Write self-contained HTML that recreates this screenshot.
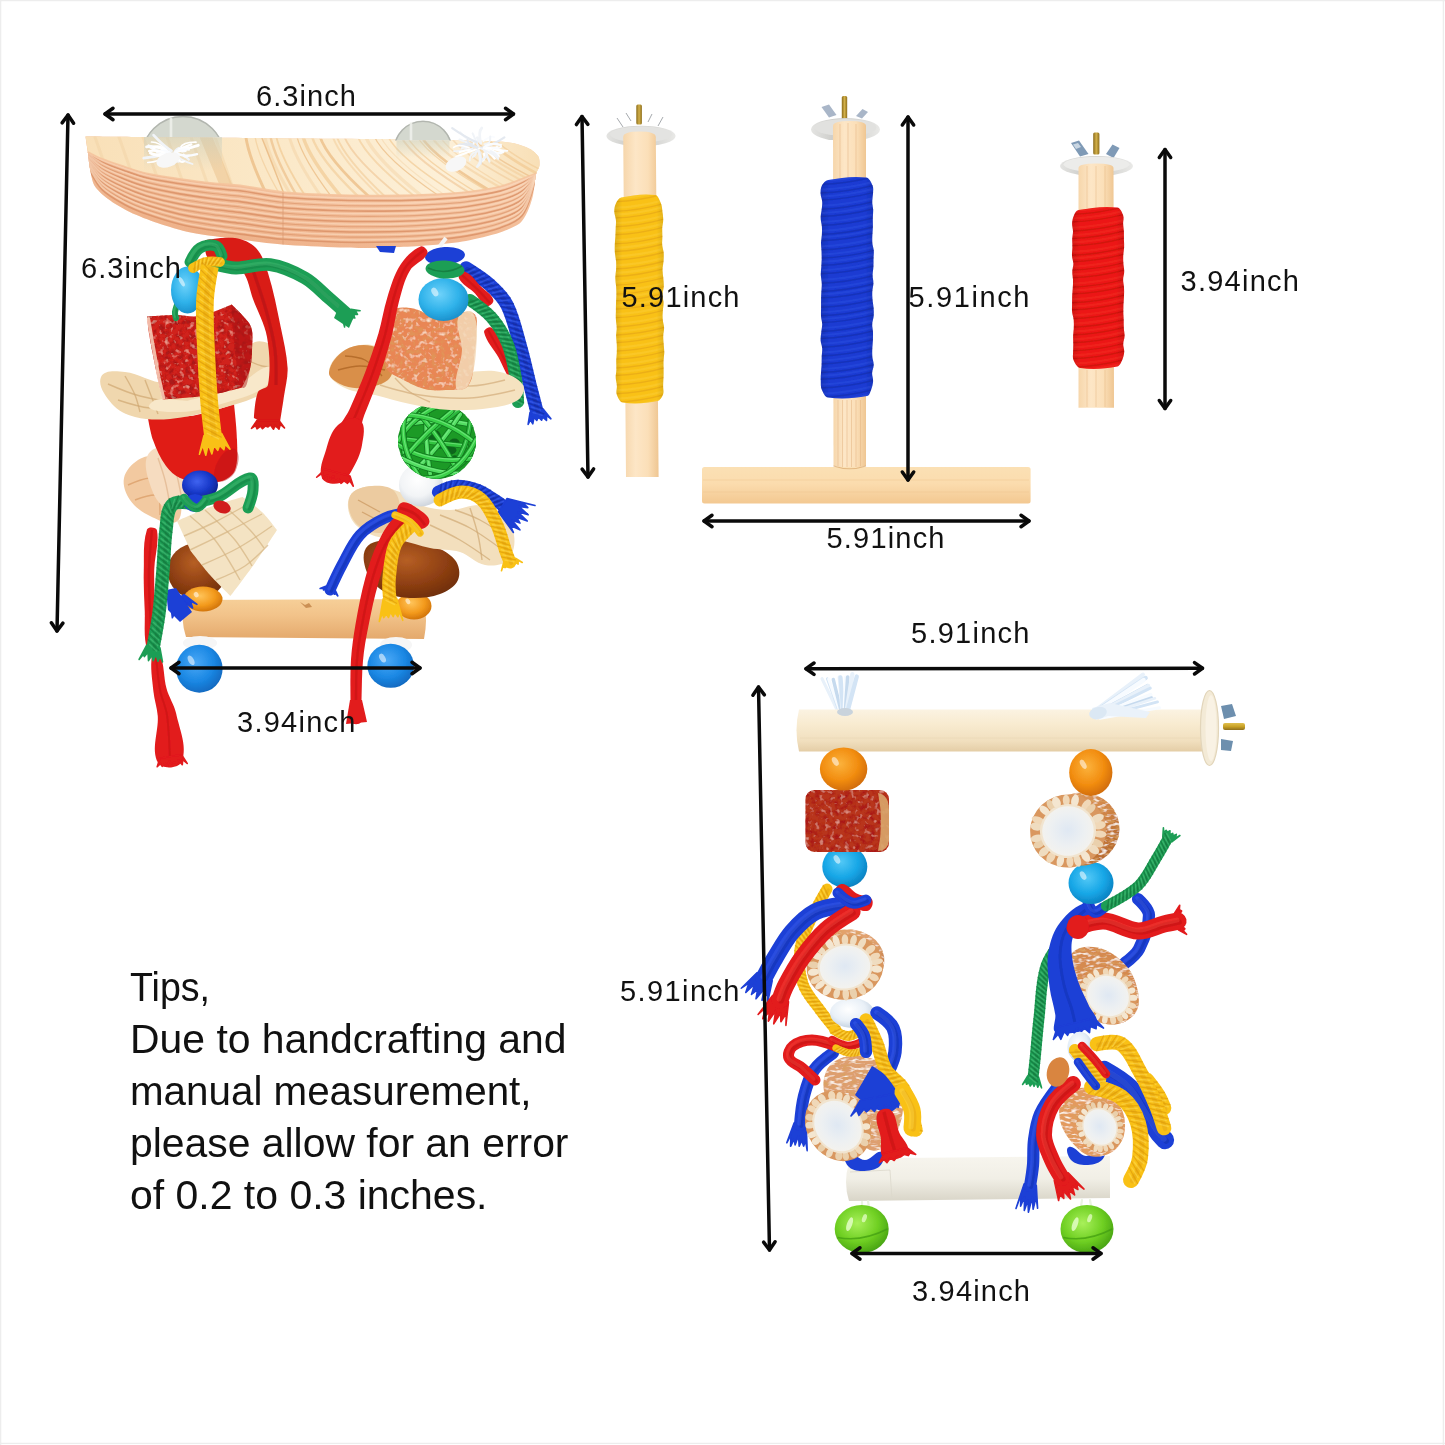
<!DOCTYPE html>
<html lang="en"><head><meta charset="utf-8"><title>Bird toy size chart</title>
<style>
html,body{margin:0;padding:0;background:#fff;}
body{width:1445px;height:1445px;overflow:hidden;font-family:"Liberation Sans",Arial,Helvetica,sans-serif;}
svg{display:block;position:absolute;left:0;top:0;}
</style></head><body>
<svg width="1445" height="1445" viewBox="0 0 1445 1445">
<defs>
<filter id="soft" x="0" y="0" width="1445" height="1445" filterUnits="userSpaceOnUse"><feGaussianBlur stdDeviation="0.55"/></filter>
<filter id="tex" x="-5%" y="-5%" width="110%" height="110%"><feTurbulence type="fractalNoise" baseFrequency="0.2" numOctaves="2" seed="3" result="n"/><feColorMatrix in="n" type="matrix" values="0 0 0 0 1  0 0 0 0 0.55  0 0 0 0 0.45  1.8 0 0 0 -1.05" result="w"/><feComposite in="w" in2="SourceGraphic" operator="in" result="wi"/><feColorMatrix in="n" type="matrix" values="0 0 0 0 0.4  0 0 0 0 0.01  0 0 0 0 0.01  0 3.0 0 0 -1.3" result="k"/><feComposite in="k" in2="SourceGraphic" operator="in" result="ki"/><feMerge><feMergeNode in="SourceGraphic"/><feMergeNode in="ki"/><feMergeNode in="wi"/></feMerge></filter><filter id="texO" x="-5%" y="-5%" width="110%" height="110%"><feTurbulence type="fractalNoise" baseFrequency="0.22" numOctaves="2" seed="5" result="n"/><feColorMatrix in="n" type="matrix" values="0 0 0 0 1  0 0 0 0 0.86  0 0 0 0 0.72  2.2 0 0 0 -1.18" result="w"/><feComposite in="w" in2="SourceGraphic" operator="in" result="wi"/><feColorMatrix in="n" type="matrix" values="0 0 0 0 0.74  0 0 0 0 0.3  0 0 0 0 0.1  0 3.0 0 0 -1.35" result="k"/><feComposite in="k" in2="SourceGraphic" operator="in" result="ki"/><feMerge><feMergeNode in="SourceGraphic"/><feMergeNode in="ki"/><feMergeNode in="wi"/></feMerge></filter><filter id="tex2" x="-5%" y="-5%" width="110%" height="110%"><feTurbulence type="fractalNoise" baseFrequency="0.14 0.34" numOctaves="2" seed="8" result="n"/><feColorMatrix in="n" type="matrix" values="0 0 0 0 1  0 0 0 0 0.96  0 0 0 0 0.9  3.2 0 0 0 -1.6" result="w"/><feComposite in="w" in2="SourceGraphic" operator="in" result="wi"/><feColorMatrix in="n" type="matrix" values="0 0 0 0 0.7  0 0 0 0 0.36  0 0 0 0 0.12  0 3.0 0 0 -1.45" result="k"/><feComposite in="k" in2="SourceGraphic" operator="in" result="ki"/><feMerge><feMergeNode in="SourceGraphic"/><feMergeNode in="ki"/><feMergeNode in="wi"/></feMerge></filter><filter id="texH" x="-5%" y="-5%" width="110%" height="110%"><feTurbulence type="fractalNoise" baseFrequency="0.05 0.4" numOctaves="2" seed="12" result="n"/><feColorMatrix in="n" type="matrix" values="0 0 0 0 1  0 0 0 0 0.98  0 0 0 0 0.92  2.4 0 0 0 -1.2" result="w"/><feComposite in="w" in2="SourceGraphic" operator="in" result="wi"/><feColorMatrix in="n" type="matrix" values="0 0 0 0 0.78  0 0 0 0 0.6  0 0 0 0 0.36  0 3.0 0 0 -1.4" result="k"/><feComposite in="k" in2="SourceGraphic" operator="in" result="ki"/><feMerge><feMergeNode in="SourceGraphic"/><feMergeNode in="ki"/><feMergeNode in="wi"/></feMerge></filter><filter id="texW" x="-5%" y="-5%" width="110%" height="110%"><feTurbulence type="fractalNoise" baseFrequency="0.015 0.5" numOctaves="3" seed="21" result="n"/><feColorMatrix in="n" type="matrix" values="0 0 0 0 1  0 0 0 0 0.9  0 0 0 0 0.8  2.5 0 0 0 -1.25" result="w"/><feComposite in="w" in2="SourceGraphic" operator="in" result="wi"/><feColorMatrix in="n" type="matrix" values="0 0 0 0 0.82  0 0 0 0 0.5  0 0 0 0 0.32  0 3.4 0 0 -1.5" result="k"/><feComposite in="k" in2="SourceGraphic" operator="in" result="ki"/><feMerge><feMergeNode in="SourceGraphic"/><feMergeNode in="ki"/><feMergeNode in="wi"/></feMerge></filter></defs>
<rect width="1445" height="1445" fill="#fff"/>
<g fill="none" stroke="#ededed" stroke-width="1.4"><path d="M0 .6H1445M.6 0V1445M1443.4 0V1445M0 1443.4H1445"/></g>
<g filter="url(#soft)">
<g id="toy1"><linearGradient id="cup" x1="0" x2="1" y1="0" y2="1"><stop offset="0" stop-color="#dededa"/><stop offset=".5" stop-color="#c2c3bd"/><stop offset="1" stop-color="#b4b6ae"/></linearGradient><linearGradient id="pside" x1="0" x2="0" y1="0" y2="1"><stop offset="0" stop-color="#f9d4b6"/><stop offset=".5" stop-color="#f6c8a6"/><stop offset="1" stop-color="#f1b892"/></linearGradient><linearGradient id="ptop" x1="0" x2="1" y1="0" y2="0"><stop offset="0" stop-color="#f9e0b8"/><stop offset=".45" stop-color="#fbe9c9"/><stop offset=".8" stop-color="#fdf0d8"/><stop offset="1" stop-color="#f8dfb6"/></linearGradient><path d="M85.5 136.5C85.5 136.5 169.8 137.2 200 137.5C226.4 137.7 273.6 138.3 300 138.5C331.7 138.8 388.3 139 420 139.5C441.1 139.8 478.9 140.6 500 141.5C503.7 141.7 510.4 142.4 514 143.3C518.4 144.4 526.1 146.9 530 149C532.6 150.4 536.9 154 538.4 156.6C539.6 158.7 539.8 163.2 539.5 165.5C539.2 167.7 536.7 171 536.2 173.2C534.9 179 534.3 189.6 533 195.4C532 199.9 529.4 207.8 527.4 212C525.8 215.3 522.5 221.3 519.6 223.5C515 226.9 505.4 230.7 500 232.5C491.2 235.4 475.1 239.3 466 241C457.4 242.6 441.7 244.2 433 245C424.3 245.8 408.7 246.6 400 247C393.1 247.3 380.9 247.9 374 248C365 248.1 349 247.8 340 247.5C324.7 246.9 297.3 245.7 282 244.5C270.9 243.6 251.1 241 240 239.5C227 237.8 203.6 235.1 190.7 232.5C181.8 230.7 166.1 225.9 157.5 223C150 220.5 136.9 215.5 129.8 212C123.7 209 113.1 202.8 107.7 198.7C103.7 195.7 96.9 189.7 94.4 185.4C92.1 181.5 90.9 173.2 90 168.8C89.1 164.4 88.4 156.4 87.8 152C87.2 147.9 85.5 136.5 85.5 136.5Z" fill="url(#pside)"/><clipPath id="psil"><path d="M85.5 136.5C85.5 136.5 169.8 137.2 200 137.5C226.4 137.7 273.6 138.3 300 138.5C331.7 138.8 388.3 139 420 139.5C441.1 139.8 478.9 140.6 500 141.5C503.7 141.7 510.4 142.4 514 143.3C518.4 144.4 526.1 146.9 530 149C532.6 150.4 536.9 154 538.4 156.6C539.6 158.7 539.8 163.2 539.5 165.5C539.2 167.7 536.7 171 536.2 173.2C534.9 179 534.3 189.6 533 195.4C532 199.9 529.4 207.8 527.4 212C525.8 215.3 522.5 221.3 519.6 223.5C515 226.9 505.4 230.7 500 232.5C491.2 235.4 475.1 239.3 466 241C457.4 242.6 441.7 244.2 433 245C424.3 245.8 408.7 246.6 400 247C393.1 247.3 380.9 247.9 374 248C365 248.1 349 247.8 340 247.5C324.7 246.9 297.3 245.7 282 244.5C270.9 243.6 251.1 241 240 239.5C227 237.8 203.6 235.1 190.7 232.5C181.8 230.7 166.1 225.9 157.5 223C150 220.5 136.9 215.5 129.8 212C123.7 209 113.1 202.8 107.7 198.7C103.7 195.7 96.9 189.7 94.4 185.4C92.1 181.5 90.9 173.2 90 168.8C89.1 164.4 88.4 156.4 87.8 152C87.2 147.9 85.5 136.5 85.5 136.5Z"/></clipPath><linearGradient id="psidel" x1="0" x2="1" y1="0" y2="0"><stop offset="0" stop-color="#e59a6c" stop-opacity=".42"/><stop offset=".45" stop-color="#e59a6c" stop-opacity=".18"/><stop offset=".7" stop-color="#e59a6c" stop-opacity="0"/></linearGradient><rect x="80" y="130" width="470" height="125" fill="url(#psidel)" clip-path="url(#psil)"/><g clip-path="url(#psil)" fill="none"><path d="M80 143.8C80 143.8 84.6 151.1 87.8 153.8C92 157.3 97.1 159.9 102 162.2C109.1 165.5 116.9 168.1 124.3 170.7C131.5 173.2 139 176 146.4 177.7C157.3 180.3 168.7 182 179.7 183.8C190.7 185.5 202 187 213 188.3C221.9 189.3 231.1 189.7 240 190.8C254.2 192.6 268.7 195.9 283 197.3C302.1 199 321.8 199.7 341 200.3C360.5 200.8 380.5 200.7 400 200.6C410.9 200.5 422.1 200 433 199.4C443.9 198.8 455.2 198.2 466 196.9C477.3 195.5 489 193.9 500 191.1C507.5 189.2 515 186.2 522 182.9C527 180.6 532.3 178 536.2 174.1C540.1 170.2 545 160.1 545 160.1" stroke="#d98f64" stroke-width="1.6" opacity=".8"/><path d="M80 143.8C80 143.8 84.6 151.1 87.8 153.8C92 157.3 97.1 159.9 102 162.2C109.1 165.5 116.9 168.1 124.3 170.7C131.5 173.2 139 176 146.4 177.7C157.3 180.3 168.7 182 179.7 183.8C190.7 185.5 202 187 213 188.3C221.9 189.3 231.1 189.7 240 190.8C254.2 192.6 268.7 195.9 283 197.3C302.1 199 321.8 199.7 341 200.3C360.5 200.8 380.5 200.7 400 200.6C410.9 200.5 422.1 200 433 199.4C443.9 198.8 455.2 198.2 466 196.9C477.3 195.5 489 193.9 500 191.1C507.5 189.2 515 186.2 522 182.9C527 180.6 532.3 178 536.2 174.1C540.1 170.2 545 160.1 545 160.1" stroke="#fbdcc2" stroke-width="1.6" opacity=".6" transform="translate(0 -2.5)"/><path d="M80 145.6C80 145.6 84.7 152.8 87.8 155.6C92 159.5 96.9 163 102 165.6C109 169.4 116.8 172.1 124.3 174.9C131.5 177.6 138.9 180.4 146.4 182.3C157.3 185 168.7 187 179.7 188.8C190.6 190.7 202 192.2 213 193.5C221.9 194.6 231.1 195.1 240 196.2C254.2 198 268.7 201.2 283 202.5C302.1 204.3 321.8 205 341 205.5C360.5 206 380.5 205.9 400 205.7C410.9 205.6 422.1 205.1 433 204.4C443.9 203.8 455.2 203.2 466 201.8C477.3 200.3 489 198.6 500 195.7C507.5 193.7 515.2 190.9 522 187C527.3 184 532.1 179.6 536.2 175C539.8 170.9 545 161 545 161" stroke="#d98f64" stroke-width="1.2" opacity=".6"/><path d="M80 145.6C80 145.6 84.7 152.8 87.8 155.6C92 159.5 96.9 163 102 165.6C109 169.4 116.8 172.1 124.3 174.9C131.5 177.6 138.9 180.4 146.4 182.3C157.3 185 168.7 187 179.7 188.8C190.6 190.7 202 192.2 213 193.5C221.9 194.6 231.1 195.1 240 196.2C254.2 198 268.7 201.2 283 202.5C302.1 204.3 321.8 205 341 205.5C360.5 206 380.5 205.9 400 205.7C410.9 205.6 422.1 205.1 433 204.4C443.9 203.8 455.2 203.2 466 201.8C477.3 200.3 489 198.6 500 195.7C507.5 193.7 515.2 190.9 522 187C527.3 184 532.1 179.6 536.2 175C539.8 170.9 545 161 545 161" stroke="#fbdcc2" stroke-width="1.6" opacity=".6" transform="translate(0 -2.5)"/><path d="M80 147.4C80 147.4 84.8 154.5 87.8 157.4C92.1 161.7 96.8 166 102 169.1C108.9 173.2 116.8 176.2 124.3 179.2C131.5 182 138.9 184.8 146.4 186.8C157.3 189.7 168.6 191.9 179.7 193.9C190.6 195.9 202 197.4 213 198.8C221.9 199.9 231.1 200.5 240 201.6C254.2 203.5 268.7 206.5 283 207.8C302.1 209.5 321.8 210.2 341 210.8C360.5 211.3 380.5 211.1 400 210.9C410.9 210.7 422.1 210.2 433 209.5C443.9 208.8 455.2 208.2 466 206.7C477.3 205.1 489 203.4 500 200.3C507.6 198.2 515.5 195.6 522 191.1C527.7 187.3 531.9 181.3 536.2 175.8C539.6 171.5 545 161.8 545 161.8" stroke="#d98f64" stroke-width="1.6" opacity=".8"/><path d="M80 147.4C80 147.4 84.8 154.5 87.8 157.4C92.1 161.7 96.8 166 102 169.1C108.9 173.2 116.8 176.2 124.3 179.2C131.5 182 138.9 184.8 146.4 186.8C157.3 189.7 168.6 191.9 179.7 193.9C190.6 195.9 202 197.4 213 198.8C221.9 199.9 231.1 200.5 240 201.6C254.2 203.5 268.7 206.5 283 207.8C302.1 209.5 321.8 210.2 341 210.8C360.5 211.3 380.5 211.1 400 210.9C410.9 210.7 422.1 210.2 433 209.5C443.9 208.8 455.2 208.2 466 206.7C477.3 205.1 489 203.4 500 200.3C507.6 198.2 515.5 195.6 522 191.1C527.7 187.3 531.9 181.3 536.2 175.8C539.6 171.5 545 161.8 545 161.8" stroke="#fbdcc2" stroke-width="1.6" opacity=".6" transform="translate(0 -2.5)"/><path d="M80 149.2C80 149.2 84.9 156.2 87.8 159.2C92.2 163.9 96.7 168.9 102 172.5C108.8 177 116.8 180.2 124.3 183.4C131.4 186.4 138.9 189.3 146.4 191.4C157.3 194.4 168.6 196.8 179.7 199C190.6 201 202 202.6 213 204.1C221.9 205.3 231.1 205.9 240 207C254.2 208.9 268.7 211.8 283 213C302.1 214.7 321.8 215.5 341 216C360.5 216.5 380.5 216.3 400 216C410.9 215.9 422.1 215.3 433 214.6C443.9 213.8 455.2 213.2 466 211.6C477.3 210 489 208.1 500 204.9C507.6 202.7 515.7 200.1 522 195.3C528.1 190.5 531.8 183 536.2 176.7C539.3 172.3 545 162.7 545 162.7" stroke="#d98f64" stroke-width="1.2" opacity=".6"/><path d="M80 149.2C80 149.2 84.9 156.2 87.8 159.2C92.2 163.9 96.7 168.9 102 172.5C108.8 177 116.8 180.2 124.3 183.4C131.4 186.4 138.9 189.3 146.4 191.4C157.3 194.4 168.6 196.8 179.7 199C190.6 201 202 202.6 213 204.1C221.9 205.3 231.1 205.9 240 207C254.2 208.9 268.7 211.8 283 213C302.1 214.7 321.8 215.5 341 216C360.5 216.5 380.5 216.3 400 216C410.9 215.9 422.1 215.3 433 214.6C443.9 213.8 455.2 213.2 466 211.6C477.3 210 489 208.1 500 204.9C507.6 202.7 515.7 200.1 522 195.3C528.1 190.5 531.8 183 536.2 176.7C539.3 172.3 545 162.7 545 162.7" stroke="#fbdcc2" stroke-width="1.6" opacity=".6" transform="translate(0 -2.5)"/><path d="M80 151C80 151 85 157.9 87.8 161C92.3 166.1 96.5 171.9 102 175.9C108.7 180.8 116.7 184.2 124.3 187.6C131.4 190.8 138.9 193.7 146.4 195.9C157.2 199.1 168.6 201.8 179.7 204C190.6 206.2 202 207.8 213 209.3C221.9 210.6 231.1 211.3 240 212.4C254.2 214.3 268.7 217 283 218.3C302.1 219.9 321.8 220.8 341 221.3C360.5 221.7 380.5 221.5 400 221.2C410.9 221 422.1 220.4 433 219.7C443.9 218.9 455.2 218.1 466 216.5C477.3 214.8 489 212.8 500 209.5C507.6 207.2 516 204.7 522 199.4C528.4 193.7 531.6 184.8 536.2 177.6C539.2 173 545 163.6 545 163.6" stroke="#d98f64" stroke-width="1.6" opacity=".8"/><path d="M80 151C80 151 85 157.9 87.8 161C92.3 166.1 96.5 171.9 102 175.9C108.7 180.8 116.7 184.2 124.3 187.6C131.4 190.8 138.9 193.7 146.4 195.9C157.2 199.1 168.6 201.8 179.7 204C190.6 206.2 202 207.8 213 209.3C221.9 210.6 231.1 211.3 240 212.4C254.2 214.3 268.7 217 283 218.3C302.1 219.9 321.8 220.8 341 221.3C360.5 221.7 380.5 221.5 400 221.2C410.9 221 422.1 220.4 433 219.7C443.9 218.9 455.2 218.1 466 216.5C477.3 214.8 489 212.8 500 209.5C507.6 207.2 516 204.7 522 199.4C528.4 193.7 531.6 184.8 536.2 177.6C539.2 173 545 163.6 545 163.6" stroke="#fbdcc2" stroke-width="1.6" opacity=".6" transform="translate(0 -2.5)"/><path d="M80 152.8C80 152.8 85.1 159.6 87.8 162.8C92.4 168.3 96.4 174.8 102 179.3C108.6 184.6 116.7 188.2 124.3 191.8C131.4 195.2 138.9 198.1 146.4 200.4C157.2 203.8 168.6 206.7 179.7 209.1C190.6 211.4 202 213 213 214.6C221.9 215.9 231.1 216.7 240 217.9C254.2 219.7 268.7 222.3 283 223.5C302.1 225.2 321.8 226 341 226.5C360.5 227 380.5 226.7 400 226.4C410.9 226.1 422.1 225.5 433 224.7C443.9 223.9 455.2 223.1 466 221.4C477.3 219.6 489.1 217.6 500 214.1C507.7 211.6 516.3 209.1 522 203.5C528.8 196.8 531.4 186.7 536.2 178.5C539 173.8 545 164.5 545 164.5" stroke="#d98f64" stroke-width="1.2" opacity=".6"/><path d="M80 152.8C80 152.8 85.1 159.6 87.8 162.8C92.4 168.3 96.4 174.8 102 179.3C108.6 184.6 116.7 188.2 124.3 191.8C131.4 195.2 138.9 198.1 146.4 200.4C157.2 203.8 168.6 206.7 179.7 209.1C190.6 211.4 202 213 213 214.6C221.9 215.9 231.1 216.7 240 217.9C254.2 219.7 268.7 222.3 283 223.5C302.1 225.2 321.8 226 341 226.5C360.5 227 380.5 226.7 400 226.4C410.9 226.1 422.1 225.5 433 224.7C443.9 223.9 455.2 223.1 466 221.4C477.3 219.6 489.1 217.6 500 214.1C507.7 211.6 516.3 209.1 522 203.5C528.8 196.8 531.4 186.7 536.2 178.5C539 173.8 545 164.5 545 164.5" stroke="#fbdcc2" stroke-width="1.6" opacity=".6" transform="translate(0 -2.5)"/><path d="M80 154.6C80 154.6 85.2 161.3 87.8 164.6C92.5 170.6 96.2 177.8 102 182.7C108.5 188.3 116.6 192.2 124.3 196C131.3 199.6 138.9 202.5 146.4 205C157.2 208.5 168.6 211.7 179.7 214.2C190.6 216.6 202 218.2 213 219.9C221.9 221.2 231.1 222.1 240 223.3C254.2 225.1 268.7 227.6 283 228.8C302.1 230.4 321.8 231.3 341 231.8C360.5 232.2 380.5 231.9 400 231.5C410.9 231.3 422.1 230.6 433 229.8C443.9 228.9 455.2 228.1 466 226.3C477.3 224.4 489.1 222.3 500 218.7C507.7 216.1 516.5 213.6 522 207.6C529.1 199.9 531.2 188.5 536.2 179.4C538.8 174.6 545 165.4 545 165.4" stroke="#d98f64" stroke-width="1.6" opacity=".8"/><path d="M80 154.6C80 154.6 85.2 161.3 87.8 164.6C92.5 170.6 96.2 177.8 102 182.7C108.5 188.3 116.6 192.2 124.3 196C131.3 199.6 138.9 202.5 146.4 205C157.2 208.5 168.6 211.7 179.7 214.2C190.6 216.6 202 218.2 213 219.9C221.9 221.2 231.1 222.1 240 223.3C254.2 225.1 268.7 227.6 283 228.8C302.1 230.4 321.8 231.3 341 231.8C360.5 232.2 380.5 231.9 400 231.5C410.9 231.3 422.1 230.6 433 229.8C443.9 228.9 455.2 228.1 466 226.3C477.3 224.4 489.1 222.3 500 218.7C507.7 216.1 516.5 213.6 522 207.6C529.1 199.9 531.2 188.5 536.2 179.4C538.8 174.6 545 165.4 545 165.4" stroke="#fbdcc2" stroke-width="1.6" opacity=".6" transform="translate(0 -2.5)"/><path d="M80 156.4C80 156.4 85.3 163 87.8 166.4C92.6 172.9 96.1 180.7 102 186.2C108.4 192.1 116.6 196.2 124.3 200.3C131.3 203.9 138.9 207 146.4 209.5C157.2 213.2 168.6 216.6 179.7 219.2C190.6 221.8 202 223.4 213 225.1C221.9 226.5 231.1 227.5 240 228.7C254.2 230.5 268.7 232.9 283 234C302.1 235.6 321.8 236.6 341 237C360.5 237.5 380.5 237.1 400 236.7C410.9 236.4 422.1 235.8 433 234.9C443.9 234 455.2 233.1 466 231.2C477.4 229.2 489.1 227.1 500 223.3C507.7 220.6 516.7 218 522 211.7C529.3 203 531.1 190.4 536.2 180.2C538.7 175.4 545 166.2 545 166.2" stroke="#d98f64" stroke-width="1.2" opacity=".6"/><path d="M80 156.4C80 156.4 85.3 163 87.8 166.4C92.6 172.9 96.1 180.7 102 186.2C108.4 192.1 116.6 196.2 124.3 200.3C131.3 203.9 138.9 207 146.4 209.5C157.2 213.2 168.6 216.6 179.7 219.2C190.6 221.8 202 223.4 213 225.1C221.9 226.5 231.1 227.5 240 228.7C254.2 230.5 268.7 232.9 283 234C302.1 235.6 321.8 236.6 341 237C360.5 237.5 380.5 237.1 400 236.7C410.9 236.4 422.1 235.8 433 234.9C443.9 234 455.2 233.1 466 231.2C477.4 229.2 489.1 227.1 500 223.3C507.7 220.6 516.7 218 522 211.7C529.3 203 531.1 190.4 536.2 180.2C538.7 175.4 545 166.2 545 166.2" stroke="#fbdcc2" stroke-width="1.6" opacity=".6" transform="translate(0 -2.5)"/><path d="M80 158.2C80 158.2 85.4 164.8 87.8 168.2C92.7 175.1 96 183.6 102 189.6C108.3 195.8 116.6 200.2 124.3 204.5C131.3 208.3 138.9 211.4 146.4 214.1C157.2 217.9 168.5 221.5 179.7 224.3C190.6 227 202 228.6 213 230.4C221.9 231.8 231.1 233 240 234.1C254.2 235.9 268.8 238.1 283 239.3C302.1 240.8 321.8 241.8 341 242.3C360.5 242.7 380.5 242.3 400 241.8C410.9 241.6 422.1 240.9 433 239.9C443.9 239 455.2 238 466 236.1C477.4 234.1 489.1 231.8 500 227.9C507.8 225.1 516.9 222.4 522 215.8C529.6 206.1 530.9 192.3 536.2 181.1C538.5 176.2 545 167.1 545 167.1" stroke="#d98f64" stroke-width="1.6" opacity=".8"/><path d="M80 158.2C80 158.2 85.4 164.8 87.8 168.2C92.7 175.1 96 183.6 102 189.6C108.3 195.8 116.6 200.2 124.3 204.5C131.3 208.3 138.9 211.4 146.4 214.1C157.2 217.9 168.5 221.5 179.7 224.3C190.6 227 202 228.6 213 230.4C221.9 231.8 231.1 233 240 234.1C254.2 235.9 268.8 238.1 283 239.3C302.1 240.8 321.8 241.8 341 242.3C360.5 242.7 380.5 242.3 400 241.8C410.9 241.6 422.1 240.9 433 239.9C443.9 239 455.2 238 466 236.1C477.4 234.1 489.1 231.8 500 227.9C507.8 225.1 516.9 222.4 522 215.8C529.6 206.1 530.9 192.3 536.2 181.1C538.5 176.2 545 167.1 545 167.1" stroke="#fbdcc2" stroke-width="1.6" opacity=".6" transform="translate(0 -2.5)"/><path d="M283 192V250" stroke="#d99a72" stroke-width="1.2" opacity=".6"/></g><path d="M85.5 136.5C85.5 136.5 169.8 137.2 200 137.5C226.4 137.7 273.6 138.3 300 138.5C331.7 138.8 388.3 139 420 139.5C441.1 139.8 478.9 140.6 500 141.5C503.7 141.7 510.4 142.4 514 143.3C518.4 144.4 526.1 146.9 530 149C532.6 150.4 536.9 154 538.4 156.6C539.6 158.7 539.8 163.2 539.5 165.5C539.2 167.7 536.2 173.2 536.2 173.2C536.2 173.2 525.8 177.4 522 178.8C516.2 180.9 506 185.1 500 186.5C491.1 188.6 475 190.9 466 192C457.3 193 441.7 193.9 433 194.3C424.3 194.7 408.7 195.3 400 195.4C384.4 195.5 356.6 195.5 341 195C325.7 194.6 298.3 193.5 283 192C271.6 190.9 251.4 186.9 240 185.4C232.9 184.5 220.1 183.8 213 183C204.2 182 188.5 180 179.7 178.7C170.9 177.4 155.1 175.1 146.4 173.2C140.4 171.9 130.1 168.4 124.3 166.5C118.4 164.6 107.8 161.1 102 158.8C98.1 157.3 87.8 152 87.8 152L85.5 136.5Z" fill="url(#ptop)"/><clipPath id="ptopc"><path d="M85.5 136.5C85.5 136.5 169.8 137.2 200 137.5C226.4 137.7 273.6 138.3 300 138.5C331.7 138.8 388.3 139 420 139.5C441.1 139.8 478.9 140.6 500 141.5C503.7 141.7 510.4 142.4 514 143.3C518.4 144.4 526.1 146.9 530 149C532.6 150.4 536.9 154 538.4 156.6C539.6 158.7 539.8 163.2 539.5 165.5C539.2 167.7 536.2 173.2 536.2 173.2C536.2 173.2 525.8 177.4 522 178.8C516.2 180.9 506 185.1 500 186.5C491.1 188.6 475 190.9 466 192C457.3 193 441.7 193.9 433 194.3C424.3 194.7 408.7 195.3 400 195.4C384.4 195.5 356.6 195.5 341 195C325.7 194.6 298.3 193.5 283 192C271.6 190.9 251.4 186.9 240 185.4C232.9 184.5 220.1 183.8 213 183C204.2 182 188.5 180 179.7 178.7C170.9 177.4 155.1 175.1 146.4 173.2C140.4 171.9 130.1 168.4 124.3 166.5C118.4 164.6 107.8 161.1 102 158.8C98.1 157.3 87.8 152 87.8 152L85.5 136.5Z"/></clipPath><g clip-path="url(#ptopc)" fill="none" stroke-linecap="round"><path d="M245.7 136Q249.2 160 269.4 200" stroke="#e8b072" stroke-width="2.9" opacity="0.6"/><path d="M254.9 136Q258.9 160 283.1 200" stroke="#f0c48a" stroke-width="1.3" opacity="0.5"/><path d="M264.7 136Q269.2 160 293.8 200" stroke="#f0c48a" stroke-width="3.2" opacity="0.3"/><path d="M270.3 136Q275.3 160 299.3 200" stroke="#e8b072" stroke-width="2.4" opacity="0.5"/><path d="M276.1 136Q281.6 160 307.9 200" stroke="#f0c48a" stroke-width="1.8" opacity="0.6"/><path d="M289.1 136Q295.1 160 323.6 200" stroke="#f0c48a" stroke-width="3" opacity="0.3"/><path d="M296.7 136Q303.2 160 334 200" stroke="#e8b072" stroke-width="1.2" opacity="0.6"/><path d="M302.8 136Q309.8 160 343.9 200" stroke="#f0c48a" stroke-width="3.4" opacity="0.6"/><path d="M311.7 136Q319.2 160 361.9 200" stroke="#f0c48a" stroke-width="2.4" opacity="0.5"/><path d="M319.7 136Q327.7 160 372.9 200" stroke="#e8b072" stroke-width="2.7" opacity="0.6"/><path d="M332.4 136Q340.9 160 383.5 200" stroke="#f0c48a" stroke-width="2" opacity="0.4"/><path d="M336.4 136Q345.4 160 388.7 200" stroke="#f0c48a" stroke-width="1.9" opacity="0.5"/><path d="M344 136Q353.5 160 404.3 200" stroke="#e8b072" stroke-width="1.9" opacity="0.4"/><path d="M357.4 136Q367.4 160 419.3 200" stroke="#f0c48a" stroke-width="1.9" opacity="0.5"/><path d="M365.2 136Q375.7 160 426.8 200" stroke="#f0c48a" stroke-width="3.3" opacity="0.3"/><path d="M374 136Q385 160 445 200" stroke="#e8b072" stroke-width="1.2" opacity="0.6"/><path d="M380.2 136Q391.7 160 452.1 200" stroke="#f0c48a" stroke-width="1.2" opacity="0.3"/><path d="M387.6 136Q399.6 160 465.6 200" stroke="#f0c48a" stroke-width="1.6" opacity="0.6"/><path d="M400.6 136Q413.1 160 481.6 200" stroke="#e8b072" stroke-width="2" opacity="0.4"/><path d="M406.6 136Q419.6 160 489.5 200" stroke="#f0c48a" stroke-width="1.4" opacity="0.6"/><path d="M416.8 136Q430.3 160 503.4 200" stroke="#f0c48a" stroke-width="1.3" opacity="0.6"/><path d="M421 136Q435 160 506.6 200" stroke="#e8b072" stroke-width="2.5" opacity="0.6"/><path d="M431 136Q445.5 160 524.3 200" stroke="#f0c48a" stroke-width="2.4" opacity="0.4"/><path d="M439.4 136Q454.4 160 529.8 200" stroke="#f0c48a" stroke-width="1.4" opacity="0.4"/><path d="M450.1 136Q465.6 160 550.2 200" stroke="#e8b072" stroke-width="1.6" opacity="0.3"/><path d="M460.4 136Q476.4 160 559.9 200" stroke="#f0c48a" stroke-width="2.1" opacity="0.4"/><path d="M466.6 136Q483.1 160 571.5 200" stroke="#f0c48a" stroke-width="2.2" opacity="0.4"/><path d="M471.8 136Q488.8 160 580.6 200" stroke="#e8b072" stroke-width="1.3" opacity="0.5"/><path d="M485 136Q502.5 160 590.6 200" stroke="#f0c48a" stroke-width="2.8" opacity="0.6"/><path d="M492.3 136Q510.3 160 606.2 200" stroke="#f0c48a" stroke-width="1.4" opacity="0.5"/><path d="M95 137L117 200" stroke="#f1cf9f" stroke-width="3" opacity=".4"/><path d="M119 137L141 200" stroke="#f1cf9f" stroke-width="3" opacity=".4"/><path d="M143 137L165 200" stroke="#f1cf9f" stroke-width="3" opacity=".4"/><path d="M167 137L189 200" stroke="#f1cf9f" stroke-width="3" opacity=".4"/><path d="M191 137L213 200" stroke="#f1cf9f" stroke-width="3" opacity=".4"/><path d="M215 137L237 200" stroke="#f1cf9f" stroke-width="3" opacity=".4"/><path d="M206 137L228 190" stroke="#e9bd84" stroke-width="12" opacity=".45"/><path d="M262 138L284 194" stroke="#e8b880" stroke-width="1.5" opacity=".8"/></g><path d="M87.8 152C87.8 152 97.2 156.9 102 158.8C109.2 161.7 116.9 164.1 124.3 166.5C131.5 168.9 139 171.6 146.4 173.2C157.3 175.6 168.7 177.1 179.7 178.7C190.7 180.3 202 181.8 213 183C221.9 184 231.1 184.3 240 185.4C254.2 187.2 268.7 190.6 283 192C302.1 193.8 321.8 194.4 341 195C360.5 195.6 380.5 195.5 400 195.4C410.9 195.3 422.1 194.9 433 194.3C443.9 193.7 455.2 193.3 466 192C477.3 190.7 488.9 189.1 500 186.5C507.5 184.7 514.8 181.5 522 178.8C526.7 177.1 536.2 173.2 536.2 173.2" fill="none" stroke="#f4c39c" stroke-width="1.6" opacity=".85"/><clipPath id="cupa183"><rect x="139" y="100" width="88" height="37"/></clipPath><clipPath id="cupb183"><rect x="139" y="137" width="88" height="34"/></clipPath><g clip-path="url(#cupa183)"><ellipse cx="183" cy="157.7" rx="42" ry="42" fill="#d4d8cf" /><ellipse cx="183" cy="157.7" rx="41.2" ry="41.2" fill="none" stroke="#a9ada6" stroke-width="1.3" opacity=".8"/><path d="M171 117.7V137" stroke="#eef0ea" stroke-width="2.6" opacity=".9"/></g><linearGradient id="cupf183" x1="0" x2="0" y1="0" y2="1"><stop offset="0" stop-color="#c4cdbf" stop-opacity=".5"/><stop offset="1" stop-color="#c4cdbf" stop-opacity="0"/></linearGradient><g clip-path="url(#cupb183)"><rect x="144" y="137" width="78" height="34" fill="url(#cupf183)"/></g><clipPath id="cupa423"><rect x="391.5" y="100" width="63" height="40.5"/></clipPath><clipPath id="cupb423"><rect x="391.5" y="140.5" width="63" height="17.5"/></clipPath><g clip-path="url(#cupa423)"><ellipse cx="423" cy="150" rx="29.5" ry="29.5" fill="#d4d8cf" /><ellipse cx="423" cy="150" rx="28.7" ry="28.7" fill="none" stroke="#a9ada6" stroke-width="1.3" opacity=".8"/><path d="M411 122.5V140.5" stroke="#eef0ea" stroke-width="2.6" opacity=".9"/></g><linearGradient id="cupf423" x1="0" x2="0" y1="0" y2="1"><stop offset="0" stop-color="#c4cdbf" stop-opacity=".5"/><stop offset="1" stop-color="#c4cdbf" stop-opacity="0"/></linearGradient><g clip-path="url(#cupb423)"><rect x="396.5" y="140.5" width="53" height="17.5" fill="url(#cupf423)"/></g><g fill="none" stroke-linecap="round"><path d="M165.3 154.1Q154.6 157 143.7 158.1" stroke="#f1f4f8" stroke-width="2.7"/><path d="M164.4 153.6Q155.6 154.5 153.9 154.6" stroke="#ffffff" stroke-width="2.4"/><path d="M167.5 154.8Q158.9 162 147.8 162.5" stroke="#ffffff" stroke-width="1.7"/><path d="M173.1 154.5Q175.2 161.5 178.5 161.6" stroke="#f1f4f8" stroke-width="2.5"/><path d="M163.7 153Q161.9 158 150.1 153" stroke="#ffffff" stroke-width="2.6"/><path d="M170.9 154.4Q175.2 158 174.1 163.6" stroke="#e4e9f0" stroke-width="2.1"/><path d="M182.2 151.5Q187.6 150.8 184.8 150.7" stroke="#fafcff" stroke-width="2.2"/><path d="M169.7 152.5Q156.2 144.8 146.5 146.9" stroke="#fafcff" stroke-width="2.7"/><path d="M174.3 154.1Q184.5 153.7 188.8 159.7" stroke="#f1f4f8" stroke-width="2.2"/><path d="M175.3 157.6Q171.6 159.2 175.5 162.5" stroke="#f1f4f8" stroke-width="1.6"/><path d="M180 148.1Q183.2 142 196 142.2" stroke="#ffffff" stroke-width="1.7"/><path d="M175.3 155.4Q180.9 156.7 179.8 160.2" stroke="#ffffff" stroke-width="1.7"/><path d="M169.4 152.2Q158.6 153.6 148.7 145.8" stroke="#fafcff" stroke-width="2.8"/><path d="M175.2 155Q181.2 160.6 192.6 164" stroke="#f1f4f8" stroke-width="1.8"/><path d="M167.2 150.3Q159.2 141.9 151.5 142" stroke="#ffffff" stroke-width="1.7"/><path d="M183.7 154.6Q183.9 158.4 189.1 155.7" stroke="#fafcff" stroke-width="2"/><path d="M176.1 157.3Q180.6 163 183.9 161.6" stroke="#ffffff" stroke-width="2"/><path d="M174.2 152.3Q178.1 146 183.1 148.5" stroke="#f1f4f8" stroke-width="2"/><path d="M160.1 151.7Q157.3 149.7 155.4 151.1" stroke="#f1f4f8" stroke-width="2.4"/><path d="M177.3 151.5Q178 150.4 188.1 147.4" stroke="#ffffff" stroke-width="2.3"/><path d="M171.5 150.9Q163 145.4 153.6 135.1" stroke="#f1f4f8" stroke-width="2.7"/><path d="M175.8 151.8Q190.7 147.7 198.3 145.3" stroke="#ffffff" stroke-width="2.8"/><path d="M165 151.1Q160.4 145.1 153.7 147.5" stroke="#ffffff" stroke-width="3"/><path d="M178.6 149.6Q185.8 146.4 191.3 144.4" stroke="#ffffff" stroke-width="2.3"/><path d="M168.1 152.8Q167.1 148.6 157 152.1" stroke="#fafcff" stroke-width="2"/><path d="M175.7 153.1Q183.1 157.7 197.1 154.1" stroke="#fafcff" stroke-width="2.3"/><path d="M172.3 155.7Q174.1 162.5 169.9 164.2" stroke="#f1f4f8" stroke-width="2.8"/><path d="M166.6 155.6Q165.2 161.6 163.9 160.9" stroke="#ffffff" stroke-width="2.6"/><path d="M175.3 152.4Q179.9 148.2 189 149.7" stroke="#fafcff" stroke-width="2.1"/><path d="M163.7 152.4Q157.6 150 149 151.1" stroke="#ffffff" stroke-width="2"/><path d="M472.3 144.7Q467.4 142.8 459.5 139.6" stroke="#f1f4f8" stroke-width="2.2"/><path d="M484.1 153.6Q485.5 161.8 481 160.4" stroke="#ffffff" stroke-width="2.2"/><path d="M473.5 144.3Q475.2 136.2 473.3 134.2" stroke="#fafcff" stroke-width="2"/><path d="M477.5 142.2Q466.2 140 460.3 132.3" stroke="#f1f4f8" stroke-width="2.2"/><path d="M483.4 141.1Q490.9 135.4 494 137" stroke="#fafcff" stroke-width="1.9"/><path d="M480.1 148Q492.3 145.9 504.4 137.4" stroke="#e4e9f0" stroke-width="2.2"/><path d="M478.3 146.7Q476.9 142.2 472.6 133.3" stroke="#f1f4f8" stroke-width="1.9"/><path d="M479 148.4Q472 150.2 456.3 156.8" stroke="#ffffff" stroke-width="2.1"/><path d="M485.6 149.7Q492.1 148.2 498.8 156.1" stroke="#ffffff" stroke-width="2.2"/><path d="M487.6 148.9Q495 155.4 503.1 151.9" stroke="#fafcff" stroke-width="2.9"/><path d="M466.2 148.3Q464.2 146.3 461.7 148.5" stroke="#f1f4f8" stroke-width="2.3"/><path d="M484.5 144.3Q490.9 144.5 490.3 136.5" stroke="#f1f4f8" stroke-width="2"/><path d="M485 151.3Q489 151 494.7 158.4" stroke="#ffffff" stroke-width="2.4"/><path d="M493.9 149.3Q503.7 150.7 507.5 150.8" stroke="#fafcff" stroke-width="1.7"/><path d="M486.8 154.3Q486.6 156.8 480.5 161.3" stroke="#f1f4f8" stroke-width="2.3"/><path d="M484.4 150.4Q486.7 154.2 489.5 161.6" stroke="#f1f4f8" stroke-width="2.2"/><path d="M483.7 148.4Q488.5 146.4 502.5 151.3" stroke="#ffffff" stroke-width="2.6"/><path d="M477.7 150.5Q481.5 153.1 480.6 163.3" stroke="#e4e9f0" stroke-width="2.6"/><path d="M476.2 141.4Q480 140.7 477.3 137.8" stroke="#f1f4f8" stroke-width="2.8"/><path d="M476.9 147.6Q468.6 142.8 458.6 145.3" stroke="#e4e9f0" stroke-width="2.9"/><path d="M478.2 150.3Q482.7 162.2 477.4 166.5" stroke="#f1f4f8" stroke-width="2.8"/><path d="M480.9 148.5Q494 154.1 498.4 158.8" stroke="#f1f4f8" stroke-width="1.9"/><path d="M471.9 143.5Q468.2 144.8 467.4 139.7" stroke="#e4e9f0" stroke-width="1.8"/><path d="M469 147.8Q458.2 143.3 453.6 147.4" stroke="#ffffff" stroke-width="1.6"/><path d="M480.7 143.2Q478.1 131.8 481.8 128.1" stroke="#f1f4f8" stroke-width="2.8"/><path d="M493.5 147.6Q499.6 147 496.6 147.3" stroke="#ffffff" stroke-width="2.1"/><path d="M472.7 148.8Q458.5 152 454.1 151.1" stroke="#f1f4f8" stroke-width="1.9"/><path d="M469.7 149.7Q461.4 151.1 459.7 152.2" stroke="#ffffff" stroke-width="2.1"/><path d="M490.6 151.4Q498.6 155.4 497.8 158" stroke="#f1f4f8" stroke-width="2.3"/><path d="M491.6 147.3Q498.9 149.7 501.2 146.6" stroke="#fafcff" stroke-width="1.8"/><path d="M476.2 151.7Q469.8 153.2 469.8 160.6" stroke="#f1f4f8" stroke-width="1.7"/><path d="M476.3 151.1Q475.9 155.2 472.8 156.9" stroke="#f1f4f8" stroke-width="2"/><path d="M484.2 147.4Q489.3 142 500.8 144.9" stroke="#fafcff" stroke-width="2.5"/><path d="M476.7 142.3Q465.6 137.6 452.2 128.2" stroke="#e4e9f0" stroke-width="2.2"/></g><ellipse cx="168" cy="160" rx="12" ry="7" fill="#f7f7f7" transform="rotate(-20 168 160)" /><ellipse cx="456" cy="164" rx="11" ry="7" fill="#f7f7f7" transform="rotate(-25 456 164)" /><linearGradient id="dow1" x1="0" x2="0" y1="0" y2="1"><stop offset="0" stop-color="#f6cf98"/><stop offset=".4" stop-color="#f2c38a"/><stop offset="1" stop-color="#e4a96c"/></linearGradient><radialGradient id="coco" cx=".45" cy=".35" r=".75"><stop offset="0" stop-color="#b65f24"/><stop offset=".55" stop-color="#8e3f12"/><stop offset="1" stop-color="#672a0a"/></radialGradient><path d="M147 529.6C142.8 542.3 144.2 556.6 143.8 569.9C143.4 583.2 144.1 596.9 144.7 610.3C145.3 623.5 143.1 637.9 147.5 650.4C148.7 653.8 157.8 653.2 158.5 649.6C161 636.6 156 622.9 155.3 609.7C154.6 596.7 153.9 583.2 154.2 570.1C154.4 557 159.3 543.3 157 530.4C156.4 527.1 148.1 526.5 147 529.6Z" fill="#e21a1c"/><path d="M152 530C152 530 149.3 556.8 149 570C148.7 583.2 149.3 596.8 150 610C150.7 623.2 153 650 153 650" fill="none" stroke="#a30d10" stroke-width="2.2" opacity=".28"/><path d="M152 655.5C150 667.1 152.3 679.4 153.4 691.2C154.2 699.6 157.2 707.9 157.8 716.3C158.7 731.6 150.7 749.3 158 762.8C161.8 769.7 179.2 768.7 182 761.2C187.5 746.4 179.5 729.2 176.2 713.7C174.4 705.1 168.9 697.3 166.6 688.8C163.5 677.7 164.6 665.1 160 654.5C158.9 652.1 152.5 652.9 152 655.5Z" fill="#e21a1c"/><path d="M156 655C156 655 157.9 678.6 160 690C161.5 698.4 165.8 706.5 167 715C169.1 730.4 170 762 170 762" fill="none" stroke="#a30d10" stroke-width="1.8" opacity=".28"/><path d="M159.9 758.3L157.2 766.7L160.5 763.6L162.2 766.3L165 763L167.3 766.1L169.2 761L171.9 763.7L174 762L177 763.5L178.2 759.9L182.3 764.6L182.7 759.7L187.2 763.4L181.6 754.7Z" fill="#e21a1c" stroke="#e21a1c" stroke-width="1.6" stroke-linejoin="round"/><path d="M184 600Q180 618 186 637L424 639Q428 620 424 599Z" fill="url(#dow1)"/><path d="M300 602l5 3l4-2l3 4l-6 1z" fill="#b9783a" opacity=".7"/><g fill="none" stroke="#fff" stroke-width="2" stroke-linecap="round" opacity=".95"><path d="M186 640l4 9M193 640l3 8M201 641l-1 8M209 640l-3 9M216 639l-5 9M380 641l4 9M388 641l2 8M396 641l0 9M404 640l-3 9M411 640l-5 10"/></g><ellipse cx="200" cy="643" rx="17" ry="7" fill="#f6f6f6" /><ellipse cx="396" cy="645" rx="16" ry="8" fill="#f6f6f6" /><radialGradient id="bg1" cx=".42" cy=".38" r=".7"><stop offset="0" stop-color="#4aa8f6"/><stop offset=".55" stop-color="#1b88e4"/><stop offset="1" stop-color="#0e62b8"/></radialGradient><ellipse cx="199.3" cy="668.7" rx="23.3" ry="24" fill="url(#bg1)"/><ellipse cx="191.1" cy="660.3" rx="2.8" ry="5.3" fill="#fff" opacity=".55" transform="rotate(-30 191.1 660.3)"/><radialGradient id="bg2" cx=".42" cy=".38" r=".7"><stop offset="0" stop-color="#4aa8f6"/><stop offset=".55" stop-color="#1b88e4"/><stop offset="1" stop-color="#0e62b8"/></radialGradient><ellipse cx="390.7" cy="665.8" rx="23.3" ry="22" fill="url(#bg2)"/><ellipse cx="382.5" cy="658.1" rx="2.8" ry="4.8" fill="#fff" opacity=".55" transform="rotate(-30 382.5 658.1)"/><ellipse cx="197" cy="571" rx="29.5" ry="28" fill="url(#coco)" /><radialGradient id="bg3" cx=".42" cy=".38" r=".7"><stop offset="0" stop-color="#ffc45a"/><stop offset=".55" stop-color="#f39a1c"/><stop offset="1" stop-color="#c96a05"/></radialGradient><ellipse cx="203" cy="599" rx="19.5" ry="12.5" fill="url(#bg3)"/><ellipse cx="196.2" cy="594.6" rx="2.3" ry="2.8" fill="#fff" opacity=".55" transform="rotate(-30 196.2 594.6)"/><path d="M170.4 602.8L172.4 617.8L174.3 613.4L176.9 614.5L178.1 609.9L181.6 611.5L181.4 605.7L188.7 612.4L185.7 603L192.6 608L190.5 601.3L196.9 604.4L184.1 594.6Z" fill="#1c3fd6" stroke="#1c3fd6" stroke-width="1.6" stroke-linejoin="round"/><path d="M166 590L176 588L192 612L180 622L168 610Z" fill="#1c3fd6"/><path d="M124 478C125.5 470.6 131.7 464.1 138 460C144.3 456 152.6 454.7 160 455C168.2 455.4 180.4 454.6 184 462C189.5 473.3 183.7 487.6 182 500C181 507.5 182.7 518.6 176 522C168.1 525.9 157.9 519.8 150 516C142.4 512.4 134.8 507 130 500C125.8 493.8 122.5 485.4 124 478Z" fill="#f2c9a0"/><path d="M128 485C128 485 142.4 478.5 150 478C158.3 477.5 175 482 175 482" fill="none" stroke="#d99a62" stroke-width="1.4" opacity=".7"/><path d="M135 500C135 500 148.2 495 155 495C162.1 495 176 500 176 500" fill="none" stroke="#d99a62" stroke-width="1.4" opacity=".7"/><path d="M150 458C150 458 156.7 472.4 158 480C160 491.4 160 515 160 515" fill="none" stroke="#d99a62" stroke-width="1.4" opacity=".7"/><path d="M150 452C158 443.6 177.6 446.1 185 455C194.6 466.5 193.9 485.6 190 500C188.1 507.1 177.1 511.9 170 510C161.4 507.7 154.9 498.4 152 490C147.9 478.1 141.4 461.1 150 452Z" fill="#f6dcc0"/><path d="M158 458C158 458 163.1 472.6 165 480C167.1 488.2 170 505 170 505" fill="none" stroke="#e0b48c" stroke-width="1.4" opacity=".7"/><path d="M172 457C172 457 176.2 472.4 178 480C179.5 486.6 182 500 182 500" fill="none" stroke="#e0b48c" stroke-width="1.4" opacity=".7"/><path d="M147 412C147 412 175.8 417.3 190 416C205 414.6 234 404 234 404C234 404 236.8 428.1 237 440C237.2 449.9 238.4 460.7 235 470C233.1 475.3 227.3 479.2 222 481C215.1 483.4 207.2 482.5 200 482C193.3 481.5 186.1 480.9 180 478C174.5 475.4 169.5 471 166 466C160.4 458.2 156.2 449 153 440C149.9 431.1 147 412 147 412Z" fill="#e01a18"/><path d="M222 455C225 451.1 232.7 446.4 236 450C240.5 454.8 238.4 463.8 236 470C234.1 475 229 479.2 224 481C220.8 482.2 214.3 481.4 214 478C213.4 470 217 461.3 222 455Z" fill="#b80f10" opacity=".45"/><radialGradient id="bg4" cx=".42" cy=".38" r=".7"><stop offset="0" stop-color="#3f63f0"/><stop offset=".55" stop-color="#1838c8"/><stop offset="1" stop-color="#0c1f80"/></radialGradient><ellipse cx="200" cy="485" rx="18" ry="14.5" fill="url(#bg4)"/><path d="M177 521C177 521 198.9 511.1 210 507C220.6 503.1 242.6 497 242.6 497C242.6 497 256.2 506.4 262 512C267.6 517.4 277 530 277 530C277 530 262.5 552.3 255 563C247.2 574.1 230.5 596 230.5 596C230.5 596 216.4 582.3 210 575C203.3 567.4 190.7 551 190.7 551L177 521Z" fill="#f4e3c3"/><path d="M190 516C190 516 208 531 215 540C224.6 552.3 240 580 240 580" fill="none" stroke="#d4b382" stroke-width="1.4" opacity=".7"/><path d="M205 510C205 510 226 529.3 235 540C241.6 547.9 252 566 252 566" fill="none" stroke="#d4b382" stroke-width="1.4" opacity=".7"/><path d="M222 504C222 504 241.3 520.9 250 530C255.2 535.4 264 548 264 548" fill="none" stroke="#d4b382" stroke-width="1.4" opacity=".7"/><path d="M184 536C184 536 205 527 215 522C226.8 516.1 250 503 250 503" fill="none" stroke="#d4b382" stroke-width="1.4" opacity=".7"/><path d="M190 550C190 550 213.5 538.7 225 533C237.3 526.9 262 514 262 514" fill="none" stroke="#d4b382" stroke-width="1.4" opacity=".7"/><path d="M202 565C202 565 226.5 554.4 238 548C249.7 541.5 272 526 272 526" fill="none" stroke="#d4b382" stroke-width="1.4" opacity=".7"/><path d="M216 580C216 580 236.2 571.9 245 566C253.5 560.3 268 545 268 545" fill="none" stroke="#d4b382" stroke-width="1.4" opacity=".7"/><g><path d="M146.6 645.4L139.1 659.5L143.3 654.6L144.4 656.6L148 652.3L148.5 660.6L151.8 655.3L153.2 660.7L156.2 654.5L157.9 661.3L160.2 656.3L162.5 662L159.9 647.7Z" fill="#1f9e55" stroke="#1f9e55" stroke-width="1.6" stroke-linejoin="round"/><path d="M190 503C190 503 176 500.5 172 505C166.4 511.3 167.2 521.6 166 530C164.2 543.1 164.1 556.8 163 570C161.8 584.2 160.8 598.9 159 613C157.5 624.6 153 648 153 648" fill="none" stroke="#1f9e55" stroke-width="13.4" stroke-linecap="round" stroke-linejoin="round"/><path d="M190 503C190 503 176 500.5 172 505C166.4 511.3 167.2 521.6 166 530C164.2 543.1 164.1 556.8 163 570C161.8 584.2 160.8 598.9 159 613C157.5 624.6 153 648 153 648" fill="none" stroke="#0e6d37" stroke-width="4" stroke-linecap="round" opacity=".3" transform="translate(1.2 1)"/><path d="M192.1 496.9L182.3 508.3M185.8 496.1L177.4 508.6M178.5 495.8L173.5 510M169.2 498.6L173.5 513.1M164.3 504.7L173.1 516.9M161.9 511.1L172.9 521.4M161 517.1L172.5 526.7M160.6 522.6L172 532.4M160 528.1L171.3 538.1M159.3 533.9L170.8 543.5M158.7 539.6L170.5 549M158.3 545.3L170.2 554.6M158 550.9L169.9 560.2M157.7 556.5L169.5 565.9M157.4 562.1L169.1 571.5M157 567.7L168.6 577.2M156.5 573.3L168.1 582.8M156.1 578.9L167.7 588.5M155.6 584.5L167.2 594.1M155.2 590.1L166.7 599.7M154.7 595.6L166.1 605.4M154.2 601.2L165.5 611.1M153.6 606.7L164.7 616.8M152.9 612.1L163.9 622.5M152.1 617.6L162.9 628.1M151.2 623.1L161.9 633.7M150.3 628.7L160.9 639.3M149.3 634.2L159.9 644.9M148.3 639.7L158.8 650.4" fill="none" stroke="#0e6d37" stroke-width="1.3" opacity=".55" stroke-linecap="round"/><path d="M187.4 498.6L181.4 506.1M181.3 498.3L176.2 506.4M174.7 499.1L171.9 508.3M168 503.5L171.1 512.6M164.8 509.7L170.7 517.2M163.4 515.9L170.6 522.2M162.7 521.8L170.3 527.6M162.3 527.3L169.7 533.3M161.6 532.9L169 538.9M161 538.6L168.6 544.4M160.6 544.3L168.2 550M160.2 549.9L167.9 555.6M159.9 555.6L167.7 561.2M159.6 561.2L167.3 566.8M159.2 566.8L166.9 572.5M158.8 572.3L166.4 578.1M158.3 578L165.9 583.8M157.9 583.6L165.5 589.4M157.4 589.2L165 595M156.9 594.8L164.5 600.6M156.4 600.4L163.9 606.3M155.8 605.9L163.2 611.9M155.1 611.5L162.5 617.6M154.4 616.9L161.6 623.2M153.5 622.5L160.6 628.8M152.6 628L159.6 634.4M151.6 633.5L158.6 640M150.6 639L157.6 645.6M149.6 644.6L156.5 651.1" fill="none" stroke="#55c982" stroke-width="1.4" opacity=".45" stroke-linecap="round"/></g><g><path d="M192 503C192 503 209.9 500.5 218 497C229.3 492.1 238 480.4 250 478C254 477.2 253.3 485.9 253 490C252.6 496.2 248 508 248 508" fill="none" stroke="#1f9e55" stroke-width="11" stroke-linecap="round" stroke-linejoin="round"/><path d="M192 503C192 503 209.9 500.5 218 497C229.3 492.1 238 480.4 250 478C254 477.2 253.3 485.9 253 490C252.6 496.2 248 508 248 508" fill="none" stroke="#0e6d37" stroke-width="3.3" stroke-linecap="round" opacity=".3" transform="translate(1.2 1)"/><path d="M192 503C192 503 209.9 500.5 218 497C229.3 492.1 238 480.4 250 478C254 477.2 253.3 485.9 253 490C252.6 496.2 248 508 248 508" fill="none" stroke="#55c982" stroke-width="3.3" stroke-linecap="round" opacity=".3" transform="translate(-1 -1)"/></g><ellipse cx="195" cy="503" rx="11" ry="9" fill="#1c3fd6" /><g><path d="M184 498C184 498 190.9 507.5 196 508C200.2 508.4 206 500 206 500" fill="none" stroke="#1f9e55" stroke-width="8.5" stroke-linecap="round" stroke-linejoin="round"/><path d="M184 498C184 498 190.9 507.5 196 508C200.2 508.4 206 500 206 500" fill="none" stroke="#0e6d37" stroke-width="2.6" stroke-linecap="round" opacity=".3" transform="translate(1.2 1)"/><path d="M184 498C184 498 190.9 507.5 196 508C200.2 508.4 206 500 206 500" fill="none" stroke="#55c982" stroke-width="2.6" stroke-linecap="round" opacity=".3" transform="translate(-1 -1)"/></g><ellipse cx="222" cy="507" rx="9" ry="6" fill="#d11a1c" transform="rotate(20 222 507)" /><path d="M101 377C104 369.5 116.9 371.2 125 372C138.6 373.3 151.3 383 165 383C181.9 383 199.6 379 215 372C230 365.2 239.8 348.3 255 342C261.3 339.4 269.3 343.3 275 347C280.2 350.3 285.5 355.9 286 362C286.6 369.1 282.6 376.6 278 382C272.3 388.7 264 393.4 256 397C243 402.8 228.8 406.5 215 410C200.3 413.8 185.1 417.7 170 419C158.5 420 146.2 419.9 135 417C126.6 414.8 117.6 410.6 112 404C105.8 396.7 97.4 385.9 101 377Z" fill="#f0d7ae"/><path d="M108 384C108 384 129.1 393.3 140 396C152.9 399.2 166.7 402.6 180 402C196.8 401.3 214 397.3 230 392C244 387.3 270 372 270 372" fill="none" stroke="#cfa770" stroke-width="1.4" opacity=".7"/><path d="M118 400C118 400 139.2 407.1 150 408C163.2 409.1 190 406 190 406" fill="none" stroke="#cfa770" stroke-width="1.4" opacity=".7"/><path d="M125 376C125 376 132.3 388.5 135 395C137.2 400.4 140 412 140 412" fill="none" stroke="#cfa770" stroke-width="1.4" opacity=".7"/><path d="M145 380C145 380 149.7 392 152 398C154 403.3 158 414 158 414" fill="none" stroke="#cfa770" stroke-width="1.4" opacity=".7"/><path d="M240 356C240 356 254.3 364.1 262 366C267.8 367.4 280 366 280 366" fill="none" stroke="#cfa770" stroke-width="1.4" opacity=".7"/><path d="M150 404C158.5 393.8 177 402.6 190 400C205.2 397 220.7 392.9 235 387C248 381.6 258 366.5 272 366C278.9 365.8 271.3 381.6 266 386C255.5 394.6 241 398.1 228 402C212.5 406.7 196.2 411.6 180 412C169.8 412.3 143.4 411.9 150 404Z" fill="#f8e8ca"/><g filter="url(#tex)"><path d="M147 316.6C147 316.6 165.7 315.1 175 315C183.1 314.9 191.6 317.5 199.6 316C210.6 314 231.6 304.5 231.6 304.5C231.6 304.5 239.6 311.9 243 316C246.1 319.7 250.2 323.3 251.4 328C253.3 335 252.2 342.7 252 350C251.8 356.3 251.6 362.9 250 369C248.3 375.4 242 387.4 242 387.4C242 387.4 227.3 391.4 220 393C213.3 394.4 206.4 395.8 199.6 396.6C187.6 398 163 399.6 163 399.6C163 399.6 158.7 383.2 157 375C154.3 362.1 151.6 348.7 149.4 335.7C148.3 329.4 147 316.6 147 316.6Z" fill="#d0221a"/></g><path d="M231.6 304.5C231.6 304.5 239.6 311.9 243 316C246.1 319.7 250.2 323.3 251.4 328C253.3 335 252.2 342.7 252 350C251.8 356.3 251.6 362.9 250 369C248.3 375.4 247.6 391 242 387.4C234.2 382.4 237.4 369.1 236 360C234.5 350.2 233.8 339.9 233 330C232.3 321.6 231.6 304.5 231.6 304.5Z" fill="#a30f10" opacity=".45"/><path d="M148.5 319L152 340L159 378L163.5 398" fill="none" stroke="#f9d5c0" stroke-width="3.4" opacity=".85" stroke-linecap="round"/><g><path d="M179 300C179 300 175.7 307.9 175 312C174.7 314 176 318 176 318" fill="none" stroke="#1f9e55" stroke-width="6.1" stroke-linecap="round" stroke-linejoin="round"/><path d="M179 300C179 300 175.7 307.9 175 312C174.7 314 176 318 176 318" fill="none" stroke="#0e6d37" stroke-width="1.8" stroke-linecap="round" opacity=".3" transform="translate(1.2 1)"/><path d="M179 300C179 300 175.7 307.9 175 312C174.7 314 176 318 176 318" fill="none" stroke="#55c982" stroke-width="1.8" stroke-linecap="round" opacity=".3" transform="translate(-1 -1)"/></g><radialGradient id="bg5" cx=".42" cy=".38" r=".7"><stop offset="0" stop-color="#6fd2fa"/><stop offset=".55" stop-color="#2fb2ea"/><stop offset="1" stop-color="#1587c4"/></radialGradient><ellipse cx="187.5" cy="290" rx="16.5" ry="23.5" fill="url(#bg5)"/><ellipse cx="181.7" cy="281.8" rx="2" ry="5.2" fill="#fff" opacity=".55" transform="rotate(-30 181.7 281.8)"/><path d="M205 240C205 240 225.2 236.5 235 238C242.6 239.2 250.7 242.4 256 248C262.3 254.7 265.3 264.3 268 273C273.5 290.5 277 309.1 280.7 327C283.5 340.4 286.9 354.3 287.6 368C288 377.3 285.3 386.8 284 396C282.5 406.6 279 428 279 428C279 428 271.5 426.4 268 425C263.2 423.1 254 418 254 418C254 418 254.6 400 258 392C259.6 388.3 267.3 389 268 385C270.6 369.4 269.7 352.6 267 337C264.7 323.8 257.6 311.5 253 299C249.7 290.1 248.7 279.6 243 272C238.9 266.6 231.3 264.5 225 262C219.6 259.9 211.9 262.3 208 258C203.9 253.5 205 240 205 240Z" fill="#d91a17"/><path d="M250 262C250 262 261.4 293.9 266 310C269.7 323 273.2 336.6 275 350C276.5 361.5 276 385 276 385" fill="none" stroke="#a80f10" stroke-width="3" opacity=".5"/><path d="M257 420.5L251.5 428.4L255.6 425.6L257 428.8L260.6 426L262.5 428.7L265.5 425.9L268 427L270.5 425L273.5 429.2L275.4 425.4L279 429.1L280.4 424.3L284.5 428L279 420.5Z" fill="#d91a17" stroke="#d91a17" stroke-width="1.6" stroke-linejoin="round"/><g><path d="M342.6 318.8L344.6 327L344.4 322.6L347.9 323.9L347.1 319.6L350.3 320L350.2 316.9L354.8 318L353.4 314.4L357.5 314.4L355.3 310.7L360.1 310.7L351.1 309.2Z" fill="#1f9e55" stroke="#1f9e55" stroke-width="1.6" stroke-linejoin="round"/><path d="M215 264C215 264 228.9 267.9 236 268C247.3 268.1 258.8 263 270 264.6C282.2 266.4 294.3 271.8 305 278C314.3 283.4 321.8 292 330 299C336 304.2 348 315 348 315" fill="none" stroke="#1f9e55" stroke-width="12.8" stroke-linecap="round" stroke-linejoin="round"/><path d="M215 264C215 264 228.9 267.9 236 268C247.3 268.1 258.8 263 270 264.6C282.2 266.4 294.3 271.8 305 278C314.3 283.4 321.8 292 330 299C336 304.2 348 315 348 315" fill="none" stroke="#0e6d37" stroke-width="3.8" stroke-linecap="round" opacity=".3" transform="translate(1.2 1)"/><path d="M215 264C215 264 228.9 267.9 236 268C247.3 268.1 258.8 263 270 264.6C282.2 266.4 294.3 271.8 305 278C314.3 283.4 321.8 292 330 299C336 304.2 348 315 348 315" fill="none" stroke="#55c982" stroke-width="3.8" stroke-linecap="round" opacity=".3" transform="translate(-1 -1)"/></g><path d="M340 304L356 312L349 328L334 318Z" fill="#1f9e55"/><g><path d="M190 262C190 262 195.2 251 200 248C204.5 245.2 211 244.2 216 246C219.6 247.3 222 256 222 256" fill="none" stroke="#1f9e55" stroke-width="11" stroke-linecap="round" stroke-linejoin="round"/><path d="M190 262C190 262 195.2 251 200 248C204.5 245.2 211 244.2 216 246C219.6 247.3 222 256 222 256" fill="none" stroke="#0e6d37" stroke-width="3.3" stroke-linecap="round" opacity=".3" transform="translate(1.2 1)"/><path d="M190 262C190 262 195.2 251 200 248C204.5 245.2 211 244.2 216 246C219.6 247.3 222 256 222 256" fill="none" stroke="#55c982" stroke-width="3.3" stroke-linecap="round" opacity=".3" transform="translate(-1 -1)"/></g><g><path d="M193 268C193 268 201.4 263 206 262C210.5 261 220 262 220 262" fill="none" stroke="#f9c118" stroke-width="9.8" stroke-linecap="round" stroke-linejoin="round"/><path d="M193 268C193 268 201.4 263 206 262C210.5 261 220 262 220 262" fill="none" stroke="#d8940a" stroke-width="2.9" stroke-linecap="round" opacity=".3" transform="translate(1.2 1)"/><path d="M194.2 272.4L195.3 261.5M197.7 270.5L199.1 259.6M201.1 268.7L203.2 258M204.2 267.2L207.8 256.8M207 266.1L213.1 257M210.9 266L217.5 257.3M214.8 266.1L221.7 257.6" fill="none" stroke="#d8940a" stroke-width="1.3" opacity=".55" stroke-linecap="round"/><path d="M196.4 269.5L196.8 262.5M199.9 267.6L200.6 260.7M203.5 265.9L204.5 259.1M207 264.8L209 258.1M210.3 264.5L213.9 258.6M214.2 264.5L218.2 258.8M218.2 264.8L222.4 259.2" fill="none" stroke="#ffe160" stroke-width="1.4" opacity=".45" stroke-linecap="round"/></g><g><path d="M204 435.5L199.4 454.1L202.8 445.4L205.8 455.3L208.3 444.4L211.9 453.9L214 445.3L217.7 450.4L219.6 445.4L223.9 449.6L225.1 444.4L230 449.1L221.6 433.5Z" fill="#f9c118" stroke="#f9c118" stroke-width="1.6" stroke-linejoin="round"/><path d="M210 266C210 266 205.5 288.7 205 300C204.2 316.5 205.3 333.5 206 350C206.7 366.5 207.7 383.5 209 400C210 411.9 213 436 213 436" fill="none" stroke="#f9c118" stroke-width="17.7" stroke-linecap="butt" stroke-linejoin="round"/><path d="M210 266C210 266 205.5 288.7 205 300C204.2 316.5 205.3 333.5 206 350C206.7 366.5 207.7 383.5 209 400C210 411.9 213 436 213 436" fill="none" stroke="#d8940a" stroke-width="5.3" stroke-linecap="butt" opacity=".3" transform="translate(1.2 1)"/><path d="M202.3 262.6L216.3 276.7M200.9 270L215.1 283.9M199.6 277.5L214 291.1M198.4 285L213.2 298.3M197.3 292.9L212.8 305.2M196.8 300.7L212.8 312.3M196.6 308.3L212.9 319.5M196.6 315.9L213.1 326.8M196.8 323.4L213.4 334.1M197 330.9L213.8 341.5M197.3 338.3L214.1 348.9M197.7 345.7L214.4 356.4M198 353.2L214.8 363.7M198.3 360.6L215.2 371.1M198.7 368.1L215.6 378.5M199.1 375.6L216.1 385.8M199.6 383L216.6 393.2M200.1 390.5L217.2 400.5M200.6 398L217.9 407.8M201.3 405.5L218.7 415.1M202.1 413L219.5 422.4M202.9 420.4L220.4 429.8M203.8 427.8L221.3 437.1" fill="none" stroke="#d8940a" stroke-width="1.3" opacity=".55" stroke-linecap="round"/><path d="M204 269L213.2 277.6M202.7 276.4L212.1 284.9M201.5 283.8L211 292.1M200.5 291.3L210.2 299.4M199.7 299L209.9 306.5M199.5 306.7L210 313.7M199.4 314.3L210.1 321M199.6 321.8L210.3 328.3M199.8 329.3L210.7 335.7M200.1 336.7L211 343.1M200.4 344.2L211.3 350.5M200.8 351.6L211.6 357.9M201.1 359L212 365.3M201.4 366.5L212.4 372.7M201.9 373.9L212.9 380.1M202.3 381.4L213.4 387.5M202.8 388.8L213.9 394.8M203.4 396.3L214.5 402.2M204 403.7L215.2 409.5M204.8 411.2L216 416.8M205.6 418.6L216.9 424.2M206.4 426L217.8 431.5M207.3 433.4L218.7 438.9" fill="none" stroke="#ffe160" stroke-width="1.4" opacity=".45" stroke-linecap="round"/></g><g><path d="M530.1 412.2L528.1 424.4L530.3 419.8L532.8 423.9L534 417.3L536.8 420.5L538.3 416.9L541.6 420.2L542.7 417.1L546.5 420.5L546.6 415.4L550.9 418.8L543.1 408.9Z" fill="#1c3fd6" stroke="#1c3fd6" stroke-width="1.6" stroke-linejoin="round"/><path d="M466 268C466 268 482.8 278.5 490 285C496.4 290.8 503.1 297.3 507 305C513.2 317.4 516.2 331.7 520 345C523.8 358.1 526.7 371.8 530 385C532.3 393.9 537 412 537 412" fill="none" stroke="#1c3fd6" stroke-width="13.4" stroke-linecap="round" stroke-linejoin="round"/><path d="M466 268C466 268 482.8 278.5 490 285C496.4 290.8 503.1 297.3 507 305C513.2 317.4 516.2 331.7 520 345C523.8 358.1 526.7 371.8 530 385C532.3 393.9 537 412 537 412" fill="none" stroke="#0f2590" stroke-width="4" stroke-linecap="round" opacity=".3" transform="translate(1.2 1)"/><path d="M461.4 272.4L475.3 266.6M466.1 275.3L480.1 269.8M470.7 278.4L484.8 273.1M475.3 281.5L489.5 276.5M479.7 284.6L494.1 280.2M483.8 287.7L498.5 284.4M487.9 291.3L502.6 288.5M491.7 294.9L506.6 293M495.3 298.7L510.3 297.9M498.4 302.4L513.4 303.6M501 306.6L515.8 309.4M503.3 311.4L517.9 315.1M505.3 316.4L519.7 320.6M507 321.6L521.3 326.3M508.6 326.8L522.8 331.8M510.1 332.2L524.3 337.3M511.6 337.7L525.7 342.7M513.1 343.2L527.3 348.1M514.6 348.5L528.7 353.6M516.1 353.9L530.1 359.2M517.4 359.3L531.5 364.7M518.8 364.7L532.8 370.2M520.1 370.2L534.1 375.7M521.4 375.7L535.4 381.2M522.7 381.3L536.8 386.6M524.1 386.8L538.2 392M525.5 392.2L539.6 397.4M526.9 397.7L541 402.9M528.3 403.2L542.4 408.3M529.7 408.6L543.9 413.8" fill="none" stroke="#0f2590" stroke-width="1.3" opacity=".55" stroke-linecap="round"/><path d="M466.4 273L475.1 269M471.1 276.1L479.8 272.2M475.7 279.2L484.5 275.5M480.2 282.4L489.1 278.9M484.6 285.7L493.6 282.6M488.6 289.2L497.9 286.7M492.6 293L501.9 290.8M496.3 296.8L505.8 295.3M499.7 300.9L509.3 300.1M502.5 305.2L512.1 305.6M504.8 309.9L514.3 311.3M506.9 314.9L516.3 316.9M508.7 320L518 322.4M510.4 325.3L519.6 327.9M511.9 330.6L521 333.5M513.4 336L522.5 338.9M514.8 341.5L524 344.4M516.4 347L525.5 349.7M517.8 352.3L526.9 355.3M519.2 357.8L528.3 360.8M520.6 363.2L529.6 366.3M521.9 368.7L530.9 371.8M523.2 374.1L532.2 377.3M524.5 379.6L533.6 382.7M525.9 385.1L535 388.2M527.3 390.6L536.4 393.6M528.7 396.1L537.8 399.1M530.1 401.5L539.2 404.5M531.5 407L540.6 410M533 412.5L542.1 415.4" fill="none" stroke="#4a6cf5" stroke-width="1.4" opacity=".45" stroke-linecap="round"/></g><path d="M458.9 278.3C461.9 284.8 469.7 288.1 474.8 293.2C478.9 297.3 481.3 304.1 486.7 306.1C489.5 307.1 494.1 302.8 493.3 299.9C491.7 294.3 485.4 291 481.2 286.8C476 281.7 471.9 274.3 465.1 271.7C462.3 270.7 457.7 275.6 458.9 278.3Z" fill="#e21a1c"/><path d="M462 275C462 275 472.9 284.9 478 290C482.1 294.1 490 303 490 303" fill="none" stroke="#a30d10" stroke-width="2" opacity=".28"/><path d="M484.1 332.2C486.1 341.4 493.6 348.9 498.3 357.1C503 365.3 505.8 375.3 512.5 382C514.4 383.8 520.1 380.6 519.5 378C517.3 368.8 510.3 361.2 505.7 352.9C501.2 344.6 498.8 334.3 491.9 327.8C489.8 325.7 483.4 329.3 484.1 332.2Z" fill="#e21a1c"/><path d="M488 330C488 330 497.4 346.8 502 355C506.6 363.2 516 380 516 380" fill="none" stroke="#a30d10" stroke-width="1.8" opacity=".28"/><g><path d="M470 300C470 300 485.9 310.8 492 318C498.7 325.9 504.3 335.3 508 345C512.3 356 514 368.3 516 380C517.3 387.2 518 402 518 402" fill="none" stroke="#1f9e55" stroke-width="12.2" stroke-linecap="round" stroke-linejoin="round"/><path d="M470 300C470 300 485.9 310.8 492 318C498.7 325.9 504.3 335.3 508 345C512.3 356 514 368.3 516 380C517.3 387.2 518 402 518 402" fill="none" stroke="#0e6d37" stroke-width="3.7" stroke-linecap="round" opacity=".3" transform="translate(1.2 1)"/><path d="M465.7 303.8L478.5 299.1M469.8 306.7L482.7 302.3M473.8 309.6L486.9 305.6M477.8 312.6L490.9 308.9M481.5 315.7L494.9 312.6M485 318.6L498.6 316.9M488.2 322L501.8 321.5M491.2 325.8L504.8 326M493.9 329.8L507.6 330.7M496.5 333.9L510.1 335.5M498.8 338.1L512.3 340.5M500.9 342.4L514.3 345.5M502.8 346.9L515.9 350.7M504.4 351.5L517.3 356M505.7 356.1L518.4 361.3M506.9 360.9L519.4 366.4M507.9 365.9L520.3 371.6M508.7 370.9L521.1 376.7M509.6 375.9L522 381.7M510.5 380.7L522.6 387.1M511.1 385.6L523 392.4M511.6 390.6L523.4 397.6M512 395.7L523.7 402.8" fill="none" stroke="#0e6d37" stroke-width="1.3" opacity=".55" stroke-linecap="round"/><path d="M470.2 304.6L478.2 301.3M474.3 307.5L482.4 304.4M478.3 310.6L486.5 307.7M482.2 313.7L490.5 311.1M485.9 317L494.3 314.7M489.2 320.4L497.8 319M492.2 324.1L500.9 323.5M495.1 328.2L503.8 328M497.7 332.3L506.4 332.6M500.2 336.6L508.8 337.3M502.3 341L510.9 342.2M504.3 345.5L512.8 347.2M506 350.2L514.4 352.3M507.4 354.9L515.7 357.5M508.5 359.7L516.7 362.7M509.6 364.6L517.7 367.8M510.5 369.6L518.5 372.9M511.4 374.6L519.4 378M512.2 379.7L520.2 383M512.9 384.5L520.8 388.3M513.5 389.6L521.2 393.5M513.9 394.6L521.5 398.7M514.2 399.7L521.8 403.9" fill="none" stroke="#55c982" stroke-width="1.4" opacity=".45" stroke-linecap="round"/></g><radialGradient id="bg6" cx=".42" cy=".38" r=".7"><stop offset="0" stop-color="#ffc45a"/><stop offset=".55" stop-color="#f39a1c"/><stop offset="1" stop-color="#c96a05"/></radialGradient><ellipse cx="414" cy="606" rx="17.5" ry="13.5" fill="url(#bg6)"/><ellipse cx="407.9" cy="601.3" rx="2.1" ry="3" fill="#fff" opacity=".55" transform="rotate(-30 407.9 601.3)"/><path d="M366 548C370.4 540.9 381.7 540.4 390 540C403.3 539.4 417.3 541.1 430 545C439.2 547.8 449 552.5 455 560C459.2 565.2 460.7 573.9 458 580C455 586.9 447 591.4 440 594C430.6 597.5 420 598.4 410 598C401.5 597.7 392.4 596.1 385 592C378 588.2 371.1 582.3 368 575C364.5 566.8 361.2 555.6 366 548Z" fill="url(#coco)"/><path d="M350 496C354 489.1 364.1 486.6 372 486C381.4 485.2 391.2 488.5 400 492C407.3 494.9 412.6 502.3 420 505C429.4 508.4 440 510 450 510C460 510 470 504.6 480 505C487 505.3 494.8 507.4 500 512C506.7 517.9 512.5 526.2 514 535C515.4 543.4 513.9 553.9 508 560C502.6 565.6 492.7 566.3 485 565C475.8 563.5 468.9 554.7 460 552C450.5 549.1 439.8 550 430 548C420 546 410 542.2 400 540C390.8 537.9 380.7 538.6 372 535C364.4 531.8 356.1 527.2 352 520C348.1 513.1 346 502.9 350 496Z" fill="#f3dfbd"/><path d="M358 500C358 500 373.3 507.2 380 512C387.2 517.2 400 530 400 530" fill="none" stroke="#cfa873" stroke-width="1.4" opacity=".7"/><path d="M375 490C375 490 386.8 501.7 392 508C398.3 515.6 410 532 410 532" fill="none" stroke="#cfa873" stroke-width="1.4" opacity=".7"/><path d="M440 515C440 515 460.5 522.8 470 528C480.4 533.7 500 548 500 548" fill="none" stroke="#cfa873" stroke-width="1.4" opacity=".7"/><path d="M455 510C455 510 472.1 515.8 480 520C489.7 525.1 508 538 508 538" fill="none" stroke="#cfa873" stroke-width="1.4" opacity=".7"/><path d="M430 525C430 525 450.4 534.4 460 540C470.3 546 490 560 490 560" fill="none" stroke="#cfa873" stroke-width="1.4" opacity=".7"/><path d="M470 508C470 508 475.9 525.9 478 535C479.9 543.1 482 560 482 560" fill="none" stroke="#cfa873" stroke-width="1.4" opacity=".7"/><path d="M350 496C353.4 488.8 364.1 486.7 372 486C379.8 485.3 390.2 485.8 395 492C400.6 499.4 401.2 511.3 398 520C395.5 526.9 387.3 532.7 380 533C371 533.4 360.7 529 355 522C349.5 515.2 346.3 503.9 350 496Z" fill="#eccba0"/><path d="M358 500L380 512" fill="none" stroke="#c9955c" stroke-width="1.4" opacity=".7"/><path d="M362 512L385 524" fill="none" stroke="#c9955c" stroke-width="1.4" opacity=".7"/><radialGradient id="bg7" cx=".42" cy=".38" r=".7"><stop offset="0" stop-color="#ffffff"/><stop offset=".55" stop-color="#f2f4f6"/><stop offset="1" stop-color="#c4ccd6"/></radialGradient><ellipse cx="421" cy="485" rx="22" ry="21.5" fill="url(#bg7)"/><ellipse cx="437" cy="441" rx="39" ry="37.8" fill="#1c9a28" /><clipPath id="wk2"><ellipse cx="437" cy="441" rx="39" ry="37.8"/></clipPath><g clip-path="url(#wk2)" fill="none" stroke-linecap="round"><ellipse cx="454.8" cy="458.5" rx="3.3" ry="3.3" fill="#0b4f14" opacity=".7"/><ellipse cx="450.1" cy="450.2" rx="6.3" ry="4.2" fill="#0b4f14" opacity=".7"/><ellipse cx="441.1" cy="445.2" rx="5.9" ry="3.6" fill="#0b4f14" opacity=".7"/><ellipse cx="434.3" cy="436.8" rx="6.6" ry="7" fill="#0b4f14" opacity=".7"/><ellipse cx="454.5" cy="442.7" rx="5.2" ry="4.1" fill="#0b4f14" opacity=".7"/><path d="M466.3 446Q434.5 442.7 407.4 439.3" stroke="#127a1f" stroke-width="5.6"/><path d="M466.3 446Q434.5 442.7 407.4 439.3" stroke="#30c440" stroke-width="3.8"/><path d="M466.3 445Q434.5 441.7 407.4 438.3" stroke="#8af093" stroke-width="1.1" opacity=".6"/><path d="M409 468.7Q393.3 428.6 421.3 404.9" stroke="#127a1f" stroke-width="5.6"/><path d="M409 468.7Q393.3 428.6 421.3 404.9" stroke="#52de62" stroke-width="3.8"/><path d="M409 467.7Q393.3 427.6 421.3 403.9" stroke="#8af093" stroke-width="1.1" opacity=".6"/><path d="M398.5 426.3Q441.6 416.3 475.4 426" stroke="#127a1f" stroke-width="5.6"/><path d="M398.5 426.3Q441.6 416.3 475.4 426" stroke="#52de62" stroke-width="3.8"/><path d="M398.5 425.3Q441.6 415.3 475.4 425" stroke="#8af093" stroke-width="1.1" opacity=".6"/><path d="M423.9 479.7Q468.8 470.7 477.7 437.9" stroke="#127a1f" stroke-width="5.6"/><path d="M423.9 479.7Q468.8 470.7 477.7 437.9" stroke="#2bb83c" stroke-width="3.8"/><path d="M423.9 478.7Q468.8 469.7 477.7 436.9" stroke="#8af093" stroke-width="1.1" opacity=".6"/><path d="M415.9 469.6Q439 447.8 460.3 414.2" stroke="#127a1f" stroke-width="5.6"/><path d="M415.9 469.6Q439 447.8 460.3 414.2" stroke="#52de62" stroke-width="3.8"/><path d="M415.9 468.6Q439 446.8 460.3 413.2" stroke="#8af093" stroke-width="1.1" opacity=".6"/><path d="M436.2 481.2Q466.5 461.1 470.7 419.2" stroke="#127a1f" stroke-width="5.6"/><path d="M436.2 481.2Q466.5 461.1 470.7 419.2" stroke="#2bb83c" stroke-width="3.8"/><path d="M436.2 480.2Q466.5 460.1 470.7 418.2" stroke="#8af093" stroke-width="1.1" opacity=".6"/><path d="M430.2 473.6Q423.8 437.6 427.4 409.1" stroke="#127a1f" stroke-width="5.6"/><path d="M430.2 473.6Q423.8 437.6 427.4 409.1" stroke="#52de62" stroke-width="3.8"/><path d="M430.2 472.6Q423.8 436.6 427.4 408.1" stroke="#8af093" stroke-width="1.1" opacity=".6"/><path d="M403.9 457.5Q429.1 431.7 458.1 410.6" stroke="#127a1f" stroke-width="5.6"/><path d="M403.9 457.5Q429.1 431.7 458.1 410.6" stroke="#2bb83c" stroke-width="3.8"/><path d="M403.9 456.5Q429.1 430.7 458.1 409.6" stroke="#8af093" stroke-width="1.1" opacity=".6"/><path d="M455.3 467.3Q443.1 441.9 419.6 414" stroke="#127a1f" stroke-width="5.6"/><path d="M455.3 467.3Q443.1 441.9 419.6 414" stroke="#3ad04a" stroke-width="3.8"/><path d="M455.3 466.3Q443.1 440.9 419.6 413" stroke="#8af093" stroke-width="1.1" opacity=".6"/><path d="M396.2 444.3Q413.4 412.9 449 401.8" stroke="#127a1f" stroke-width="5.6"/><path d="M396.2 444.3Q413.4 412.9 449 401.8" stroke="#3ad04a" stroke-width="3.8"/><path d="M396.2 443.3Q413.4 411.9 449 400.8" stroke="#8af093" stroke-width="1.1" opacity=".6"/><path d="M472.6 458.4Q430 465.3 397.5 444.4" stroke="#127a1f" stroke-width="5.6"/><path d="M472.6 458.4Q430 465.3 397.5 444.4" stroke="#3ad04a" stroke-width="3.8"/><path d="M472.6 457.4Q430 464.3 397.5 443.4" stroke="#8af093" stroke-width="1.1" opacity=".6"/><path d="M407.1 454.8Q426.4 431.4 451.7 411.4" stroke="#127a1f" stroke-width="5.6"/><path d="M407.1 454.8Q426.4 431.4 451.7 411.4" stroke="#3ad04a" stroke-width="3.8"/><path d="M407.1 453.8Q426.4 430.4 451.7 410.4" stroke="#8af093" stroke-width="1.1" opacity=".6"/><path d="M425.1 484.2Q394.9 447 406.4 408.4" stroke="#127a1f" stroke-width="5.6"/><path d="M425.1 484.2Q394.9 447 406.4 408.4" stroke="#3ad04a" stroke-width="3.8"/><path d="M425.1 483.2Q394.9 446 406.4 407.4" stroke="#8af093" stroke-width="1.1" opacity=".6"/><path d="M472.1 473.4Q428.9 476 390.4 451.6" stroke="#127a1f" stroke-width="5.6"/><path d="M472.1 473.4Q428.9 476 390.4 451.6" stroke="#52de62" stroke-width="3.8"/><path d="M472.1 472.4Q428.9 475 390.4 450.6" stroke="#8af093" stroke-width="1.1" opacity=".6"/><path d="M480 447.3Q445.4 415.8 402.6 414.5" stroke="#127a1f" stroke-width="5.6"/><path d="M480 447.3Q445.4 415.8 402.6 414.5" stroke="#3ad04a" stroke-width="3.8"/><path d="M480 446.3Q445.4 414.8 402.6 413.5" stroke="#8af093" stroke-width="1.1" opacity=".6"/><path d="M424.2 478.2Q456.3 479.7 476.3 438.9" stroke="#127a1f" stroke-width="5.6"/><path d="M424.2 478.2Q456.3 479.7 476.3 438.9" stroke="#3ad04a" stroke-width="3.8"/><path d="M424.2 477.2Q456.3 478.7 476.3 437.9" stroke="#8af093" stroke-width="1.1" opacity=".6"/></g><path d="M329 372C329 363 337.2 354.4 345 350C353.7 345.1 365.5 342.9 375 346C385.4 349.4 390.5 362.5 400 368C409 373.2 419.6 377.4 430 378C443.3 378.8 456.7 373.1 470 372C479.9 371.2 490.4 369.6 500 372C508.5 374.1 518.3 377.7 523 385C525.8 389.4 522.3 397 518 400C510.1 405.5 499.5 406.6 490 408C476.9 409.9 463.2 410.7 450 410C436.7 409.3 423.1 406.6 410 404C398.3 401.7 386.6 397.9 375 395C365.1 392.6 354.1 392.5 345 388C338.3 384.7 329 379.5 329 372Z" fill="#f5e2c0"/><path d="M380 385C380 385 406.5 393.1 420 395C436.4 397.4 453.5 398.9 470 398C485.1 397.2 515 390 515 390" fill="none" stroke="#d3ad7a" stroke-width="1.4" opacity=".7"/><path d="M440 380C440 380 459.9 386 470 386C481.7 386 505 380 505 380" fill="none" stroke="#d3ad7a" stroke-width="1.4" opacity=".7"/><path d="M395 378C395 378 404.4 388.2 410 392C416.1 396.2 430 402 430 402" fill="none" stroke="#d3ad7a" stroke-width="1.4" opacity=".7"/><path d="M329 372C330.3 363.1 337.3 354.6 345 350C352.7 345.3 363.3 343.8 372 346C380.2 348.1 388.4 354.4 392 362C394.6 367.5 392.7 376.2 388 380C380.5 386.1 369.6 387.2 360 388C353.3 388.6 346 387.1 340 384C335.2 381.5 328.2 377.3 329 372Z" fill="#d98f4a"/><path d="M338 370C338 370 352.6 366 360 366C368.4 366 385 370 385 370" fill="none" stroke="#a8601f" stroke-width="1.4" opacity=".7"/><path d="M345 356C345 356 359.1 356.8 365 360C371.8 363.7 382 376 382 376" fill="none" stroke="#a8601f" stroke-width="1.4" opacity=".7"/><g filter="url(#texO)"><path d="M390 311C395.5 306.9 403.9 307 410.7 308C420.8 309.4 429.8 317.2 440 318C451 318.9 463 308.3 473 313C479.6 316.1 475.7 327.7 476 335C476.2 340.3 475.5 345.8 474.7 351C472.9 362.6 475 376.5 468 386C463.6 391.9 453.4 389.5 446 390C438.9 390.5 431.4 390.8 424.6 389C416 386.8 407.8 382.2 400 378C395.2 375.4 388.8 373.4 386.5 368.4C383.3 361.4 385 352.7 385 345C385 338.7 385.6 332.2 386.5 326C387.2 321 385.9 314 390 311Z" fill="#e98654"/></g><path d="M458 318C459.5 313 470.5 308.4 473 313C479 324 476.9 338.5 476 351C475.2 362.8 473.6 375.6 468 386C466.1 389.5 456.7 392 456 388C453.9 375.5 461.6 362.7 462 350C462.3 339.4 455 328.2 458 318Z" fill="#f3d9b8" opacity=".85"/><radialGradient id="bg8" cx=".42" cy=".38" r=".7"><stop offset="0" stop-color="#6fd2fa"/><stop offset=".55" stop-color="#2fb2ea"/><stop offset="1" stop-color="#1587c4"/></radialGradient><ellipse cx="443.5" cy="299.5" rx="25" ry="21.5" fill="url(#bg8)"/><ellipse cx="434.8" cy="292" rx="3" ry="4.7" fill="#fff" opacity=".55" transform="rotate(-30 434.8 292)"/><ellipse cx="445" cy="256" rx="20" ry="9" fill="#1c3fd6" transform="rotate(-4 445 256)" /><ellipse cx="445" cy="269.5" rx="19.5" ry="9" fill="#1f9e55" transform="rotate(4 445 269.5)" /><path d="M428 268Q445 276 462 266" fill="none" stroke="#0e6d37" stroke-width="1.5" opacity=".6"/><path d="M440 246L446 238" stroke="#f4f4f4" stroke-width="4"/><path d="M376 246L396 246L394 253L380 252Z" fill="#1c3fd6"/><path d="M420.6 246.4C412.2 249.9 405.2 257.4 400.3 265.1C393.9 275 390.7 287 387.1 298.2C383.5 309.5 381.9 321.8 378.5 333.2C374.6 346.3 370 359.7 365.1 372.5C360.5 384.7 354.9 397 349.7 409C345.7 418.2 336.3 426.7 337.2 436.7C337.7 442.2 348.4 446.8 352.8 443.3C360.7 437.1 360.6 424.4 364.3 415C369.2 402.7 374.5 390.1 378.9 377.5C383.5 364.2 387.9 350.4 391.5 336.8C394.5 325.4 395.8 313.2 398.9 301.8C401.8 291.4 404.2 280.2 409.7 270.9C413.9 263.9 424.1 261.1 427.4 253.6C428.8 250.6 423.6 245.1 420.6 246.4Z" fill="#e21a1c"/><path d="M424 250C424 250 409.6 260.7 405 268C399.1 277.6 396.2 289.2 393 300C389.6 311.4 388.2 323.6 385 335C381.3 348.4 376.7 362 372 375C367.5 387.4 362.1 399.8 357 412C353.1 421.3 345 440 345 440" fill="none" stroke="#a30d10" stroke-width="2.2" opacity=".28"/><path d="M338 425C343.6 420.1 354.3 415.2 360 420C366.4 425.3 363.3 436.8 362 445C360.6 453.8 356.5 462.3 352 470C349.1 475.1 345.6 481.5 340 483C334 484.6 324.4 483.7 322 478C318.4 469.4 323.3 458.9 326 450C328.6 441.2 331.1 431.1 338 425Z" fill="#e21a1c"/><path d="M324.8 469.2L316.7 477.2L322.7 472.9L322.9 478.2L328.1 474.7L328.8 480.5L333.6 475.8L334.9 481.8L338.7 478.7L341 483.3L344 480.8L347.5 483.3L349.8 480.8L353.3 486.2L350 475.9Z" fill="#e21a1c" stroke="#e21a1c" stroke-width="1.6" stroke-linejoin="round"/><g><path d="M438 492C438 492 449.1 486.3 455 486C462.7 485.6 470.7 487.5 478 490C484.1 492.2 489.5 496.5 495 500C498.8 502.4 506 508 506 508" fill="none" stroke="#1c3fd6" stroke-width="12.2" stroke-linecap="round" stroke-linejoin="round"/><path d="M438 492C438 492 449.1 486.3 455 486C462.7 485.6 470.7 487.5 478 490C484.1 492.2 489.5 496.5 495 500C498.8 502.4 506 508 506 508" fill="none" stroke="#0f2590" stroke-width="3.7" stroke-linecap="round" opacity=".3" transform="translate(1.2 1)"/><path d="M439.2 497.6L441.5 484.1M443.5 495.5L446.5 482.2M447.9 493.6L451.8 480.5M451.6 492L458.1 480M455.6 491.4L464.2 480.7M460.3 491.5L469.8 481.7M465 492.2L475.1 483.1M469.6 493.2L480.3 484.8M474 494.3L485.6 487.1M478.2 495.9L490.6 490.1M482.3 498.2L495.1 493.3M486.6 501.1L499.3 496.2M490.8 503.9L503.6 499.1M494.9 506.7L507.8 502.3M498.9 509.7L512 505.5" fill="none" stroke="#0f2590" stroke-width="1.3" opacity=".55" stroke-linecap="round"/><path d="M442.1 494.1L443.2 485.5M446.6 492.1L448.2 483.6M451.2 490.5L453.3 482.1M455.4 489.6L459.3 481.8M459.9 489.7L465.1 482.8M464.7 490.3L470.4 483.8M469.4 491.2L475.7 485.2M474.1 492.6L480.7 486.9M478.5 494.2L485.8 489.3M482.7 496.3L490.5 492.3M486.8 498.9L494.8 495.5M491.1 501.8L499.1 498.3M495.3 504.6L503.3 501.3M499.3 507.6L507.5 504.5M503.4 510.6L511.6 507.7" fill="none" stroke="#4a6cf5" stroke-width="1.4" opacity=".45" stroke-linecap="round"/></g><path d="M498.4 511.9L513.4 532.5L510.4 525.5L519.9 529.8L512 520.3L520 523.1L516.6 517.2L527.3 521L517.7 511.8L528.2 514.8L518.9 506.4L527.8 507.7L522.5 502.6L535 505.5L507.1 498.5Z" fill="#1c3fd6" stroke="#1c3fd6" stroke-width="1.6" stroke-linejoin="round"/><g><path d="M503.5 563L501.5 570.8L503 566.3L505 567.6L507.3 566L509.3 566.2L510.5 563.3L513.7 565.3L514.4 562.1L518.1 564.1L518.1 560.4L522.3 562.5L515.4 558.2Z" fill="#f9c118" stroke="#f9c118" stroke-width="1.6" stroke-linejoin="round"/><path d="M440 500C440 500 454.3 492 462 492C469.1 492 476.8 495.1 482 500C489 506.6 493 516.3 497 525C500.9 533.5 502.9 543.1 506 552C507.2 555.4 510 562 510 562" fill="none" stroke="#f9c118" stroke-width="12.8" stroke-linecap="round" stroke-linejoin="round"/><path d="M440 500C440 500 454.3 492 462 492C469.1 492 476.8 495.1 482 500C489 506.6 493 516.3 497 525C500.9 533.5 502.9 543.1 506 552C507.2 555.4 510 562 510 562" fill="none" stroke="#d8940a" stroke-width="3.8" stroke-linecap="round" opacity=".3" transform="translate(1.2 1)"/><path d="M441.4 505.9L443.3 491.6M445.8 503.4L448.6 489.4M450.5 501.3L453.9 487.4M454.7 499.4L459.9 486M458.3 497.8L466.9 486.3M462.8 497.6L473.2 487.7M467 498.1L479.2 490.5M471.2 499.6L484.4 494M475 501.4L489.1 498.8M478.5 504.5L492.9 503.6M481.6 508L495.9 508.9M484.3 512.3L498.5 514.1M486.7 516.8L500.9 519.2M489 521.6L503.1 524.2M491.2 526.3L505.2 529.3M493.2 530.8L507 534.9M494.9 535.8L508.5 540.2M496.4 540.9L510 545.4M497.9 546.2L511.6 550.4M499.6 551.6L513.5 555.2M501.5 556.8L515.5 559.9" fill="none" stroke="#d8940a" stroke-width="1.3" opacity=".55" stroke-linecap="round"/><path d="M444.3 502L445.2 493M449 499.8L450.4 490.8M453.8 497.8L455.6 488.9M458.4 496.4L461.4 487.8M462.7 495.9L467.9 488.3M467.4 496.5L473.8 490M471.8 497.9L479.3 492.8M476 500.2L484.2 496.3M479.6 503L488.5 501M482.8 506.6L491.9 505.7M485.6 510.7L494.7 510.9M488.1 515.2L497.2 516M490.4 519.8L499.4 521M492.6 524.7L501.7 526M494.8 529.5L503.7 531.1M496.5 534.3L505.3 536.5M498.1 539.3L506.9 541.8M499.6 544.5L508.4 547M501.2 549.7L510 552.1M503 554.9L511.9 556.9M505 560.1L514 561.7" fill="none" stroke="#ffe160" stroke-width="1.4" opacity=".45" stroke-linecap="round"/></g><g><path d="M325.7 586.3L320.1 588.4L323.2 588.1L323.6 590L326.7 588.8L327.2 591.3L329.7 590.7L330.7 592.9L332.9 591.9L334.4 594.2L335.9 593.7L337.8 595.9L335.6 591Z" fill="#1c3fd6" stroke="#1c3fd6" stroke-width="1.6" stroke-linejoin="round"/><path d="M410 512C410 512 392.7 514.5 385 518C375.9 522.2 366.7 527.6 360 535C352.2 543.5 347.5 554.9 342 565C337.6 573 330 590 330 590" fill="none" stroke="#1c3fd6" stroke-width="11" stroke-linecap="round" stroke-linejoin="round"/><path d="M410 512C410 512 392.7 514.5 385 518C375.9 522.2 366.7 527.6 360 535C352.2 543.5 347.5 554.9 342 565C337.6 573 330 590 330 590" fill="none" stroke="#0f2590" stroke-width="3.3" stroke-linecap="round" opacity=".3" transform="translate(1.2 1)"/><path d="M410 512C410 512 392.7 514.5 385 518C375.9 522.2 366.7 527.6 360 535C352.2 543.5 347.5 554.9 342 565C337.6 573 330 590 330 590" fill="none" stroke="#4a6cf5" stroke-width="3.3" stroke-linecap="round" opacity=".3" transform="translate(-1 -1)"/></g><path d="M398.8 515C388.9 519.9 383.6 531.7 378.4 541.4C372.4 552.7 368.7 565.7 365.3 578.1C361.2 592.9 358.3 608.6 355.6 623.8C353.6 635.5 351.8 647.7 351 659.5C350.1 672.8 350.5 686.6 350.5 699.9C350.5 707.2 347.9 715.4 351 722C352.4 725 359.6 725 361 722C364.1 715.5 361.3 707.3 361.5 700.1C361.9 687 361.8 673.5 363 660.5C364 649.1 366.1 637.4 368.4 626.2C371.3 611.5 374.4 596.3 378.7 581.9C382.1 570.6 385.7 558.8 391.6 548.6C396.6 539.8 409.1 534.9 411.2 525C412.4 519.8 403.5 512.6 398.8 515Z" fill="#e21a1c"/><path d="M405 520C405 520 390.1 535.7 385 545C379.1 555.8 375.4 568.2 372 580C367.8 594.6 364.8 610 362 625C359.8 636.5 357.9 648.4 357 660C355.9 673.2 356.2 686.8 356 700C355.9 707.3 356 722 356 722" fill="none" stroke="#a30d10" stroke-width="2.2" opacity=".28"/><path d="M350 700L362 700L367 722L346 724Z" fill="#e21a1c"/><g><path d="M383.2 598.8L379.3 621.4L382.2 613.4L383.8 617.6L386.5 614.1L388.5 617.5L390.6 612.1L393.2 616.6L394.8 612.3L397.9 616.7L399.1 611.8L402.8 620.3L396.6 598.2Z" fill="#f9c118" stroke="#f9c118" stroke-width="1.6" stroke-linejoin="round"/><path d="M412 525C412 525 398.3 537 395 545C390.5 555.8 390.1 568.3 389 580C388.4 586.6 390 600 390 600" fill="none" stroke="#f9c118" stroke-width="13.4" stroke-linecap="butt" stroke-linejoin="round"/><path d="M412 525C412 525 398.3 537 395 545C390.5 555.8 390.1 568.3 389 580C388.4 586.6 390 600 390 600" fill="none" stroke="#d8940a" stroke-width="4" stroke-linecap="butt" opacity=".3" transform="translate(1.2 1)"/><path d="M408.8 519.5L411 534.3M404.5 523.4L407.3 538.2M400.3 527.6L403.8 542.3M396 532.2L400.9 546.4M391.7 537.5L399.2 550.6M388.8 543.4L398.1 555.2M386.9 549.2L397.1 560.3M385.5 555.2L396.4 565.5M384.6 560.9L395.9 570.9M383.9 566.7L395.5 576.3M383.5 572.3L395 581.9M382.8 578.3L395 587.2M382.6 584.4L395.4 592.3M382.9 590.3L395.9 597.7M383.3 596L396.6 603.2" fill="none" stroke="#d8940a" stroke-width="1.3" opacity=".55" stroke-linecap="round"/><path d="M407 524.1L408.8 533.5M402.9 528.2L405 537.5M398.9 532.5L401.5 541.7M395.1 537.1L398.5 546M391.7 542.5L396.8 550.7M389.5 548.4L395.7 555.6M388 554.1L394.7 560.9M387 560L394.2 566.2M386.2 565.7L393.7 571.7M385.7 571.4L393.3 577.2M385.2 577L392.8 582.8M384.8 582.9L392.8 588.2M385 588.8L393.3 593.6M385.4 594.6L393.9 599M386 600.3L394.6 604.5" fill="none" stroke="#ffe160" stroke-width="1.4" opacity=".45" stroke-linecap="round"/></g><path d="M397.8 513.6C400.2 517.8 407.6 516.2 411.6 519C415.3 521.5 416.1 528.5 420.6 529C424.5 529.5 429.9 524.9 429.4 521C428.9 515.6 422.8 512.1 418.4 509C413.6 505.8 407.9 501.2 402.2 502.4C398.4 503.3 395.8 510.1 397.8 513.6Z" fill="#e21a1c"/><path d="M400 508C400 508 410.6 511 415 514C419.1 516.8 425 525 425 525" fill="none" stroke="#a30d10" stroke-width="2.6" opacity=".28"/><g><path d="M395 515C395 515 405.6 518.8 410 522C414 524.9 420 533 420 533" fill="none" stroke="#f9c118" stroke-width="7.3" stroke-linecap="round" stroke-linejoin="round"/><path d="M395 515C395 515 405.6 518.8 410 522C414 524.9 420 533 420 533" fill="none" stroke="#d8940a" stroke-width="2.2" stroke-linecap="round" opacity=".3" transform="translate(1.2 1)"/><path d="M395 515C395 515 405.6 518.8 410 522C414 524.9 420 533 420 533" fill="none" stroke="#ffe160" stroke-width="2.2" stroke-linecap="round" opacity=".3" transform="translate(-1 -1)"/></g></g>
<linearGradient id="dowV" x1="0" x2="1" y1="0" y2="0"><stop offset="0" stop-color="#f6d6ab"/><stop offset=".35" stop-color="#fde6c6"/><stop offset=".7" stop-color="#fbdfb8"/><stop offset="1" stop-color="#efc692"/></linearGradient><linearGradient id="dowH" x1="0" x2="0" y1="0" y2="1"><stop offset="0" stop-color="#fbe0b4"/><stop offset=".45" stop-color="#fbdcae"/><stop offset="1" stop-color="#f3c891"/></linearGradient><linearGradient id="wrapsh" x1="0" x2="1" y1="0" y2="0"><stop offset="0" stop-color="#000" stop-opacity=".16"/><stop offset=".2" stop-color="#000" stop-opacity="0"/><stop offset=".8" stop-color="#000" stop-opacity="0"/><stop offset="1" stop-color="#000" stop-opacity=".14"/></linearGradient><linearGradient id="wash" x1="0" x2="1" y1="0" y2="0"><stop offset="0" stop-color="#e4e4e2"/><stop offset=".3" stop-color="#cfcfcc"/><stop offset=".7" stop-color="#d6d6d3"/><stop offset="1" stop-color="#e9e9e7"/></linearGradient><linearGradient id="bolt" x1="0" x2="1" y1="0" y2="0"><stop offset="0" stop-color="#8a6a1a"/><stop offset=".5" stop-color="#d2b04a"/><stop offset="1" stop-color="#8f6f1c"/></linearGradient><rect x="636.3" y="104.5" width="5.6" height="20" rx="1.5" fill="url(#bolt)"/><g stroke="#8f9499" stroke-width="1" fill="none" opacity=".8"><path d="M617 118L623 127M626 113L631 121M652 114L648 122M663 117L658 126"/></g><ellipse cx="641" cy="136" rx="34.6" ry="10.3" fill="url(#wash)" /><ellipse cx="641" cy="134.3" rx="31" ry="8" fill="#e3e3e1" /><path d="M623.2 137Q623.2 131.5 639.5 131.5Q655.8 131.5 655.8 137L658.6 477L626 477Z" fill="url(#dowV)"/><clipPath id="wc4"><path d="M621.3 197.5C618.7 198 617.1 201 616 203.3C614.7 205.8 614.3 208.8 614.3 211.6C614.3 214.4 615.7 217.1 615.9 219.9C616.2 222.6 615.8 225.5 615.7 228.2C615.6 230.9 615.5 233.8 615.4 236.5C615.2 239.2 614.8 242.1 614.8 244.8C614.7 247.5 614.7 250.4 614.9 253.1C615.1 255.9 615.9 258.6 616.1 261.4C616.3 264.1 616.2 267 616.1 269.7C615.9 272.4 615.3 275.2 615.3 278C615.3 280.8 615.9 283.6 616.1 286.3C616.3 289 616.4 291.9 616.4 294.6C616.4 297.3 616.1 300.2 616 302.9C615.9 305.6 615.9 308.5 615.9 311.2C615.8 313.9 615.7 316.8 615.9 319.5C616 322.3 616.7 325 616.7 327.8C616.8 330.5 616.1 333.4 616.1 336.1C616.1 338.8 616.7 341.7 616.8 344.4C616.9 347.1 616.9 350 616.8 352.7C616.7 355.4 616.3 358.3 616.2 361C616.2 363.7 616.5 366.6 616.4 369.3C616.4 372 615.6 374.9 615.7 377.6C615.8 380.4 616.8 383.1 616.9 385.9C617.1 388.6 615.8 391.6 616.7 394.2C617.8 397.4 619.5 401.9 622.9 402.5C634.1 404.4 646.2 403.3 657.3 401C660.2 400.4 662 397 663.1 394.2C664.1 391.6 663 388.6 663.1 385.9C663.1 383.2 663.4 380.3 663.5 377.6C663.6 374.9 663.6 372 663.6 369.3C663.6 366.6 663.4 363.7 663.5 361C663.6 358.3 664.2 355.4 664.3 352.7C664.3 350 663.9 347.1 663.7 344.4C663.5 341.7 663.1 338.8 663.2 336.1C663.2 333.3 664.2 330.6 664.1 327.8C664 325 662.9 322.3 662.7 319.5C662.4 316.8 662.6 313.9 662.8 311.2C662.9 308.5 663.6 305.7 663.6 302.9C663.5 300.1 662.4 297.4 662.5 294.6C662.5 291.8 663.7 289.1 663.8 286.3C663.9 283.6 663.5 280.7 663.3 278C663.1 275.3 662.5 272.5 662.5 269.7C662.5 266.9 663.3 264.2 663.5 261.4C663.7 258.7 663.9 255.8 663.7 253.1C663.5 250.3 662.4 247.6 662.2 244.8C661.9 242.1 662.4 239.2 662.4 236.5C662.4 233.8 662.1 230.9 662.2 228.2C662.4 225.4 663.2 222.7 663.2 219.9C663.3 217.1 662.8 214.3 662.4 211.6C662.1 208.8 662 205.8 660.9 203.3C659.5 200.2 658.3 195.5 655 195C644 193.4 632.2 195.2 621.3 197.5Z"/></clipPath><path d="M621.3 197.5C618.7 198 617.1 201 616 203.3C614.7 205.8 614.3 208.8 614.3 211.6C614.3 214.4 615.7 217.1 615.9 219.9C616.2 222.6 615.8 225.5 615.7 228.2C615.6 230.9 615.5 233.8 615.4 236.5C615.2 239.2 614.8 242.1 614.8 244.8C614.7 247.5 614.7 250.4 614.9 253.1C615.1 255.9 615.9 258.6 616.1 261.4C616.3 264.1 616.2 267 616.1 269.7C615.9 272.4 615.3 275.2 615.3 278C615.3 280.8 615.9 283.6 616.1 286.3C616.3 289 616.4 291.9 616.4 294.6C616.4 297.3 616.1 300.2 616 302.9C615.9 305.6 615.9 308.5 615.9 311.2C615.8 313.9 615.7 316.8 615.9 319.5C616 322.3 616.7 325 616.7 327.8C616.8 330.5 616.1 333.4 616.1 336.1C616.1 338.8 616.7 341.7 616.8 344.4C616.9 347.1 616.9 350 616.8 352.7C616.7 355.4 616.3 358.3 616.2 361C616.2 363.7 616.5 366.6 616.4 369.3C616.4 372 615.6 374.9 615.7 377.6C615.8 380.4 616.8 383.1 616.9 385.9C617.1 388.6 615.8 391.6 616.7 394.2C617.8 397.4 619.5 401.9 622.9 402.5C634.1 404.4 646.2 403.3 657.3 401C660.2 400.4 662 397 663.1 394.2C664.1 391.6 663 388.6 663.1 385.9C663.1 383.2 663.4 380.3 663.5 377.6C663.6 374.9 663.6 372 663.6 369.3C663.6 366.6 663.4 363.7 663.5 361C663.6 358.3 664.2 355.4 664.3 352.7C664.3 350 663.9 347.1 663.7 344.4C663.5 341.7 663.1 338.8 663.2 336.1C663.2 333.3 664.2 330.6 664.1 327.8C664 325 662.9 322.3 662.7 319.5C662.4 316.8 662.6 313.9 662.8 311.2C662.9 308.5 663.6 305.7 663.6 302.9C663.5 300.1 662.4 297.4 662.5 294.6C662.5 291.8 663.7 289.1 663.8 286.3C663.9 283.6 663.5 280.7 663.3 278C663.1 275.3 662.5 272.5 662.5 269.7C662.5 266.9 663.3 264.2 663.5 261.4C663.7 258.7 663.9 255.8 663.7 253.1C663.5 250.3 662.4 247.6 662.2 244.8C661.9 242.1 662.4 239.2 662.4 236.5C662.4 233.8 662.1 230.9 662.2 228.2C662.4 225.4 663.2 222.7 663.2 219.9C663.3 217.1 662.8 214.3 662.4 211.6C662.1 208.8 662 205.8 660.9 203.3C659.5 200.2 658.3 195.5 655 195C644 193.4 632.2 195.2 621.3 197.5Z" fill="#f9c118"/><g clip-path="url(#wc4)"><path d="M612.9 193.8Q638.7 193 664.4 185.8" fill="none" stroke="#d8940a" stroke-width="1.4" opacity=".38"/><path d="M612.9 190.4Q638.7 189.4 664.4 182.4" fill="none" stroke="#ffe160" stroke-width="2.2" opacity=".2"/><path d="M613 201.8Q638.8 201.1 664.5 193.8" fill="none" stroke="#d8940a" stroke-width="1.4" opacity=".38"/><path d="M613 198.4Q638.8 197.5 664.5 190.4" fill="none" stroke="#ffe160" stroke-width="2.2" opacity=".2"/><path d="M613.1 211.4Q638.8 210.7 664.6 203.4" fill="none" stroke="#d8940a" stroke-width="1.4" opacity=".38"/><path d="M613.1 208Q638.8 207.1 664.6 200" fill="none" stroke="#ffe160" stroke-width="2.2" opacity=".2"/><path d="M613.1 218.1Q638.9 217.4 664.6 210.1" fill="none" stroke="#d8940a" stroke-width="1.4" opacity=".38"/><path d="M613.1 214.7Q638.9 213.8 664.6 206.7" fill="none" stroke="#ffe160" stroke-width="2.2" opacity=".2"/><path d="M613.2 226.9Q638.9 226.1 664.7 218.9" fill="none" stroke="#d8940a" stroke-width="1.4" opacity=".38"/><path d="M613.2 223.5Q638.9 222.5 664.7 215.5" fill="none" stroke="#ffe160" stroke-width="2.2" opacity=".2"/><path d="M613.2 234.8Q639 234 664.7 226.8" fill="none" stroke="#d8940a" stroke-width="1.4" opacity=".38"/><path d="M613.2 231.4Q639 230.4 664.7 223.4" fill="none" stroke="#ffe160" stroke-width="2.2" opacity=".2"/><path d="M613.3 243.9Q639 243.2 664.8 235.9" fill="none" stroke="#d8940a" stroke-width="1.4" opacity=".38"/><path d="M613.3 240.5Q639 239.6 664.8 232.5" fill="none" stroke="#ffe160" stroke-width="2.2" opacity=".2"/><path d="M613.4 251.5Q639.1 250.8 664.9 243.5" fill="none" stroke="#d8940a" stroke-width="1.4" opacity=".38"/><path d="M613.4 248.1Q639.1 247.2 664.9 240.1" fill="none" stroke="#ffe160" stroke-width="2.2" opacity=".2"/><path d="M613.4 260Q639.2 259.2 664.9 252" fill="none" stroke="#d8940a" stroke-width="1.4" opacity=".38"/><path d="M613.4 256.6Q639.2 255.6 664.9 248.6" fill="none" stroke="#ffe160" stroke-width="2.2" opacity=".2"/><path d="M613.5 269Q639.2 268.3 665 261" fill="none" stroke="#d8940a" stroke-width="1.4" opacity=".38"/><path d="M613.5 265.6Q639.2 264.7 665 257.6" fill="none" stroke="#ffe160" stroke-width="2.2" opacity=".2"/><path d="M613.5 276.5Q639.3 275.7 665 268.5" fill="none" stroke="#d8940a" stroke-width="1.4" opacity=".38"/><path d="M613.5 273.1Q639.3 272.1 665 265.1" fill="none" stroke="#ffe160" stroke-width="2.2" opacity=".2"/><path d="M613.6 285.3Q639.4 284.5 665.1 277.3" fill="none" stroke="#d8940a" stroke-width="1.4" opacity=".38"/><path d="M613.6 281.9Q639.4 280.9 665.1 273.9" fill="none" stroke="#ffe160" stroke-width="2.2" opacity=".2"/><path d="M613.7 294.3Q639.4 293.5 665.2 286.3" fill="none" stroke="#d8940a" stroke-width="1.4" opacity=".38"/><path d="M613.7 290.9Q639.4 289.9 665.2 282.9" fill="none" stroke="#ffe160" stroke-width="2.2" opacity=".2"/><path d="M613.7 301Q639.5 300.2 665.2 293" fill="none" stroke="#d8940a" stroke-width="1.4" opacity=".38"/><path d="M613.7 297.6Q639.5 296.6 665.2 289.6" fill="none" stroke="#ffe160" stroke-width="2.2" opacity=".2"/><path d="M613.8 309.2Q639.5 308.4 665.3 301.2" fill="none" stroke="#d8940a" stroke-width="1.4" opacity=".38"/><path d="M613.8 305.8Q639.5 304.8 665.3 297.8" fill="none" stroke="#ffe160" stroke-width="2.2" opacity=".2"/><path d="M613.8 317.8Q639.6 317.1 665.3 309.8" fill="none" stroke="#d8940a" stroke-width="1.4" opacity=".38"/><path d="M613.8 314.4Q639.6 313.5 665.3 306.4" fill="none" stroke="#ffe160" stroke-width="2.2" opacity=".2"/><path d="M613.9 327.2Q639.6 326.4 665.4 319.2" fill="none" stroke="#d8940a" stroke-width="1.4" opacity=".38"/><path d="M613.9 323.8Q639.6 322.8 665.4 315.8" fill="none" stroke="#ffe160" stroke-width="2.2" opacity=".2"/><path d="M614 335.2Q639.7 334.4 665.5 327.2" fill="none" stroke="#d8940a" stroke-width="1.4" opacity=".38"/><path d="M614 331.8Q639.7 330.8 665.5 323.8" fill="none" stroke="#ffe160" stroke-width="2.2" opacity=".2"/><path d="M614 342.7Q639.8 342 665.5 334.7" fill="none" stroke="#d8940a" stroke-width="1.4" opacity=".38"/><path d="M614 339.3Q639.8 338.4 665.5 331.3" fill="none" stroke="#ffe160" stroke-width="2.2" opacity=".2"/><path d="M614.1 351.2Q639.8 350.5 665.6 343.2" fill="none" stroke="#d8940a" stroke-width="1.4" opacity=".38"/><path d="M614.1 347.8Q639.8 346.9 665.6 339.8" fill="none" stroke="#ffe160" stroke-width="2.2" opacity=".2"/><path d="M614.1 359.2Q639.9 358.5 665.6 351.2" fill="none" stroke="#d8940a" stroke-width="1.4" opacity=".38"/><path d="M614.1 355.8Q639.9 354.9 665.6 347.8" fill="none" stroke="#ffe160" stroke-width="2.2" opacity=".2"/><path d="M614.2 368.1Q640 367.3 665.7 360.1" fill="none" stroke="#d8940a" stroke-width="1.4" opacity=".38"/><path d="M614.2 364.7Q640 363.7 665.7 356.7" fill="none" stroke="#ffe160" stroke-width="2.2" opacity=".2"/><path d="M614.3 375.5Q640 374.8 665.8 367.5" fill="none" stroke="#d8940a" stroke-width="1.4" opacity=".38"/><path d="M614.3 372.1Q640 371.2 665.8 364.1" fill="none" stroke="#ffe160" stroke-width="2.2" opacity=".2"/><path d="M614.3 385.1Q640.1 384.4 665.8 377.1" fill="none" stroke="#d8940a" stroke-width="1.4" opacity=".38"/><path d="M614.3 381.7Q640.1 380.8 665.8 373.7" fill="none" stroke="#ffe160" stroke-width="2.2" opacity=".2"/><path d="M614.4 393.8Q640.1 393.1 665.9 385.8" fill="none" stroke="#d8940a" stroke-width="1.4" opacity=".38"/><path d="M614.4 390.4Q640.1 389.5 665.9 382.4" fill="none" stroke="#ffe160" stroke-width="2.2" opacity=".2"/><path d="M614.4 402.3Q640.2 401.5 665.9 394.3" fill="none" stroke="#d8940a" stroke-width="1.4" opacity=".38"/><path d="M614.4 398.9Q640.2 397.9 665.9 390.9" fill="none" stroke="#ffe160" stroke-width="2.2" opacity=".2"/><path d="M614.5 410.1Q640.2 409.4 666 402.1" fill="none" stroke="#d8940a" stroke-width="1.4" opacity=".38"/><path d="M614.5 406.7Q640.2 405.8 666 398.7" fill="none" stroke="#ffe160" stroke-width="2.2" opacity=".2"/><rect x="611" y="191" width="57" height="215.5" fill="url(#wrapsh)"/></g><rect x="841.8" y="96" width="5.4" height="24" rx="1.5" fill="url(#bolt)"/><path d="M821.5 107L829 104.5L836.5 115L829 117.5Z" fill="#a9b6c8"/><path d="M856 116L862.5 109L868 112L862 118.5Z" fill="#a9b6c8"/><ellipse cx="845.5" cy="129.5" rx="34.5" ry="11.5" fill="url(#wash)" /><ellipse cx="845.5" cy="127.5" rx="31" ry="8.5" fill="#e1e1df" /><path d="M833 126Q833 121 849.5 121Q866 121 866 126L866 466Q849.5 470 833.5 466Z" fill="url(#dowV)"/><g stroke="#e2b27e" stroke-width=".9" opacity=".55" fill="none"><path d="M838 400V466M842.5 400V467M847 400V467.5M851.5 400V467.5M856 400V467M860.5 400V466M840 124V178M848 123V178M856 124V178"/></g><clipPath id="wc9"><path d="M828.2 180C825.4 180.5 823.3 183.2 821.9 185.6C820.6 188 820.6 191.1 820.6 193.8C820.7 196.5 822.1 199.2 822.2 201.9C822.4 204.6 821.9 207.4 821.6 210.1C821.3 212.8 820.6 215.5 820.7 218.2C820.7 221 821.7 223.7 821.9 226.4C822.1 229.1 822 231.9 821.9 234.5C821.8 237.2 821.1 240 821 242.7C821 245.4 821.4 248.1 821.5 250.8C821.6 253.5 821.7 256.3 821.7 259C821.6 261.7 821.4 264.4 821.3 267.1C821.1 269.8 820.7 272.6 820.8 275.3C820.9 278 821.7 280.7 821.8 283.4C821.9 286.1 821.5 288.9 821.4 291.6C821.2 294.3 821.1 297 821.1 299.7C821 302.4 821.1 305.2 821.1 307.9C821.1 310.6 820.8 313.3 821 316C821.1 318.7 822.1 321.4 822.2 324.2C822.2 326.9 821.5 329.6 821.3 332.3C821 335 820.5 337.8 820.6 340.5C820.8 343.2 822.1 345.9 822.2 348.6C822.4 351.3 821.8 354.1 821.7 356.8C821.6 359.4 821.8 362.2 821.6 364.9C821.5 367.6 821.1 370.4 821 373.1C820.8 375.7 820.6 378.5 820.8 381.2C820.9 383.9 820.6 386.9 821.7 389.4C823.2 392.5 824.8 397 828.2 397.5C840.9 399.4 854.4 398.4 867 396C869.6 395.5 870.2 391.7 871.2 389.4C872.2 386.8 872.9 384 873.1 381.2C873.2 378.5 872 375.8 872.1 373.1C872.2 370.3 873.7 367.6 873.7 364.9C873.7 362.2 872.6 359.5 872.3 356.8C872.1 354.1 872.2 351.3 872.3 348.6C872.4 345.9 872.8 343.2 872.9 340.5C873 337.8 873.1 335 873 332.3C872.9 329.6 872.1 326.9 872.2 324.2C872.3 321.4 873.5 318.7 873.7 316C873.9 313.3 873.8 310.6 873.6 307.9C873.4 305.2 872.7 302.4 872.5 299.7C872.3 297 872.1 294.3 872.3 291.6C872.4 288.9 873.3 286.1 873.4 283.4C873.5 280.7 872.6 278 872.6 275.3C872.6 272.6 873.3 269.8 873.4 267.1C873.6 264.4 873.4 261.7 873.5 259C873.5 256.3 874 253.5 873.8 250.8C873.6 248.1 872.5 245.4 872.3 242.7C872.1 240 872.3 237.2 872.4 234.5C872.5 231.8 872.8 229.1 872.9 226.4C873 223.7 872.7 220.9 872.8 218.2C872.8 215.5 873.3 212.8 873.2 210.1C873.1 207.4 872.3 204.7 872.2 201.9C872.2 199.2 872.9 196.5 873 193.8C873.1 191.1 873.6 188.1 872.6 185.6C871.2 182.5 869.4 177.9 866 177.5C853.6 175.9 840.5 177.7 828.2 180Z"/></clipPath><path d="M828.2 180C825.4 180.5 823.3 183.2 821.9 185.6C820.6 188 820.6 191.1 820.6 193.8C820.7 196.5 822.1 199.2 822.2 201.9C822.4 204.6 821.9 207.4 821.6 210.1C821.3 212.8 820.6 215.5 820.7 218.2C820.7 221 821.7 223.7 821.9 226.4C822.1 229.1 822 231.9 821.9 234.5C821.8 237.2 821.1 240 821 242.7C821 245.4 821.4 248.1 821.5 250.8C821.6 253.5 821.7 256.3 821.7 259C821.6 261.7 821.4 264.4 821.3 267.1C821.1 269.8 820.7 272.6 820.8 275.3C820.9 278 821.7 280.7 821.8 283.4C821.9 286.1 821.5 288.9 821.4 291.6C821.2 294.3 821.1 297 821.1 299.7C821 302.4 821.1 305.2 821.1 307.9C821.1 310.6 820.8 313.3 821 316C821.1 318.7 822.1 321.4 822.2 324.2C822.2 326.9 821.5 329.6 821.3 332.3C821 335 820.5 337.8 820.6 340.5C820.8 343.2 822.1 345.9 822.2 348.6C822.4 351.3 821.8 354.1 821.7 356.8C821.6 359.4 821.8 362.2 821.6 364.9C821.5 367.6 821.1 370.4 821 373.1C820.8 375.7 820.6 378.5 820.8 381.2C820.9 383.9 820.6 386.9 821.7 389.4C823.2 392.5 824.8 397 828.2 397.5C840.9 399.4 854.4 398.4 867 396C869.6 395.5 870.2 391.7 871.2 389.4C872.2 386.8 872.9 384 873.1 381.2C873.2 378.5 872 375.8 872.1 373.1C872.2 370.3 873.7 367.6 873.7 364.9C873.7 362.2 872.6 359.5 872.3 356.8C872.1 354.1 872.2 351.3 872.3 348.6C872.4 345.9 872.8 343.2 872.9 340.5C873 337.8 873.1 335 873 332.3C872.9 329.6 872.1 326.9 872.2 324.2C872.3 321.4 873.5 318.7 873.7 316C873.9 313.3 873.8 310.6 873.6 307.9C873.4 305.2 872.7 302.4 872.5 299.7C872.3 297 872.1 294.3 872.3 291.6C872.4 288.9 873.3 286.1 873.4 283.4C873.5 280.7 872.6 278 872.6 275.3C872.6 272.6 873.3 269.8 873.4 267.1C873.6 264.4 873.4 261.7 873.5 259C873.5 256.3 874 253.5 873.8 250.8C873.6 248.1 872.5 245.4 872.3 242.7C872.1 240 872.3 237.2 872.4 234.5C872.5 231.8 872.8 229.1 872.9 226.4C873 223.7 872.7 220.9 872.8 218.2C872.8 215.5 873.3 212.8 873.2 210.1C873.1 207.4 872.3 204.7 872.2 201.9C872.2 199.2 872.9 196.5 873 193.8C873.1 191.1 873.6 188.1 872.6 185.6C871.2 182.5 869.4 177.9 866 177.5C853.6 175.9 840.5 177.7 828.2 180Z" fill="#1a3ad2"/><g clip-path="url(#wc9)"><path d="M819.5 176.3Q847.2 175.5 875 168.3" fill="none" stroke="#0f2590" stroke-width="1.4" opacity=".38"/><path d="M819.5 172.9Q847.2 171.9 875 164.9" fill="none" stroke="#4a6cf5" stroke-width="2.2" opacity=".2"/><path d="M819.5 184.4Q847.2 183.6 875 176.4" fill="none" stroke="#0f2590" stroke-width="1.4" opacity=".38"/><path d="M819.5 181Q847.2 180 875 173" fill="none" stroke="#4a6cf5" stroke-width="2.2" opacity=".2"/><path d="M819.5 193Q847.2 192.2 875 185" fill="none" stroke="#0f2590" stroke-width="1.4" opacity=".38"/><path d="M819.5 189.6Q847.2 188.6 875 181.6" fill="none" stroke="#4a6cf5" stroke-width="2.2" opacity=".2"/><path d="M819.5 200.1Q847.2 199.3 875 192.1" fill="none" stroke="#0f2590" stroke-width="1.4" opacity=".38"/><path d="M819.5 196.7Q847.2 195.7 875 188.7" fill="none" stroke="#4a6cf5" stroke-width="2.2" opacity=".2"/><path d="M819.5 209.2Q847.2 208.4 875 201.2" fill="none" stroke="#0f2590" stroke-width="1.4" opacity=".38"/><path d="M819.5 205.8Q847.2 204.8 875 197.8" fill="none" stroke="#4a6cf5" stroke-width="2.2" opacity=".2"/><path d="M819.5 216.5Q847.2 215.8 875 208.5" fill="none" stroke="#0f2590" stroke-width="1.4" opacity=".38"/><path d="M819.5 213.1Q847.2 212.2 875 205.1" fill="none" stroke="#4a6cf5" stroke-width="2.2" opacity=".2"/><path d="M819.5 225.5Q847.2 224.8 875 217.5" fill="none" stroke="#0f2590" stroke-width="1.4" opacity=".38"/><path d="M819.5 222.1Q847.2 221.2 875 214.1" fill="none" stroke="#4a6cf5" stroke-width="2.2" opacity=".2"/><path d="M819.5 234.4Q847.2 233.6 875 226.4" fill="none" stroke="#0f2590" stroke-width="1.4" opacity=".38"/><path d="M819.5 231Q847.2 230 875 223" fill="none" stroke="#4a6cf5" stroke-width="2.2" opacity=".2"/><path d="M819.5 240.7Q847.2 240 875 232.7" fill="none" stroke="#0f2590" stroke-width="1.4" opacity=".38"/><path d="M819.5 237.3Q847.2 236.4 875 229.3" fill="none" stroke="#4a6cf5" stroke-width="2.2" opacity=".2"/><path d="M819.5 249.9Q847.2 249.1 875 241.9" fill="none" stroke="#0f2590" stroke-width="1.4" opacity=".38"/><path d="M819.5 246.5Q847.2 245.5 875 238.5" fill="none" stroke="#4a6cf5" stroke-width="2.2" opacity=".2"/><path d="M819.5 258.1Q847.2 257.4 875 250.1" fill="none" stroke="#0f2590" stroke-width="1.4" opacity=".38"/><path d="M819.5 254.7Q847.2 253.8 875 246.7" fill="none" stroke="#4a6cf5" stroke-width="2.2" opacity=".2"/><path d="M819.5 265.4Q847.2 264.6 875 257.4" fill="none" stroke="#0f2590" stroke-width="1.4" opacity=".38"/><path d="M819.5 262Q847.2 261 875 254" fill="none" stroke="#4a6cf5" stroke-width="2.2" opacity=".2"/><path d="M819.5 273.7Q847.2 273 875 265.7" fill="none" stroke="#0f2590" stroke-width="1.4" opacity=".38"/><path d="M819.5 270.3Q847.2 269.4 875 262.3" fill="none" stroke="#4a6cf5" stroke-width="2.2" opacity=".2"/><path d="M819.5 283.3Q847.2 282.6 875 275.3" fill="none" stroke="#0f2590" stroke-width="1.4" opacity=".38"/><path d="M819.5 279.9Q847.2 279 875 271.9" fill="none" stroke="#4a6cf5" stroke-width="2.2" opacity=".2"/><path d="M819.5 291.5Q847.2 290.7 875 283.5" fill="none" stroke="#0f2590" stroke-width="1.4" opacity=".38"/><path d="M819.5 288.1Q847.2 287.1 875 280.1" fill="none" stroke="#4a6cf5" stroke-width="2.2" opacity=".2"/><path d="M819.5 297.9Q847.2 297.1 875 289.9" fill="none" stroke="#0f2590" stroke-width="1.4" opacity=".38"/><path d="M819.5 294.5Q847.2 293.5 875 286.5" fill="none" stroke="#4a6cf5" stroke-width="2.2" opacity=".2"/><path d="M819.5 307.2Q847.2 306.5 875 299.2" fill="none" stroke="#0f2590" stroke-width="1.4" opacity=".38"/><path d="M819.5 303.8Q847.2 302.9 875 295.8" fill="none" stroke="#4a6cf5" stroke-width="2.2" opacity=".2"/><path d="M819.5 315.8Q847.2 315.1 875 307.8" fill="none" stroke="#0f2590" stroke-width="1.4" opacity=".38"/><path d="M819.5 312.4Q847.2 311.5 875 304.4" fill="none" stroke="#4a6cf5" stroke-width="2.2" opacity=".2"/><path d="M819.5 322.6Q847.2 321.8 875 314.6" fill="none" stroke="#0f2590" stroke-width="1.4" opacity=".38"/><path d="M819.5 319.2Q847.2 318.2 875 311.2" fill="none" stroke="#4a6cf5" stroke-width="2.2" opacity=".2"/><path d="M819.5 331.5Q847.2 330.7 875 323.5" fill="none" stroke="#0f2590" stroke-width="1.4" opacity=".38"/><path d="M819.5 328.1Q847.2 327.1 875 320.1" fill="none" stroke="#4a6cf5" stroke-width="2.2" opacity=".2"/><path d="M819.5 338.5Q847.2 337.7 875 330.5" fill="none" stroke="#0f2590" stroke-width="1.4" opacity=".38"/><path d="M819.5 335.1Q847.2 334.1 875 327.1" fill="none" stroke="#4a6cf5" stroke-width="2.2" opacity=".2"/><path d="M819.5 347.3Q847.2 346.5 875 339.3" fill="none" stroke="#0f2590" stroke-width="1.4" opacity=".38"/><path d="M819.5 343.9Q847.2 342.9 875 335.9" fill="none" stroke="#4a6cf5" stroke-width="2.2" opacity=".2"/><path d="M819.5 356Q847.2 355.3 875 348" fill="none" stroke="#0f2590" stroke-width="1.4" opacity=".38"/><path d="M819.5 352.6Q847.2 351.7 875 344.6" fill="none" stroke="#4a6cf5" stroke-width="2.2" opacity=".2"/><path d="M819.5 364Q847.2 363.3 875 356" fill="none" stroke="#0f2590" stroke-width="1.4" opacity=".38"/><path d="M819.5 360.6Q847.2 359.7 875 352.6" fill="none" stroke="#4a6cf5" stroke-width="2.2" opacity=".2"/><path d="M819.5 372.5Q847.2 371.8 875 364.5" fill="none" stroke="#0f2590" stroke-width="1.4" opacity=".38"/><path d="M819.5 369.1Q847.2 368.2 875 361.1" fill="none" stroke="#4a6cf5" stroke-width="2.2" opacity=".2"/><path d="M819.5 379.3Q847.2 378.6 875 371.3" fill="none" stroke="#0f2590" stroke-width="1.4" opacity=".38"/><path d="M819.5 375.9Q847.2 375 875 367.9" fill="none" stroke="#4a6cf5" stroke-width="2.2" opacity=".2"/><path d="M819.5 388Q847.2 387.2 875 380" fill="none" stroke="#0f2590" stroke-width="1.4" opacity=".38"/><path d="M819.5 384.6Q847.2 383.6 875 376.6" fill="none" stroke="#4a6cf5" stroke-width="2.2" opacity=".2"/><path d="M819.5 397.2Q847.2 396.4 875 389.2" fill="none" stroke="#0f2590" stroke-width="1.4" opacity=".38"/><path d="M819.5 393.8Q847.2 392.8 875 385.8" fill="none" stroke="#4a6cf5" stroke-width="2.2" opacity=".2"/><path d="M819.5 404.7Q847.2 404 875 396.7" fill="none" stroke="#0f2590" stroke-width="1.4" opacity=".38"/><path d="M819.5 401.3Q847.2 400.4 875 393.3" fill="none" stroke="#4a6cf5" stroke-width="2.2" opacity=".2"/><rect x="817.5" y="173.5" width="59.5" height="228" fill="url(#wrapsh)"/></g><rect x="702" y="467" width="328.6" height="36.5" rx="2.5" fill="url(#dowH)"/><path d="M833.5 466Q849.5 471.5 866 466" fill="none" stroke="#d9a66c" stroke-width="1.2" opacity=".7"/><path d="M703 480H1029M703 492H1029" stroke="#efc48e" stroke-width="1" opacity=".5"/><rect x="1093.2" y="132.5" width="6.2" height="22" rx="1.5" fill="url(#bolt)"/><path d="M1071 143L1079 140.5L1088.5 154L1080 156.5Z" fill="#7f9ab6"/><path d="M1106 154L1112.5 144.5L1119.5 148L1113.5 158Z" fill="#7f9ab6"/><path d="M1073 144.5L1078 143L1081 147L1076 149Z" fill="#c9d6e2"/><ellipse cx="1096.5" cy="166" rx="36.5" ry="10" fill="url(#wash)" /><ellipse cx="1096.5" cy="164.3" rx="33" ry="7.6" fill="#ececea" /><path d="M1078.5 168Q1078.5 163.5 1096 163.5Q1113.5 163.5 1113.5 168L1114 407.8L1078.5 407.8Z" fill="url(#dowV)"/><g stroke="#e2b27e" stroke-width=".9" opacity=".5" fill="none"><path d="M1087 370V407M1096 370V407M1105 370V407M1087 166V208M1096 166V208M1105 166V208"/></g><clipPath id="wc14"><path d="M1078.5 210C1076.2 210.4 1074.9 213.4 1073.9 215.5C1072.7 218 1072.3 220.8 1072.1 223.6C1072 226.2 1073 228.9 1073 231.6C1073 234.2 1072.3 236.9 1072.2 239.6C1072.2 242.2 1072.5 245 1072.4 247.6C1072.4 250.3 1071.8 253 1072 255.7C1072.1 258.3 1073.3 261 1073.4 263.7C1073.4 266.3 1072.3 269 1072.3 271.7C1072.2 274.4 1072.9 277.1 1073 279.7C1073.1 282.4 1073 285.1 1072.8 287.8C1072.7 290.4 1072.3 293.1 1072.2 295.8C1072.1 298.4 1072.1 301.2 1072.1 303.8C1072.1 306.4 1071.8 309.2 1072.1 311.8C1072.3 314.5 1073.4 317.2 1073.7 319.9C1074 322.5 1073.9 325.2 1073.8 327.9C1073.7 330.5 1073.2 333.2 1073.1 335.9C1073 338.5 1073.3 341.3 1073.3 343.9C1073.3 346.6 1073.1 349.3 1073.1 352C1073.1 354.6 1072.4 357.6 1073.5 360C1074.9 363.2 1077 367.5 1080.4 368C1092.5 369.8 1105.3 368.8 1117.3 366.5C1119.9 366 1121 362.4 1122.2 360C1123.3 357.5 1124 354.7 1124.2 352C1124.4 349.3 1123.2 346.6 1123.2 343.9C1123.3 341.2 1124.5 338.6 1124.6 335.9C1124.7 333.2 1123.9 330.5 1123.8 327.9C1123.6 325.2 1123.8 322.5 1123.7 319.9C1123.6 317.2 1123.3 314.5 1123.3 311.8C1123.3 309.2 1123.4 306.4 1123.5 303.8C1123.6 301.1 1124 298.4 1124 295.8C1124.1 293.1 1124.2 290.4 1124 287.8C1123.9 285.1 1123.1 282.4 1123.1 279.7C1123.1 277 1124.2 274.4 1124.2 271.7C1124.3 269 1123.6 266.3 1123.4 263.7C1123.2 261 1123 258.3 1123.2 255.7C1123.3 253 1124 250.3 1124.1 247.6C1124.3 245 1124 242.2 1123.9 239.6C1123.9 237 1124 234.2 1123.9 231.6C1123.7 228.9 1123.2 226.2 1123.1 223.6C1123 220.9 1124.2 218 1123.2 215.5C1122.1 212.4 1120.4 207.9 1117.1 207.5C1104.5 205.9 1091.1 207.7 1078.5 210Z"/></clipPath><path d="M1078.5 210C1076.2 210.4 1074.9 213.4 1073.9 215.5C1072.7 218 1072.3 220.8 1072.1 223.6C1072 226.2 1073 228.9 1073 231.6C1073 234.2 1072.3 236.9 1072.2 239.6C1072.2 242.2 1072.5 245 1072.4 247.6C1072.4 250.3 1071.8 253 1072 255.7C1072.1 258.3 1073.3 261 1073.4 263.7C1073.4 266.3 1072.3 269 1072.3 271.7C1072.2 274.4 1072.9 277.1 1073 279.7C1073.1 282.4 1073 285.1 1072.8 287.8C1072.7 290.4 1072.3 293.1 1072.2 295.8C1072.1 298.4 1072.1 301.2 1072.1 303.8C1072.1 306.4 1071.8 309.2 1072.1 311.8C1072.3 314.5 1073.4 317.2 1073.7 319.9C1074 322.5 1073.9 325.2 1073.8 327.9C1073.7 330.5 1073.2 333.2 1073.1 335.9C1073 338.5 1073.3 341.3 1073.3 343.9C1073.3 346.6 1073.1 349.3 1073.1 352C1073.1 354.6 1072.4 357.6 1073.5 360C1074.9 363.2 1077 367.5 1080.4 368C1092.5 369.8 1105.3 368.8 1117.3 366.5C1119.9 366 1121 362.4 1122.2 360C1123.3 357.5 1124 354.7 1124.2 352C1124.4 349.3 1123.2 346.6 1123.2 343.9C1123.3 341.2 1124.5 338.6 1124.6 335.9C1124.7 333.2 1123.9 330.5 1123.8 327.9C1123.6 325.2 1123.8 322.5 1123.7 319.9C1123.6 317.2 1123.3 314.5 1123.3 311.8C1123.3 309.2 1123.4 306.4 1123.5 303.8C1123.6 301.1 1124 298.4 1124 295.8C1124.1 293.1 1124.2 290.4 1124 287.8C1123.9 285.1 1123.1 282.4 1123.1 279.7C1123.1 277 1124.2 274.4 1124.2 271.7C1124.3 269 1123.6 266.3 1123.4 263.7C1123.2 261 1123 258.3 1123.2 255.7C1123.3 253 1124 250.3 1124.1 247.6C1124.3 245 1124 242.2 1123.9 239.6C1123.9 237 1124 234.2 1123.9 231.6C1123.7 228.9 1123.2 226.2 1123.1 223.6C1123 220.9 1124.2 218 1123.2 215.5C1122.1 212.4 1120.4 207.9 1117.1 207.5C1104.5 205.9 1091.1 207.7 1078.5 210Z" fill="#ec1613"/><g clip-path="url(#wc14)"><path d="M1070.5 205.9Q1098 205.1 1125.5 197.9" fill="none" stroke="#a30d10" stroke-width="1.4" opacity=".38"/><path d="M1070.5 202.5Q1098 201.5 1125.5 194.5" fill="none" stroke="#ff5a4a" stroke-width="2.2" opacity=".2"/><path d="M1070.5 214.4Q1098 213.7 1125.5 206.4" fill="none" stroke="#a30d10" stroke-width="1.4" opacity=".38"/><path d="M1070.5 211Q1098 210.1 1125.5 203" fill="none" stroke="#ff5a4a" stroke-width="2.2" opacity=".2"/><path d="M1070.5 222Q1098 221.2 1125.5 214" fill="none" stroke="#a30d10" stroke-width="1.4" opacity=".38"/><path d="M1070.5 218.6Q1098 217.6 1125.5 210.6" fill="none" stroke="#ff5a4a" stroke-width="2.2" opacity=".2"/><path d="M1070.5 231.2Q1098 230.4 1125.5 223.2" fill="none" stroke="#a30d10" stroke-width="1.4" opacity=".38"/><path d="M1070.5 227.8Q1098 226.8 1125.5 219.8" fill="none" stroke="#ff5a4a" stroke-width="2.2" opacity=".2"/><path d="M1070.6 238.6Q1098.1 237.8 1125.6 230.6" fill="none" stroke="#a30d10" stroke-width="1.4" opacity=".38"/><path d="M1070.6 235.2Q1098.1 234.2 1125.6 227.2" fill="none" stroke="#ff5a4a" stroke-width="2.2" opacity=".2"/><path d="M1070.6 245.8Q1098.1 245.1 1125.6 237.8" fill="none" stroke="#a30d10" stroke-width="1.4" opacity=".38"/><path d="M1070.6 242.4Q1098.1 241.5 1125.6 234.4" fill="none" stroke="#ff5a4a" stroke-width="2.2" opacity=".2"/><path d="M1070.6 255.3Q1098.1 254.5 1125.6 247.3" fill="none" stroke="#a30d10" stroke-width="1.4" opacity=".38"/><path d="M1070.6 251.9Q1098.1 250.9 1125.6 243.9" fill="none" stroke="#ff5a4a" stroke-width="2.2" opacity=".2"/><path d="M1070.7 261.8Q1098.2 261.1 1125.7 253.8" fill="none" stroke="#a30d10" stroke-width="1.4" opacity=".38"/><path d="M1070.7 258.4Q1098.2 257.5 1125.7 250.4" fill="none" stroke="#ff5a4a" stroke-width="2.2" opacity=".2"/><path d="M1070.7 270.2Q1098.2 269.5 1125.7 262.2" fill="none" stroke="#a30d10" stroke-width="1.4" opacity=".38"/><path d="M1070.7 266.8Q1098.2 265.9 1125.7 258.8" fill="none" stroke="#ff5a4a" stroke-width="2.2" opacity=".2"/><path d="M1070.7 277.8Q1098.2 277 1125.7 269.8" fill="none" stroke="#a30d10" stroke-width="1.4" opacity=".38"/><path d="M1070.7 274.4Q1098.2 273.4 1125.7 266.4" fill="none" stroke="#ff5a4a" stroke-width="2.2" opacity=".2"/><path d="M1070.7 287.2Q1098.2 286.5 1125.7 279.2" fill="none" stroke="#a30d10" stroke-width="1.4" opacity=".38"/><path d="M1070.7 283.8Q1098.2 282.9 1125.7 275.8" fill="none" stroke="#ff5a4a" stroke-width="2.2" opacity=".2"/><path d="M1070.8 294Q1098.2 293.2 1125.8 286" fill="none" stroke="#a30d10" stroke-width="1.4" opacity=".38"/><path d="M1070.8 290.6Q1098.2 289.6 1125.8 282.6" fill="none" stroke="#ff5a4a" stroke-width="2.2" opacity=".2"/><path d="M1070.8 302.8Q1098.3 302.1 1125.8 294.8" fill="none" stroke="#a30d10" stroke-width="1.4" opacity=".38"/><path d="M1070.8 299.4Q1098.3 298.5 1125.8 291.4" fill="none" stroke="#ff5a4a" stroke-width="2.2" opacity=".2"/><path d="M1070.8 310Q1098.3 309.2 1125.8 302" fill="none" stroke="#a30d10" stroke-width="1.4" opacity=".38"/><path d="M1070.8 306.6Q1098.3 305.6 1125.8 298.6" fill="none" stroke="#ff5a4a" stroke-width="2.2" opacity=".2"/><path d="M1070.8 318.8Q1098.3 318 1125.8 310.8" fill="none" stroke="#a30d10" stroke-width="1.4" opacity=".38"/><path d="M1070.8 315.4Q1098.3 314.4 1125.8 307.4" fill="none" stroke="#ff5a4a" stroke-width="2.2" opacity=".2"/><path d="M1070.8 327.2Q1098.3 326.5 1125.8 319.2" fill="none" stroke="#a30d10" stroke-width="1.4" opacity=".38"/><path d="M1070.8 323.8Q1098.3 322.9 1125.8 315.8" fill="none" stroke="#ff5a4a" stroke-width="2.2" opacity=".2"/><path d="M1070.9 335Q1098.4 334.2 1125.9 327" fill="none" stroke="#a30d10" stroke-width="1.4" opacity=".38"/><path d="M1070.9 331.6Q1098.4 330.6 1125.9 323.6" fill="none" stroke="#ff5a4a" stroke-width="2.2" opacity=".2"/><path d="M1070.9 342.8Q1098.4 342.1 1125.9 334.8" fill="none" stroke="#a30d10" stroke-width="1.4" opacity=".38"/><path d="M1070.9 339.4Q1098.4 338.5 1125.9 331.4" fill="none" stroke="#ff5a4a" stroke-width="2.2" opacity=".2"/><path d="M1070.9 350.9Q1098.4 350.2 1125.9 342.9" fill="none" stroke="#a30d10" stroke-width="1.4" opacity=".38"/><path d="M1070.9 347.5Q1098.4 346.6 1125.9 339.5" fill="none" stroke="#ff5a4a" stroke-width="2.2" opacity=".2"/><path d="M1071 358.8Q1098.5 358.1 1126 350.8" fill="none" stroke="#a30d10" stroke-width="1.4" opacity=".38"/><path d="M1071 355.4Q1098.5 354.5 1126 347.4" fill="none" stroke="#ff5a4a" stroke-width="2.2" opacity=".2"/><path d="M1071 367.2Q1098.5 366.4 1126 359.2" fill="none" stroke="#a30d10" stroke-width="1.4" opacity=".38"/><path d="M1071 363.8Q1098.5 362.8 1126 355.8" fill="none" stroke="#ff5a4a" stroke-width="2.2" opacity=".2"/><path d="M1071 374.2Q1098.5 373.5 1126 366.2" fill="none" stroke="#a30d10" stroke-width="1.4" opacity=".38"/><path d="M1071 370.8Q1098.5 369.9 1126 362.8" fill="none" stroke="#ff5a4a" stroke-width="2.2" opacity=".2"/><rect x="1068.5" y="203.5" width="59.5" height="168.5" fill="url(#wrapsh)"/></g>
<g id="toy2"><linearGradient id="dow2" x1="0" x2="0" y1="0" y2="1"><stop offset="0" stop-color="#fbf3e2"/><stop offset=".35" stop-color="#f8ebd0"/><stop offset=".75" stop-color="#f1dfbe"/><stop offset="1" stop-color="#e4cda6"/></linearGradient><linearGradient id="dow3" x1="0" x2="0" y1="0" y2="1"><stop offset="0" stop-color="#f7f5ee"/><stop offset=".5" stop-color="#f1efe6"/><stop offset="1" stop-color="#d9d5c8"/></linearGradient><linearGradient id="bolt2" x1="0" x2="0" y1="0" y2="1"><stop offset="0" stop-color="#e0c050"/><stop offset=".5" stop-color="#c9a227"/><stop offset="1" stop-color="#8f6f1c"/></linearGradient><g fill="none" stroke-linecap="round"><path d="M838.8 713.4L822 678.6" stroke="#e8f1fa" stroke-width="3.2"/><path d="M839.7 713.3L827.2 678.6" stroke="#d3e4f5" stroke-width="2.6"/><path d="M840.6 713.2L828.6 679.1" stroke="#f7fbff" stroke-width="3"/><path d="M841.6 713.1L833.3 679.5" stroke="#c6daee" stroke-width="3.4"/><path d="M842.5 713L839.5 677.1" stroke="#e8f1fa" stroke-width="3.8"/><path d="M843.5 713L840.5 677.4" stroke="#d3e4f5" stroke-width="4.2"/><path d="M844.4 712.9L845.7 677.5" stroke="#f7fbff" stroke-width="3.8"/><path d="M845.4 712.8L847.7 677.2" stroke="#c6daee" stroke-width="3.7"/><path d="M846.3 712.7L852.4 674" stroke="#e8f1fa" stroke-width="4.2"/><path d="M847.2 712.6L856.8 676.5" stroke="#d3e4f5" stroke-width="4.3"/></g><rect x="1223" y="723" width="22" height="7" rx="2" fill="url(#bolt2)"/><path d="M1221 706L1232 704L1236 716L1224 719Z" fill="#6d8fae"/><path d="M1221 739L1233 741L1231 751L1221 750Z" fill="#6d8fae"/><path d="M799 709.5Q794 730 799 751.5L1211 751.5L1211 709.5Z" fill="url(#dow2)"/><path d="M800 738H1210" stroke="#e9d6b4" stroke-width="1" opacity=".6"/><ellipse cx="1209.5" cy="728" rx="9" ry="37.5" fill="#f3ead6" stroke="#e2d5ba" stroke-width="1.2"/><ellipse cx="1211" cy="728" rx="5.5" ry="33" fill="#f9f2e4" /><ellipse cx="845" cy="712" rx="8" ry="4" fill="#c9d3dc" /><g fill="none" stroke-linecap="round"><path d="M1096.1 709.9L1142.9 674.6" stroke="#e8f1fa" stroke-width="4.1"/><path d="M1096.5 710.7L1145.7 677.9" stroke="#d3e4f5" stroke-width="4.3"/><path d="M1096.9 711.5L1143.6 680.1" stroke="#f7fbff" stroke-width="4.4"/><path d="M1097.2 712.4L1147.6 685.1" stroke="#c6daee" stroke-width="2.7"/><path d="M1097.6 713.2L1148.4 685.7" stroke="#e8f1fa" stroke-width="3.6"/><path d="M1098 714L1150.3 688.1" stroke="#d3e4f5" stroke-width="2.9"/><path d="M1098.4 714.8L1150.6 694.9" stroke="#f7fbff" stroke-width="4"/><path d="M1098.8 715.6L1151.7 697.7" stroke="#c6daee" stroke-width="2.8"/><path d="M1099.1 716.5L1155 698.3" stroke="#e8f1fa" stroke-width="2.5"/><path d="M1099.5 717.3L1157.5 701.9" stroke="#d3e4f5" stroke-width="2.9"/><path d="M1099.9 718.1L1159.5 707.8" stroke="#f7fbff" stroke-width="3.1"/></g><path d="M1092 708L1110 703L1150 712L1146 718L1108 716L1096 720Z" fill="#eaf2fa"/><ellipse cx="1098" cy="713" rx="9" ry="6" fill="#dbe8f4" transform="rotate(-15 1098 713)" /><path d="M849 1163Q843 1182 849 1201L1110 1198L1110 1156L900 1158Z" fill="url(#dow3)"/><path d="M850 1172L890 1170L892 1200" fill="none" stroke="#dcd8cc" stroke-width="1" opacity=".8"/><g stroke="#e9f3e0" stroke-width="2.2" fill="none" stroke-linecap="round"><path d="M862 1202V1212M868 1201L870 1214M1082 1200L1080 1212M1090 1200L1092 1211"/></g><radialGradient id="bg9" cx=".42" cy=".38" r=".7"><stop offset="0" stop-color="#a8f05a"/><stop offset=".55" stop-color="#6fcf22"/><stop offset="1" stop-color="#3f9a10"/></radialGradient><ellipse cx="861.7" cy="1229" rx="27" ry="24" fill="url(#bg9)"/><path d="M837.4 1237.4Q861.7 1242.2 887.4 1229" fill="none" stroke="#3f9a10" stroke-width="1.5" opacity=".7"/><ellipse cx="849.6" cy="1224.2" rx="2.7" ry="7.2" fill="#e9ffd0" transform="rotate(20 849.6 1224.2)" opacity=".8"/><ellipse cx="864.4" cy="1218.2" rx="2.2" ry="4.3" fill="#e9ffd0" transform="rotate(20 864.4 1218.2)" opacity=".7"/><radialGradient id="bg10" cx=".42" cy=".38" r=".7"><stop offset="0" stop-color="#a8f05a"/><stop offset=".55" stop-color="#6fcf22"/><stop offset="1" stop-color="#3f9a10"/></radialGradient><ellipse cx="1087" cy="1229" rx="26.5" ry="24" fill="url(#bg10)"/><path d="M1063.2 1237.4Q1087 1242.2 1112.2 1229" fill="none" stroke="#3f9a10" stroke-width="1.5" opacity=".7"/><ellipse cx="1075.1" cy="1224.2" rx="2.7" ry="7.2" fill="#e9ffd0" transform="rotate(20 1075.1 1224.2)" opacity=".8"/><ellipse cx="1089.7" cy="1218.2" rx="2.1" ry="4.3" fill="#e9ffd0" transform="rotate(20 1089.7 1218.2)" opacity=".7"/><g><path d="M827 889C827 889 817 906.1 813 915C808.1 926 801.7 937.1 800 949C798.3 960.5 799.4 973 803 984C806.2 993.7 814 1001.7 820 1010C824.9 1016.9 836 1030 836 1030" fill="none" stroke="#f9c118" stroke-width="11" stroke-linecap="round" stroke-linejoin="round"/><path d="M827 889C827 889 817 906.1 813 915C808.1 926 801.7 937.1 800 949C798.3 960.5 799.4 973 803 984C806.2 993.7 814 1001.7 820 1010C824.9 1016.9 836 1030 836 1030" fill="none" stroke="#d8940a" stroke-width="3.3" stroke-linecap="round" opacity=".3" transform="translate(1.2 1)"/><path d="M823.2 885.4L828.5 896.6M820.9 889.5L826.2 900.5M818.6 893.5L824 904.5M816.3 897.6L821.8 908.6M814.1 901.7L819.8 912.6M811.9 905.8L817.8 916.6M809.7 910.1L816 920.7M807.8 914.2L813.9 924.9M805.8 918.4L812 929.1M803.8 922.6L810.1 933.2M801.8 926.9L808.4 937.3M799.9 931.4L806.9 941.5M798.1 936L805.7 945.6M796.5 940.7L804.9 949.8M795.4 945.6L804.4 953.9M794.6 950.5L804.2 958.2M794.2 955.4L804.2 962.6M794.1 960.3L804.5 966.9M794.3 965.2L805.1 971.2M794.7 970.1L805.8 975.4M795.5 975L806.9 979.6M796.5 979.8L808.1 983.7M797.8 984.8L809.8 987.5M799.6 989.6L811.9 990.9M802 994.1L814.3 994.4M804.7 998.2L817 997.8M807.5 1002L819.7 1001.3M810.3 1005.6L822.6 1005M813.1 1009.1L825.4 1008.8M815.8 1013L828.1 1012.4M818.7 1016.7L830.9 1015.9M821.5 1020.3L833.8 1019.5M824.5 1024L836.7 1023M827.4 1027.6L839.7 1026.5" fill="none" stroke="#d8940a" stroke-width="1.3" opacity=".55" stroke-linecap="round"/><path d="M822.9 889.5L826.5 896.5M820.6 893.6L824.3 900.5M818.3 897.6L822 904.5M816.1 901.7L819.9 908.5M813.9 905.8L817.8 912.6M811.8 909.9L815.8 916.7M809.7 914.2L814 920.8M807.8 918.4L812 925M805.8 922.5L810 929.1M803.9 926.7L808.1 933.3M802 931L806.4 937.5M800.2 935.5L804.9 941.7M798.7 940L803.8 946M797.4 944.7L803 950.3M796.6 949.5L802.6 954.6M796.1 954.3L802.4 959M795.9 959.1L802.5 963.4M796 963.9L802.8 967.8M796.4 968.7L803.4 972.2M797.1 973.5L804.2 976.6M798 978.2L805.3 980.9M799.2 982.9L806.7 985.1M800.8 987.5L808.5 989M803 992L810.8 992.6M805.5 996.2L813.3 996.1M808.3 1000.1L816.1 999.6M811.1 1003.8L818.9 1003.1M814 1007.5L821.8 1006.7M816.7 1011.1L824.5 1010.6M819.5 1014.8L827.3 1014.2M822.3 1018.5L830.1 1017.7M825.2 1022.1L833 1021.3M828.2 1025.7L835.9 1024.8M831.1 1029.3L838.9 1028.3" fill="none" stroke="#ffe160" stroke-width="1.4" opacity=".45" stroke-linecap="round"/></g><path d="M846 1152C852.4 1149.7 858.2 1160 865 1160C871.2 1160 876.2 1149.7 882 1152C886.3 1153.7 883.4 1162.8 880 1166C875.5 1170.2 868.2 1171 862 1171C857.1 1171 851.2 1169.8 848 1166C845 1162.4 841.6 1153.6 846 1152Z" fill="#1c3fd6"/><g><path d="M794.2 1122.7L786.8 1142.8L790.9 1134.8L790.6 1146.3L794.2 1139L795.1 1144.9L798.5 1135.8L799.2 1146.2L801.7 1140.5L803.6 1146.1L805.6 1140.9L807.2 1150.7L806.2 1124.3Z" fill="#1c3fd6" stroke="#1c3fd6" stroke-width="1.6" stroke-linejoin="round"/><path d="M833 1053C833 1053 818.7 1063 814 1070C808.9 1077.6 806.3 1087.1 804 1096C801.6 1105.4 800 1125 800 1125" fill="none" stroke="#1c3fd6" stroke-width="12.2" stroke-linecap="round" stroke-linejoin="round"/><path d="M833 1053C833 1053 818.7 1063 814 1070C808.9 1077.6 806.3 1087.1 804 1096C801.6 1105.4 800 1125 800 1125" fill="none" stroke="#0f2590" stroke-width="3.7" stroke-linecap="round" opacity=".3" transform="translate(1.2 1)"/><path d="M833 1053C833 1053 818.7 1063 814 1070C808.9 1077.6 806.3 1087.1 804 1096C801.6 1105.4 800 1125 800 1125" fill="none" stroke="#4a6cf5" stroke-width="3.7" stroke-linecap="round" opacity=".3" transform="translate(-1 -1)"/></g><g filter="url(#tex2)"><path d="M828 1068C832.5 1061 841.8 1056.9 850 1056C860 1054.8 871 1057.3 880 1062C888.3 1066.3 896 1073.6 900 1082C904 1090.4 904.3 1100.8 903 1110C901.6 1120.4 898.7 1131.9 892 1140C886.9 1146.2 877.3 1153.1 870 1150C858.1 1145 853.2 1130 845 1120C838.3 1111.8 828.3 1105 825 1095C822.2 1086.5 823.2 1075.5 828 1068Z" fill="#de9f70"/></g><g transform="rotate(-35 838 1126)"><ellipse cx="838" cy="1126" rx="31" ry="37" fill="#d9975e" /><ellipse cx="864.6" cy="1127.1" rx="5" ry="3.3" fill="#ead0ac" transform="rotate(2 864.6 1127.1)"/><ellipse cx="864" cy="1133.3" rx="4.3" ry="3.4" fill="#ead0ac" transform="rotate(13.2 864 1133.3)"/><ellipse cx="860.7" cy="1142.6" rx="4.1" ry="3.3" fill="#f4e6d0" transform="rotate(31.5 860.7 1142.6)"/><ellipse cx="854.9" cy="1150.6" rx="4.6" ry="3.4" fill="#efdcc0" transform="rotate(50.7 854.9 1150.6)"/><ellipse cx="850" cy="1154.4" rx="4.7" ry="3.5" fill="#ead0ac" transform="rotate(63.3 850 1154.4)"/><ellipse cx="841.3" cy="1157.6" rx="4.8" ry="3.1" fill="#f0d8b8" transform="rotate(82.9 841.3 1157.6)"/><ellipse cx="834.7" cy="1157.6" rx="4.2" ry="3.5" fill="#ead0ac" transform="rotate(97.1 834.7 1157.6)"/><ellipse cx="827.1" cy="1155" rx="4.2" ry="3.2" fill="#ead0ac" transform="rotate(114.2 827.1 1155)"/><ellipse cx="821.5" cy="1151" rx="4.2" ry="3.6" fill="#ead0ac" transform="rotate(128.1 821.5 1151)"/><ellipse cx="815.6" cy="1143.2" rx="5" ry="3.2" fill="#efdcc0" transform="rotate(147.2 815.6 1143.2)"/><ellipse cx="812.3" cy="1134.5" rx="4.4" ry="3.3" fill="#ead0ac" transform="rotate(164.6 812.3 1134.5)"/><ellipse cx="811.3" cy="1125.7" rx="4.2" ry="3.5" fill="#f4e6d0" transform="rotate(180.6 811.3 1125.7)"/><ellipse cx="812.1" cy="1118.4" rx="4.8" ry="3.2" fill="#f4e6d0" transform="rotate(193.7 812.1 1118.4)"/><ellipse cx="815.4" cy="1109.2" rx="4.4" ry="3.4" fill="#efdcc0" transform="rotate(211.9 815.4 1109.2)"/><ellipse cx="819.8" cy="1102.7" rx="4.3" ry="3.4" fill="#ead0ac" transform="rotate(227 819.8 1102.7)"/><ellipse cx="826.6" cy="1097.3" rx="4.7" ry="3.2" fill="#f0d8b8" transform="rotate(244.6 826.6 1097.3)"/><ellipse cx="832.8" cy="1094.8" rx="4.6" ry="3.5" fill="#f0d8b8" transform="rotate(258.8 832.8 1094.8)"/><ellipse cx="840.5" cy="1094.3" rx="4.6" ry="3.5" fill="#efdcc0" transform="rotate(275.4 840.5 1094.3)"/><ellipse cx="850.2" cy="1097.7" rx="4.9" ry="3.6" fill="#f0d8b8" transform="rotate(297.2 850.2 1097.7)"/><ellipse cx="856.1" cy="1102.7" rx="4.5" ry="3.1" fill="#f0d8b8" transform="rotate(312.9 856.1 1102.7)"/><ellipse cx="860.4" cy="1108.7" rx="4.9" ry="3.3" fill="#efdcc0" transform="rotate(327.1 860.4 1108.7)"/><ellipse cx="863.3" cy="1115.9" rx="4.9" ry="3.3" fill="#f4e6d0" transform="rotate(341.5 863.3 1115.9)"/><ellipse cx="838" cy="1126" rx="24.2" ry="28.9" fill="#f1e4cf" /><radialGradient id="cc11" cx=".5" cy=".48" r=".6"><stop offset="0" stop-color="#dfe8f3"/><stop offset=".55" stop-color="#edf0f2"/><stop offset="1" stop-color="#f6f3ec"/></radialGradient><ellipse cx="838" cy="1126" rx="22.3" ry="26.6" fill="url(#cc11)" /></g><g><path d="M836 1046C836 1046 820.2 1040 812 1040C805.4 1040 798.2 1041.9 793 1046C789.7 1048.6 787.4 1054.1 789 1058C791 1063 797.9 1064.5 802 1068C806.5 1071.8 815 1080 815 1080" fill="none" stroke="#e21a1c" stroke-width="11" stroke-linecap="round" stroke-linejoin="round"/><path d="M836 1046C836 1046 820.2 1040 812 1040C805.4 1040 798.2 1041.9 793 1046C789.7 1048.6 787.4 1054.1 789 1058C791 1063 797.9 1064.5 802 1068C806.5 1071.8 815 1080 815 1080" fill="none" stroke="#a30d10" stroke-width="3.3" stroke-linecap="round" opacity=".3" transform="translate(1.2 1)"/><path d="M836 1046C836 1046 820.2 1040 812 1040C805.4 1040 798.2 1041.9 793 1046C789.7 1048.6 787.4 1054.1 789 1058C791 1063 797.9 1064.5 802 1068C806.5 1071.8 815 1080 815 1080" fill="none" stroke="#ff5a4a" stroke-width="3.3" stroke-linecap="round" opacity=".3" transform="translate(-1 -1)"/></g><radialGradient id="bg12" cx=".42" cy=".38" r=".7"><stop offset="0" stop-color="#ffffff"/><stop offset=".55" stop-color="#e9f0f7"/><stop offset="1" stop-color="#b9c9da"/></radialGradient><ellipse cx="852" cy="1013" rx="22" ry="15" fill="url(#bg12)"/><linearGradient id="cc13b" x1="0" x2="1" y1="0" y2="1"><stop offset="0" stop-color="#e6a468"/><stop offset=".6" stop-color="#e0a070"/><stop offset="1" stop-color="#a85c22"/></linearGradient><g filter="url(#tex2)"><ellipse cx="846" cy="962" rx="38.5" ry="32.5" fill="url(#cc13b)" transform="rotate(-8 846 962)"/></g><g transform="rotate(-8 845 967)"><ellipse cx="845" cy="967" rx="38.5" ry="32.5" fill="#d9975e" /><ellipse cx="876.9" cy="966.1" rx="6.6" ry="3.2" fill="#efdcc0" transform="rotate(-1.9 876.9 966.1)"/><ellipse cx="876.1" cy="973.3" rx="5.6" ry="3.7" fill="#f4e6d0" transform="rotate(13.5 876.1 973.3)"/><ellipse cx="872.1" cy="981.3" rx="5.3" ry="3.4" fill="#f0d8b8" transform="rotate(32 872.1 981.3)"/><ellipse cx="865.9" cy="987.4" rx="5.5" ry="3.6" fill="#efdcc0" transform="rotate(49.1 865.9 987.4)"/><ellipse cx="858.3" cy="991.5" rx="6.3" ry="3.5" fill="#f0d8b8" transform="rotate(65.4 858.3 991.5)"/><ellipse cx="849.6" cy="993.7" rx="6.5" ry="3.5" fill="#ead0ac" transform="rotate(81.6 849.6 993.7)"/><ellipse cx="842" cy="993.9" rx="6.4" ry="3.3" fill="#f0d8b8" transform="rotate(95.4 842 993.9)"/><ellipse cx="833.1" cy="992" rx="5.3" ry="3.2" fill="#efdcc0" transform="rotate(111.8 833.1 992)"/><ellipse cx="824.1" cy="987.4" rx="6.1" ry="3.6" fill="#f4e6d0" transform="rotate(130.9 824.1 987.4)"/><ellipse cx="817.9" cy="981.3" rx="6" ry="3.1" fill="#f4e6d0" transform="rotate(148 817.9 981.3)"/><ellipse cx="814.7" cy="975.7" rx="6.4" ry="3.3" fill="#f0d8b8" transform="rotate(161.2 814.7 975.7)"/><ellipse cx="813.1" cy="967.7" rx="5.7" ry="3.6" fill="#f4e6d0" transform="rotate(178.5 813.1 967.7)"/><ellipse cx="814" cy="960.5" rx="6.1" ry="3.4" fill="#ead0ac" transform="rotate(194 814 960.5)"/><ellipse cx="818.5" cy="951.9" rx="6.6" ry="3.6" fill="#f4e6d0" transform="rotate(214.1 818.5 951.9)"/><ellipse cx="823.5" cy="947" rx="5.7" ry="3.2" fill="#efdcc0" transform="rotate(227.8 823.5 947)"/><ellipse cx="832.8" cy="942.1" rx="6.4" ry="3.6" fill="#f4e6d0" transform="rotate(247.6 832.8 942.1)"/><ellipse cx="839.9" cy="940.4" rx="6.5" ry="3.3" fill="#f4e6d0" transform="rotate(260.7 839.9 940.4)"/><ellipse cx="848.7" cy="940.2" rx="5.8" ry="3.3" fill="#f0d8b8" transform="rotate(276.6 848.7 940.2)"/><ellipse cx="857.1" cy="942" rx="5.8" ry="3.2" fill="#efdcc0" transform="rotate(292.3 857.1 942)"/><ellipse cx="865" cy="946" rx="6.3" ry="3.3" fill="#efdcc0" transform="rotate(308.9 865 946)"/><ellipse cx="872.5" cy="953.2" rx="5.8" ry="3.6" fill="#f0d8b8" transform="rotate(329.3 872.5 953.2)"/><ellipse cx="876.1" cy="960.7" rx="5.4" ry="3.4" fill="#f0d8b8" transform="rotate(346.4 876.1 960.7)"/><ellipse cx="845" cy="967" rx="27.7" ry="23.4" fill="#f1e4cf" /><radialGradient id="cc13" cx=".5" cy=".48" r=".6"><stop offset="0" stop-color="#dfe8f3"/><stop offset=".55" stop-color="#edf0f2"/><stop offset="1" stop-color="#f6f3ec"/></radialGradient><ellipse cx="845" cy="967" rx="25.4" ry="21.4" fill="url(#cc13)" /></g><radialGradient id="bg14" cx=".42" cy=".38" r=".7"><stop offset="0" stop-color="#52c8f6"/><stop offset=".55" stop-color="#16a6e6"/><stop offset="1" stop-color="#0a78b8"/></radialGradient><ellipse cx="844.8" cy="866.7" rx="22.5" ry="21" fill="url(#bg14)"/><ellipse cx="836.9" cy="859.4" rx="2.7" ry="4.6" fill="#fff" opacity=".55" transform="rotate(-30 836.9 859.4)"/><g><path d="M757.2 972.6L741.3 988.2L748.8 983.2L745.8 992.5L754.5 984.1L751.5 994.4L757.6 989.7L756 998.8L764.2 988.9L762 1000.2L767.7 993.5L767.7 1002.2L772.2 980.8Z" fill="#1c3fd6" stroke="#1c3fd6" stroke-width="1.6" stroke-linejoin="round"/><path d="M843 905C843 905 823.4 907.5 815 912C806.1 916.7 798.6 924.4 792 932C785.3 939.7 780.3 949.2 775 958C771.1 964.4 764 978 764 978" fill="none" stroke="#1c3fd6" stroke-width="17.1" stroke-linecap="round" stroke-linejoin="round"/><path d="M843 905C843 905 823.4 907.5 815 912C806.1 916.7 798.6 924.4 792 932C785.3 939.7 780.3 949.2 775 958C771.1 964.4 764 978 764 978" fill="none" stroke="#0f2590" stroke-width="5.1" stroke-linecap="round" opacity=".3" transform="translate(1.2 1)"/><path d="M843 905C843 905 823.4 907.5 815 912C806.1 916.7 798.6 924.4 792 932C785.3 939.7 780.3 949.2 775 958C771.1 964.4 764 978 764 978" fill="none" stroke="#4a6cf5" stroke-width="5.1" stroke-linecap="round" opacity=".3" transform="translate(-1 -1)"/></g><g><path d="M772.6 995.4L758.1 1014.4L765.3 1007.9L762.8 1018.7L769.5 1011.6L768.3 1021.2L775.7 1010.7L773.7 1023.9L780.6 1013L780.9 1021.8L786.3 1013.2L785.9 1025.4L788.5 1001.8Z" fill="#e21a1c" stroke="#e21a1c" stroke-width="1.6" stroke-linejoin="round"/><path d="M852 912C852 912 833.7 922.9 826 930C817 938.2 809.2 948.2 802 958C795.9 966.4 790.8 975.8 786 985C783.5 989.7 780 1000 780 1000" fill="none" stroke="#e21a1c" stroke-width="17.1" stroke-linecap="round" stroke-linejoin="round"/><path d="M852 912C852 912 833.7 922.9 826 930C817 938.2 809.2 948.2 802 958C795.9 966.4 790.8 975.8 786 985C783.5 989.7 780 1000 780 1000" fill="none" stroke="#a30d10" stroke-width="5.1" stroke-linecap="round" opacity=".3" transform="translate(1.2 1)"/><path d="M852 912C852 912 833.7 922.9 826 930C817 938.2 809.2 948.2 802 958C795.9 966.4 790.8 975.8 786 985C783.5 989.7 780 1000 780 1000" fill="none" stroke="#ff5a4a" stroke-width="5.1" stroke-linecap="round" opacity=".3" transform="translate(-1 -1)"/></g><path d="M834.5 896C837.4 902.1 846.1 903.2 852.2 905.9C857.3 908.1 862.9 912.4 868.1 910.7C871.9 909.4 874 902.7 871.9 899.3C869.3 895.1 862.2 896.4 857.8 894.1C852.1 891.3 847.8 883.4 841.5 884C836.9 884.3 832.4 891.9 834.5 896Z" fill="#e21a1c"/><path d="M838 890C838 890 849.1 897.2 855 900C859.7 902.2 870 905 870 905" fill="none" stroke="#a30d10" stroke-width="2.6" opacity=".28"/><g><path d="M838 893C838 893 846.5 901.6 852 903C856.6 904.1 866 900 866 900" fill="none" stroke="#1c3fd6" stroke-width="11" stroke-linecap="round" stroke-linejoin="round"/><path d="M838 893C838 893 846.5 901.6 852 903C856.6 904.1 866 900 866 900" fill="none" stroke="#0f2590" stroke-width="3.3" stroke-linecap="round" opacity=".3" transform="translate(1.2 1)"/><path d="M838 893C838 893 846.5 901.6 852 903C856.6 904.1 866 900 866 900" fill="none" stroke="#4a6cf5" stroke-width="3.3" stroke-linecap="round" opacity=".3" transform="translate(-1 -1)"/></g><g filter="url(#tex)"><rect x="805.5" y="790" width="83.5" height="62" rx="9" fill="#b8341e"/></g><path d="M878 793Q889 795 889 810V840Q888 851 878 851Q884 822 878 793Z" fill="#d9a66c" opacity=".9"/><radialGradient id="bg15" cx=".42" cy=".38" r=".7"><stop offset="0" stop-color="#fbb23c"/><stop offset=".55" stop-color="#f28d10"/><stop offset="1" stop-color="#c96406"/></radialGradient><ellipse cx="843.6" cy="769" rx="23.7" ry="21.6" fill="url(#bg15)"/><ellipse cx="835.3" cy="761.4" rx="2.8" ry="4.8" fill="#fff" opacity=".55" transform="rotate(-30 835.3 761.4)"/><g><path d="M877 1013C877 1013 890 1021.4 893 1028C896.3 1035.2 895.9 1044.1 895 1052C894.2 1058.9 888 1072 888 1072" fill="none" stroke="#1c3fd6" stroke-width="13.4" stroke-linecap="round" stroke-linejoin="round"/><path d="M877 1013C877 1013 890 1021.4 893 1028C896.3 1035.2 895.9 1044.1 895 1052C894.2 1058.9 888 1072 888 1072" fill="none" stroke="#0f2590" stroke-width="4" stroke-linecap="round" opacity=".3" transform="translate(1.2 1)"/><path d="M877 1013C877 1013 890 1021.4 893 1028C896.3 1035.2 895.9 1044.1 895 1052C894.2 1058.9 888 1072 888 1072" fill="none" stroke="#4a6cf5" stroke-width="4" stroke-linecap="round" opacity=".3" transform="translate(-1 -1)"/></g><g><path d="M866 1020C866 1020 873.8 1035.9 877 1044C880.4 1052.4 881.4 1062.2 886 1070C890.2 1077 898.8 1081 903 1088C907.6 1095.8 909.3 1105.3 912 1114C913.6 1119.2 916 1130 916 1130" fill="none" stroke="#f9c118" stroke-width="13.4" stroke-linecap="round" stroke-linejoin="round"/><path d="M866 1020C866 1020 873.8 1035.9 877 1044C880.4 1052.4 881.4 1062.2 886 1070C890.2 1077 898.8 1081 903 1088C907.6 1095.8 909.3 1105.3 912 1114C913.6 1119.2 916 1130 916 1130" fill="none" stroke="#d8940a" stroke-width="4" stroke-linecap="round" opacity=".3" transform="translate(1.2 1)"/><path d="M859.8 1021.3L874.7 1023.7M862.2 1026.4L877.1 1028.9M864.6 1031.4L879.4 1034M867 1036.4L881.8 1039.3M869.3 1041.4L883.9 1044.7M871.4 1046L885.7 1050.6M873 1051.2L887.2 1056.3M874.5 1056.8L888.7 1061.5M876.1 1062.6L890.7 1066.4M878.3 1068.9L893.3 1070.4M881.7 1075.3L896.6 1072.9M886 1079.8L900.6 1076.1M890.2 1083.3L904.9 1080M893.9 1086L908.9 1085.4M896.9 1089.5L911.8 1091.5M899.3 1093.8L913.9 1097.6M901.2 1098.7L915.5 1103.4M902.8 1104L917 1109M904.3 1109.5L918.5 1114.3M905.9 1114.8L920 1119.8M907.3 1120.1L921.3 1125.5M908.6 1125.5L922.6 1131.1" fill="none" stroke="#d8940a" stroke-width="1.3" opacity=".55" stroke-linecap="round"/><path d="M863.7 1024.5L873.2 1025.7M866.1 1029.6L875.6 1030.8M868.5 1034.6L878 1035.9M870.8 1039.7L880.2 1041.2M873 1044.8L882.4 1046.5M874.7 1049.7L883.9 1052.3M876.3 1055L885.4 1057.9M877.8 1060.6L887 1063.2M879.7 1066.2L889 1068.2M882.4 1071.8L891.9 1072.4M886.4 1077.1L895.8 1075.2M890.8 1081.1L900 1078.5M895 1084.8L904.2 1082.3M898.4 1088.3L907.9 1087.6M900.9 1092.6L910.4 1093.5M902.9 1097.3L912.2 1099.4M904.5 1102.4L913.7 1105.1M906 1107.8L915.2 1110.6M907.6 1113.3L916.7 1116M909.1 1118.6L918.2 1121.5M910.5 1124L919.5 1127.1M911.7 1129.4L920.7 1132.6" fill="none" stroke="#ffe160" stroke-width="1.4" opacity=".45" stroke-linecap="round"/></g><g><path d="M834 1030C834 1030 843 1036 848 1036C853 1036 862 1030 862 1030" fill="none" stroke="#f9c118" stroke-width="9.8" stroke-linecap="round" stroke-linejoin="round"/><path d="M834 1030C834 1030 843 1036 848 1036C853 1036 862 1030 862 1030" fill="none" stroke="#d8940a" stroke-width="2.9" stroke-linecap="round" opacity=".3" transform="translate(1.2 1)"/><path d="M830.7 1033.3L840.7 1028.9M834.5 1035.7L844.1 1030.5M838.6 1038L847.5 1031.6M843.4 1040L850.5 1031.8M849.1 1040.6L852.9 1030.3M853.8 1039.4L855.9 1028.6M857.9 1037.6L859.1 1026.7M861.8 1035.5L862.1 1024.5" fill="none" stroke="#d8940a" stroke-width="1.3" opacity=".55" stroke-linecap="round"/><path d="M834.4 1033.7L840.6 1030.6M838.2 1035.8L844.1 1032.2M842.2 1037.6L847.7 1033.4M846.8 1038.8L851.2 1033.4M851.9 1038.3L854.1 1031.7M856.2 1036.6L857.2 1029.7M860 1034.6L860.5 1027.7M863.7 1032.4L863.7 1025.4" fill="none" stroke="#ffe160" stroke-width="1.4" opacity=".45" stroke-linecap="round"/></g><g><path d="M832 1040C832 1040 842.4 1046 848 1046C854.3 1046 866 1040 866 1040" fill="none" stroke="#e21a1c" stroke-width="8.5" stroke-linecap="round" stroke-linejoin="round"/><path d="M832 1040C832 1040 842.4 1046 848 1046C854.3 1046 866 1040 866 1040" fill="none" stroke="#a30d10" stroke-width="2.6" stroke-linecap="round" opacity=".3" transform="translate(1.2 1)"/><path d="M832 1040C832 1040 842.4 1046 848 1046C854.3 1046 866 1040 866 1040" fill="none" stroke="#ff5a4a" stroke-width="2.6" stroke-linecap="round" opacity=".3" transform="translate(-1 -1)"/></g><g><path d="M836 1048C836 1048 845.1 1052.7 850 1053C855.4 1053.4 866 1050 866 1050" fill="none" stroke="#f9c118" stroke-width="7.3" stroke-linecap="round" stroke-linejoin="round"/><path d="M836 1048C836 1048 845.1 1052.7 850 1053C855.4 1053.4 866 1050 866 1050" fill="none" stroke="#d8940a" stroke-width="2.2" stroke-linecap="round" opacity=".3" transform="translate(1.2 1)"/><path d="M833.9 1050.8L841 1046.7M836.9 1052.2L843.8 1047.8M839.9 1053.5L846.7 1048.9M843.2 1054.9L849.4 1049.6M846.7 1055.9L852.3 1049.9M850.6 1056.5L854.7 1049.4M854.2 1056.3L857.5 1048.8M857.4 1055.7L860.5 1048.1M860.7 1055L863.5 1047.3M863.9 1054.2L866.4 1046.4" fill="none" stroke="#d8940a" stroke-width="1.3" opacity=".55" stroke-linecap="round"/><path d="M836.7 1050.8L841.1 1048M839.7 1052.1L844 1049.2M842.7 1053.3L846.9 1050.2M846 1054.4L849.8 1050.9M849.3 1055.1L852.8 1051.2M853.1 1055.1L855.5 1050.5M856.4 1054.6L858.4 1049.8M859.6 1054L861.4 1049.1M862.8 1053.2L864.4 1048.2M866 1052.3L867.4 1047.3" fill="none" stroke="#ffe160" stroke-width="1.4" opacity=".45" stroke-linecap="round"/></g><g><path d="M856 1024C856 1024 862.4 1031.5 864 1036C865.8 1041 866 1052 866 1052" fill="none" stroke="#1c3fd6" stroke-width="12.2" stroke-linecap="round" stroke-linejoin="round"/><path d="M856 1024C856 1024 862.4 1031.5 864 1036C865.8 1041 866 1052 866 1052" fill="none" stroke="#0f2590" stroke-width="3.7" stroke-linecap="round" opacity=".3" transform="translate(1.2 1)"/><path d="M856 1024C856 1024 862.4 1031.5 864 1036C865.8 1041 866 1052 866 1052" fill="none" stroke="#4a6cf5" stroke-width="3.7" stroke-linecap="round" opacity=".3" transform="translate(-1 -1)"/></g><path d="M872 1066C872 1066 881.5 1071.1 885 1075C891.8 1082.5 903 1100 903 1100C903 1100 895.8 1111.2 890 1112C882.5 1113.1 874.9 1108.3 868 1105C863.1 1102.6 855 1095 855 1095L872 1066Z" fill="#1c3fd6"/><path d="M860.1 1100.5L851 1116L856.7 1110.2L859 1115.3L863.9 1109.2L866.4 1111.8L871 1108.1L874.5 1111.4L877.9 1106L882.5 1110.6L885.1 1105.2L890 1107.1L891.8 1101.8L898.2 1107.3L899 1101.2L906.1 1105.9L905.9 1099L914.1 1105.2L899.3 1092.6Z" fill="#1c3fd6" stroke="#1c3fd6" stroke-width="1.6" stroke-linejoin="round"/><path d="M877.2 1113.8C874.5 1121.2 879.6 1129.7 880.8 1137.6C882 1144.5 878.3 1155.2 884.5 1158.4C891.5 1162.1 903.6 1158.5 907.5 1151.6C910.9 1145.6 901.7 1138.8 899.2 1132.4C896.2 1125.2 896.7 1115.3 890.8 1110.2C887.3 1107.2 878.8 1109.4 877.2 1113.8Z" fill="#e21a1c"/><path d="M884 1112C884 1112 887.9 1127.4 890 1135C891.9 1141.6 896 1155 896 1155" fill="none" stroke="#a30d10" stroke-width="3.1" opacity=".28"/><path d="M884 1153.3L879.4 1162.7L884.1 1159.7L887 1162.6L890.5 1158L894.2 1160.5L897 1156.4L900.9 1156.7L903.4 1154.3L908.3 1155.6L910 1153L915.7 1154.4L907.3 1147.8Z" fill="#e21a1c" stroke="#e21a1c" stroke-width="1.6" stroke-linejoin="round"/><g><path d="M903 1092C903 1092 910.4 1103.6 912 1110C913.4 1115.8 912 1128 912 1128" fill="none" stroke="#f9c118" stroke-width="17.1" stroke-linecap="round" stroke-linejoin="round"/><path d="M903 1092C903 1092 910.4 1103.6 912 1110C913.4 1115.8 912 1128 912 1128" fill="none" stroke="#d8940a" stroke-width="5.1" stroke-linecap="round" opacity=".3" transform="translate(1.2 1)"/><path d="M903 1092C903 1092 910.4 1103.6 912 1110C913.4 1115.8 912 1128 912 1128" fill="none" stroke="#ffe160" stroke-width="5.1" stroke-linecap="round" opacity=".3" transform="translate(-1 -1)"/></g><g><path d="M1027.7 1075.9L1022.6 1084.5L1025.7 1080.8L1026.5 1084.3L1029 1082.9L1030.2 1086L1032.5 1082.7L1034 1086.3L1036 1082.3L1037.8 1087.3L1039.4 1083.2L1041.6 1087.9L1038.6 1077.1Z" fill="#1f9e55" stroke="#1f9e55" stroke-width="1.6" stroke-linejoin="round"/><path d="M1066 935C1066 935 1049.8 954.4 1046 966C1040.6 982.5 1041 1000.8 1039 1018C1037.4 1031.8 1036.4 1046.1 1035 1060C1034.4 1065.9 1033 1078 1033 1078" fill="none" stroke="#1f9e55" stroke-width="11" stroke-linecap="round" stroke-linejoin="round"/><path d="M1066 935C1066 935 1049.8 954.4 1046 966C1040.6 982.5 1041 1000.8 1039 1018C1037.4 1031.8 1036.4 1046.1 1035 1060C1034.4 1065.9 1033 1078 1033 1078" fill="none" stroke="#0e6d37" stroke-width="3.3" stroke-linecap="round" opacity=".3" transform="translate(1.2 1)"/><path d="M1062.8 930.9L1066.3 942.7M1059.9 934.5L1063.5 946.3M1056.9 938.3L1060.9 949.9M1054.1 942.1L1058.4 953.6M1051.3 945.9L1055.9 957.4M1048.7 949.9L1053.6 961.2M1046.1 954L1051.6 965.1M1043.6 958.5L1050.2 968.9M1041.5 963.3L1049.2 972.8M1040.1 967.9L1048.3 977.1M1038.9 972.6L1047.5 981.4M1038 977.3L1046.9 985.8M1037.2 982.1L1046.4 990.2M1036.7 986.7L1046 994.7M1036.2 991.4L1045.7 999.2M1035.8 996L1045.3 1003.8M1035.4 1000.6L1045 1008.4M1035.1 1005.2L1044.6 1013M1034.8 1009.7L1044.1 1017.7M1034.4 1014.2L1043.6 1022.4M1033.8 1018.8L1043.1 1026.9M1033.3 1023.5L1042.7 1031.5M1032.8 1028.1L1042.2 1036M1032.4 1032.7L1041.8 1040.6M1032 1037.3L1041.4 1045.2M1031.6 1041.9L1041 1049.8M1031.2 1046.5L1040.6 1054.4M1030.8 1051L1040.2 1059M1030.4 1055.6L1039.7 1063.6M1029.9 1060.2L1039.2 1068.2M1029.4 1064.7L1038.7 1072.8M1028.9 1069.3L1038.2 1077.4M1028.4 1073.9L1037.6 1082" fill="none" stroke="#0e6d37" stroke-width="1.3" opacity=".55" stroke-linecap="round"/><path d="M1061.9 934.9L1064.3 942.3M1059 938.6L1061.6 945.9M1056.2 942.3L1058.9 949.6M1053.4 946.1L1056.4 953.3M1050.8 950L1054 957.1M1048.2 954L1051.7 961M1045.9 958.1L1049.6 965M1043.8 962.6L1048.2 969M1042.1 967.3L1047.3 973.2M1040.9 972L1046.4 977.6M1040 976.6L1045.6 982M1039.2 981.3L1045.1 986.4M1038.5 985.9L1044.6 990.9M1038 990.6L1044.2 995.4M1037.6 995.2L1043.8 1000M1037.3 999.9L1043.5 1004.6M1036.9 1004.5L1043.2 1009.2M1036.6 1009L1042.8 1013.8M1036.2 1013.6L1042.3 1018.4M1035.7 1018.1L1041.7 1023.1M1035.2 1022.7L1041.3 1027.6M1034.7 1027.3L1040.8 1032.2M1034.2 1031.9L1040.4 1036.8M1033.8 1036.5L1040 1041.3M1033.4 1041.1L1039.6 1045.9M1033 1045.7L1039.2 1050.5M1032.6 1050.3L1038.8 1055.1M1032.2 1054.9L1038.4 1059.7M1031.7 1059.5L1037.9 1064.3M1031.3 1064L1037.4 1068.9M1030.8 1068.6L1036.8 1073.5M1030.2 1073.2L1036.3 1078.1M1029.7 1077.8L1035.8 1082.7" fill="none" stroke="#55c982" stroke-width="1.4" opacity=".45" stroke-linecap="round"/></g><g><path d="M1138 899C1138 899 1148.9 908.6 1149 915C1149.2 926.7 1144.2 938.5 1139 949C1136.1 954.8 1125 963 1125 963" fill="none" stroke="#1c3fd6" stroke-width="12.2" stroke-linecap="round" stroke-linejoin="round"/><path d="M1138 899C1138 899 1148.9 908.6 1149 915C1149.2 926.7 1144.2 938.5 1139 949C1136.1 954.8 1125 963 1125 963" fill="none" stroke="#0f2590" stroke-width="3.7" stroke-linecap="round" opacity=".3" transform="translate(1.2 1)"/><path d="M1138 899C1138 899 1148.9 908.6 1149 915C1149.2 926.7 1144.2 938.5 1139 949C1136.1 954.8 1125 963 1125 963" fill="none" stroke="#4a6cf5" stroke-width="3.7" stroke-linecap="round" opacity=".3" transform="translate(-1 -1)"/></g><path d="M1069 1147C1075.1 1145.4 1079.7 1155.8 1086 1156C1092.5 1156.2 1097.7 1146.4 1104 1148C1107.9 1149 1104.9 1157.2 1102 1160C1098 1163.8 1091.5 1165 1086 1165C1080.8 1165 1074.6 1163.8 1071 1160C1068 1156.8 1064.8 1148.1 1069 1147Z" fill="#1c3fd6"/><g><path d="M1147 1080C1147 1080 1154.8 1089.8 1158 1095C1160.5 1099 1164 1108 1164 1108" fill="none" stroke="#f9c118" stroke-width="14.6" stroke-linecap="round" stroke-linejoin="round"/><path d="M1147 1080C1147 1080 1154.8 1089.8 1158 1095C1160.5 1099 1164 1108 1164 1108" fill="none" stroke="#d8940a" stroke-width="4.4" stroke-linecap="round" opacity=".3" transform="translate(1.2 1)"/><path d="M1140.7 1082.9L1157.1 1082M1144.4 1087.5L1160.8 1087.1M1148 1092.2L1164.4 1092.4M1151.3 1096.4L1167.5 1098.7M1153.9 1101.5L1170 1104.7" fill="none" stroke="#d8940a" stroke-width="1.3" opacity=".55" stroke-linecap="round"/><path d="M1145.6 1085.3L1156 1084.3M1149.3 1090.1L1159.7 1089.4M1152.7 1095L1163.2 1094.7M1155.6 1099.8L1166 1100.8M1158 1105.1L1168.3 1106.8" fill="none" stroke="#ffe160" stroke-width="1.4" opacity=".45" stroke-linecap="round"/></g><g><path d="M1104 1070C1104 1070 1122.7 1080.5 1130 1088C1137.2 1095.3 1141.5 1105.4 1147 1114C1150.7 1119.9 1154 1126.3 1158 1132C1160 1134.9 1165 1140 1165 1140" fill="none" stroke="#1c3fd6" stroke-width="18.3" stroke-linecap="round" stroke-linejoin="round"/><path d="M1104 1070C1104 1070 1122.7 1080.5 1130 1088C1137.2 1095.3 1141.5 1105.4 1147 1114C1150.7 1119.9 1154 1126.3 1158 1132C1160 1134.9 1165 1140 1165 1140" fill="none" stroke="#0f2590" stroke-width="5.5" stroke-linecap="round" opacity=".3" transform="translate(1.2 1)"/><path d="M1104 1070C1104 1070 1122.7 1080.5 1130 1088C1137.2 1095.3 1141.5 1105.4 1147 1114C1150.7 1119.9 1154 1126.3 1158 1132C1160 1134.9 1165 1140 1165 1140" fill="none" stroke="#4a6cf5" stroke-width="5.5" stroke-linecap="round" opacity=".3" transform="translate(-1 -1)"/></g><g filter="url(#tex2)"><path d="M1062 1100C1065.8 1093.9 1073 1089.3 1080 1088C1088.2 1086.5 1097.6 1088.1 1105 1092C1112.2 1095.8 1118.7 1102.5 1122 1110C1125.3 1117.6 1125.9 1126.9 1124 1135C1122.4 1141.7 1117.8 1148.4 1112 1152C1105.7 1155.9 1097.1 1158 1090 1156C1081.9 1153.7 1075.4 1146.5 1070 1140C1065.3 1134.3 1061.4 1127.2 1060 1120C1058.7 1113.5 1058.5 1105.6 1062 1100Z" fill="#e39a5e"/></g><g transform="rotate(-25 1100 1127)"><ellipse cx="1100" cy="1127" rx="23" ry="26" fill="#d9975e" /><ellipse cx="1119.5" cy="1126.9" rx="3.6" ry="2.3" fill="#efdcc0" transform="rotate(-0.3 1119.5 1126.9)"/><ellipse cx="1118.9" cy="1132.8" rx="3.7" ry="2.5" fill="#ead0ac" transform="rotate(15.3 1118.9 1132.8)"/><ellipse cx="1116.4" cy="1139.1" rx="3.8" ry="2.3" fill="#f0d8b8" transform="rotate(33.1 1116.4 1139.1)"/><ellipse cx="1113.4" cy="1143.1" rx="4.1" ry="2.6" fill="#f0d8b8" transform="rotate(46.8 1113.4 1143.1)"/><ellipse cx="1108.8" cy="1146.7" rx="3.5" ry="2.3" fill="#efdcc0" transform="rotate(63.1 1108.8 1146.7)"/><ellipse cx="1102.1" cy="1149" rx="3.6" ry="2.5" fill="#efdcc0" transform="rotate(83.7 1102.1 1149)"/><ellipse cx="1096.2" cy="1148.7" rx="3.5" ry="2.3" fill="#f0d8b8" transform="rotate(101.1 1096.2 1148.7)"/><ellipse cx="1091.1" cy="1146.7" rx="3.9" ry="2.6" fill="#f0d8b8" transform="rotate(117.2 1091.1 1146.7)"/><ellipse cx="1087.6" cy="1144.1" rx="4" ry="2.3" fill="#efdcc0" transform="rotate(129.4 1087.6 1144.1)"/><ellipse cx="1083.1" cy="1138.1" rx="3.3" ry="2.4" fill="#f0d8b8" transform="rotate(149.9 1083.1 1138.1)"/><ellipse cx="1081.5" cy="1134.1" rx="3.5" ry="2.5" fill="#efdcc0" transform="rotate(161.2 1081.5 1134.1)"/><ellipse cx="1080.5" cy="1125.8" rx="3.3" ry="2.6" fill="#f4e6d0" transform="rotate(183.2 1080.5 1125.8)"/><ellipse cx="1081.5" cy="1119.8" rx="3.5" ry="2.2" fill="#efdcc0" transform="rotate(199.1 1081.5 1119.8)"/><ellipse cx="1083.1" cy="1115.9" rx="4.1" ry="2.4" fill="#f0d8b8" transform="rotate(210.2 1083.1 1115.9)"/><ellipse cx="1087.3" cy="1110.2" rx="3.4" ry="2.3" fill="#f4e6d0" transform="rotate(229.3 1087.3 1110.2)"/><ellipse cx="1092.2" cy="1106.7" rx="3.4" ry="2.5" fill="#f4e6d0" transform="rotate(246.4 1092.2 1106.7)"/><ellipse cx="1098.2" cy="1105" rx="3.9" ry="2.3" fill="#ead0ac" transform="rotate(264.8 1098.2 1105)"/><ellipse cx="1102.9" cy="1105.1" rx="3.8" ry="2.3" fill="#ead0ac" transform="rotate(278.6 1102.9 1105.1)"/><ellipse cx="1108.6" cy="1107.2" rx="3.8" ry="2.2" fill="#f0d8b8" transform="rotate(296.2 1108.6 1107.2)"/><ellipse cx="1113.6" cy="1111.1" rx="3.5" ry="2.5" fill="#efdcc0" transform="rotate(314 1113.6 1111.1)"/><ellipse cx="1116.7" cy="1115.6" rx="4" ry="2.5" fill="#efdcc0" transform="rotate(328.9 1116.7 1115.6)"/><ellipse cx="1119" cy="1121.7" rx="3.4" ry="2.6" fill="#ead0ac" transform="rotate(346.2 1119 1121.7)"/><ellipse cx="1100" cy="1127" rx="17.5" ry="19.8" fill="#f1e4cf" /><radialGradient id="cc16" cx=".5" cy=".48" r=".6"><stop offset="0" stop-color="#dfe8f3"/><stop offset=".55" stop-color="#edf0f2"/><stop offset="1" stop-color="#f6f3ec"/></radialGradient><ellipse cx="1100" cy="1127" rx="16.1" ry="18.2" fill="url(#cc16)" /></g><g><path d="M1092 1087C1092 1087 1113 1090.8 1121 1097C1129.1 1103.3 1135 1113.2 1138 1123C1141.4 1134 1141.4 1146.5 1140 1158C1139 1165.8 1131 1180 1131 1180" fill="none" stroke="#f9c118" stroke-width="15.9" stroke-linecap="round" stroke-linejoin="round"/><path d="M1092 1087C1092 1087 1113 1090.8 1121 1097C1129.1 1103.3 1135 1113.2 1138 1123C1141.4 1134 1141.4 1146.5 1140 1158C1139 1165.8 1131 1180 1131 1180" fill="none" stroke="#d8940a" stroke-width="4.8" stroke-linecap="round" opacity=".3" transform="translate(1.2 1)"/><path d="M1088.8 1093.7L1101.7 1081.6M1095 1094.9L1108.5 1083.5M1101.1 1096.4L1115.2 1085.7M1106.9 1098.1L1121.9 1088.6M1111.9 1099.5L1128.6 1093.5M1116.5 1102.3L1134 1099.4M1120.6 1106.3L1138.4 1105.7M1124.3 1110.6L1141.9 1112.6M1127.3 1115.7L1144.7 1119.5M1129.8 1121L1146.7 1126.6M1131.7 1126.7L1147.9 1134M1132.9 1132.4L1148.3 1141.4M1133.6 1138.6L1148.2 1148.6M1133.7 1144.8L1147.7 1155.7M1133.5 1151L1146.8 1162.8M1133.5 1156.1L1143.8 1170.6M1131.6 1161.9L1140.8 1177.2M1129.1 1167.7L1137.6 1183.4" fill="none" stroke="#d8940a" stroke-width="1.3" opacity=".55" stroke-linecap="round"/><path d="M1094.6 1092.4L1102.5 1084.3M1100.8 1093.9L1109.1 1086.2M1106.9 1095.7L1115.7 1088.5M1112.8 1097.8L1122.1 1091.4M1117.7 1100.5L1128.2 1096.3M1122.1 1104.4L1133.1 1102.1M1125.9 1109L1137.2 1108.2M1129.1 1114.1L1140.3 1114.9M1131.7 1119.7L1142.8 1121.6M1133.8 1125.5L1144.6 1128.6M1135.1 1131.5L1145.6 1135.7M1135.9 1137.6L1145.8 1142.9M1136.1 1143.9L1145.7 1149.9M1135.9 1150.3L1145.1 1156.9M1135.4 1156.6L1144.1 1163.8M1134.1 1162L1141 1171M1131.8 1167.9L1138 1177.3M1129 1173.7L1134.7 1183.4" fill="none" stroke="#ffe160" stroke-width="1.4" opacity=".45" stroke-linecap="round"/></g><g><path d="M1024.2 1183.7L1016 1208.5L1020.9 1195.2L1020.6 1206.3L1024.5 1197L1024.3 1210.5L1027.9 1200.5L1028.4 1212.3L1032.3 1197.2L1033.1 1209.3L1036.1 1197.4L1037.6 1208.3L1036.3 1185.4Z" fill="#1c3fd6" stroke="#1c3fd6" stroke-width="1.6" stroke-linejoin="round"/><path d="M1057 1088C1057 1088 1044.1 1104.6 1040 1114C1036.4 1122.1 1035.2 1131.3 1034 1140C1032.9 1148.2 1033.7 1156.8 1033 1165C1032.4 1172 1030 1186 1030 1186" fill="none" stroke="#1c3fd6" stroke-width="12.2" stroke-linecap="round" stroke-linejoin="round"/><path d="M1057 1088C1057 1088 1044.1 1104.6 1040 1114C1036.4 1122.1 1035.2 1131.3 1034 1140C1032.9 1148.2 1033.7 1156.8 1033 1165C1032.4 1172 1030 1186 1030 1186" fill="none" stroke="#0f2590" stroke-width="3.7" stroke-linecap="round" opacity=".3" transform="translate(1.2 1)"/><path d="M1057 1088C1057 1088 1044.1 1104.6 1040 1114C1036.4 1122.1 1035.2 1131.3 1034 1140C1032.9 1148.2 1033.7 1156.8 1033 1165C1032.4 1172 1030 1186 1030 1186" fill="none" stroke="#4a6cf5" stroke-width="3.7" stroke-linecap="round" opacity=".3" transform="translate(-1 -1)"/></g><g><path d="M1054.3 1180.5L1058.6 1200.5L1059.8 1194.6L1063.8 1198.4L1063.5 1191L1070.5 1199L1068.8 1190.3L1074.6 1195L1072.3 1186.3L1077.9 1189.5L1076.5 1183.5L1084 1189.1L1068.2 1172.8Z" fill="#e21a1c" stroke="#e21a1c" stroke-width="1.6" stroke-linejoin="round"/><path d="M1073 1084C1073 1084 1056.8 1096.5 1052 1105C1046.9 1113.9 1044 1124.8 1044 1135C1044 1143.7 1048.7 1152 1052 1160C1054.6 1166.3 1062 1178 1062 1178" fill="none" stroke="#e21a1c" stroke-width="15.9" stroke-linecap="round" stroke-linejoin="round"/><path d="M1073 1084C1073 1084 1056.8 1096.5 1052 1105C1046.9 1113.9 1044 1124.8 1044 1135C1044 1143.7 1048.7 1152 1052 1160C1054.6 1166.3 1062 1178 1062 1178" fill="none" stroke="#a30d10" stroke-width="4.8" stroke-linecap="round" opacity=".3" transform="translate(1.2 1)"/><path d="M1073 1084C1073 1084 1056.8 1096.5 1052 1105C1046.9 1113.9 1044 1124.8 1044 1135C1044 1143.7 1048.7 1152 1052 1160C1054.6 1166.3 1062 1178 1062 1178" fill="none" stroke="#ff5a4a" stroke-width="4.8" stroke-linecap="round" opacity=".3" transform="translate(-1 -1)"/></g><ellipse cx="1058" cy="1072" rx="11" ry="15" fill="#d9853f" transform="rotate(15 1058 1072)" /><g filter="url(#tex2)"><path d="M1068 960C1070 954.8 1074.6 949.5 1080 948C1088 945.8 1097.4 946.8 1105 950C1113.9 953.7 1122 960.4 1128 968C1133.3 974.7 1136.5 983.6 1138 992C1139.2 998.5 1139.5 1006.4 1136 1012C1132.2 1018.1 1125 1022.6 1118 1024C1110.4 1025.5 1101.6 1024 1095 1020C1087.6 1015.5 1082.8 1007.2 1078 1000C1073.9 993.9 1069.8 987.2 1068 980C1066.4 973.6 1065.7 966.2 1068 960Z" fill="#d58a50"/></g><g transform="rotate(35 1108 996)"><ellipse cx="1108" cy="996" rx="30" ry="27" fill="#d9975e" /><ellipse cx="1133.8" cy="996.2" rx="4" ry="2.9" fill="#f4e6d0" transform="rotate(0.5 1133.8 996.2)"/><ellipse cx="1132.8" cy="1002.4" rx="4.1" ry="2.8" fill="#f4e6d0" transform="rotate(16.1 1132.8 1002.4)"/><ellipse cx="1130.4" cy="1007.4" rx="4.1" ry="2.7" fill="#ead0ac" transform="rotate(29.5 1130.4 1007.4)"/><ellipse cx="1125.9" cy="1012.7" rx="4.4" ry="3" fill="#f0d8b8" transform="rotate(46 1125.9 1012.7)"/><ellipse cx="1118.9" cy="1017" rx="4.4" ry="2.8" fill="#f4e6d0" transform="rotate(64.9 1118.9 1017)"/><ellipse cx="1111.1" cy="1019.1" rx="4.2" ry="2.7" fill="#f4e6d0" transform="rotate(83.1 1111.1 1019.1)"/><ellipse cx="1102.9" cy="1018.8" rx="4.2" ry="2.7" fill="#efdcc0" transform="rotate(101.4 1102.9 1018.8)"/><ellipse cx="1098" cy="1017.4" rx="3.8" ry="3.1" fill="#ead0ac" transform="rotate(112.7 1098 1017.4)"/><ellipse cx="1090.5" cy="1013" rx="3.8" ry="3" fill="#f0d8b8" transform="rotate(132.8 1090.5 1013)"/><ellipse cx="1086.4" cy="1008.7" rx="3.7" ry="2.9" fill="#f4e6d0" transform="rotate(146.8 1086.4 1008.7)"/><ellipse cx="1083" cy="1001.6" rx="4.5" ry="2.8" fill="#efdcc0" transform="rotate(166 1083 1001.6)"/><ellipse cx="1082.2" cy="996" rx="4.4" ry="3" fill="#efdcc0" transform="rotate(180 1082.2 996)"/><ellipse cx="1083" cy="990.4" rx="4.1" ry="2.8" fill="#f4e6d0" transform="rotate(194 1083 990.4)"/><ellipse cx="1085.7" cy="984.4" rx="4.3" ry="2.7" fill="#f4e6d0" transform="rotate(210.1 1085.7 984.4)"/><ellipse cx="1092.3" cy="977.6" rx="3.8" ry="2.8" fill="#f0d8b8" transform="rotate(232.4 1092.3 977.6)"/><ellipse cx="1097.1" cy="974.9" rx="4.2" ry="2.7" fill="#f4e6d0" transform="rotate(245.1 1097.1 974.9)"/><ellipse cx="1105.4" cy="972.9" rx="3.8" ry="2.8" fill="#f4e6d0" transform="rotate(264.3 1105.4 972.9)"/><ellipse cx="1112.5" cy="973.1" rx="4" ry="2.8" fill="#f0d8b8" transform="rotate(280.1 1112.5 973.1)"/><ellipse cx="1117.9" cy="974.6" rx="4.1" ry="2.7" fill="#ead0ac" transform="rotate(292.6 1117.9 974.6)"/><ellipse cx="1124.3" cy="978" rx="3.8" ry="2.9" fill="#f4e6d0" transform="rotate(309.1 1124.3 978)"/><ellipse cx="1129.5" cy="983.2" rx="4.4" ry="3" fill="#f4e6d0" transform="rotate(326.5 1129.5 983.2)"/><ellipse cx="1133" cy="990.1" rx="4.5" ry="2.8" fill="#f0d8b8" transform="rotate(345.3 1133 990.1)"/><ellipse cx="1108" cy="996" rx="23.4" ry="21.1" fill="#f1e4cf" /><radialGradient id="cc17" cx=".5" cy=".48" r=".6"><stop offset="0" stop-color="#dfe8f3"/><stop offset=".55" stop-color="#edf0f2"/><stop offset="1" stop-color="#f6f3ec"/></radialGradient><ellipse cx="1108" cy="996" rx="21.6" ry="19.4" fill="url(#cc17)" /></g><path d="M1083.4 903.4C1073 907.2 1064.4 916.2 1058.1 925.3C1052.3 933.7 1049.5 944.4 1048.1 954.6C1046.6 965.6 1048.4 977.1 1049.7 988.1C1050.8 997 1054 1005.8 1055.3 1014.7C1056.2 1020.4 1050.8 1031.1 1056.5 1032.3C1069.4 1035.2 1085.4 1032.1 1095.5 1023.7C1100.5 1019.5 1091.1 1011.3 1088.7 1005.3C1085.4 997.5 1081 989.9 1078.3 981.9C1075.4 973.4 1072.7 964.4 1071.9 955.4C1071.3 948.6 1070.9 940.9 1073.9 934.7C1078.1 926.1 1089.8 921.7 1092.6 912.6C1093.8 908.5 1087.4 901.9 1083.4 903.4Z" fill="#1c3fd6"/><path d="M1088 908C1088 908 1071.3 921.2 1066 930C1061.7 937.3 1060.3 946.5 1060 955C1059.6 965 1061.9 975.2 1064 985C1065.8 993.5 1069.7 1001.7 1072 1010C1073.6 1015.9 1076 1028 1076 1028" fill="none" stroke="#0f2590" stroke-width="2.9" opacity=".28"/><path d="M1057.2 1027.2L1053.4 1039.5L1058.1 1034.2L1060.9 1039.3L1064.3 1031.5L1067.5 1035.3L1070.6 1029.5L1074.5 1033.2L1077 1027.8L1081.7 1031.5L1083.7 1027.7L1089.5 1032.6L1090.2 1026.6L1096.1 1028.7L1096.4 1024.2L1103.5 1028.1L1094.1 1017.9Z" fill="#1c3fd6" stroke="#1c3fd6" stroke-width="1.6" stroke-linejoin="round"/><radialGradient id="bg18" cx=".42" cy=".38" r=".7"><stop offset="0" stop-color="#ffffff"/><stop offset=".55" stop-color="#e3edf7"/><stop offset="1" stop-color="#b4c6da"/></radialGradient><ellipse cx="1080" cy="1047" rx="12.5" ry="15" fill="url(#bg18)"/><g><path d="M1097 1044C1097 1044 1114.3 1039.8 1121 1044C1129.9 1049.5 1133.8 1060.9 1139 1070C1145.4 1081.1 1150.9 1093.2 1156 1105C1159.2 1112.4 1164 1128 1164 1128" fill="none" stroke="#f9c118" stroke-width="14.6" stroke-linecap="round" stroke-linejoin="round"/><path d="M1097 1044C1097 1044 1114.3 1039.8 1121 1044C1129.9 1049.5 1133.8 1060.9 1139 1070C1145.4 1081.1 1150.9 1093.2 1156 1105C1159.2 1112.4 1164 1128 1164 1128" fill="none" stroke="#d8940a" stroke-width="4.4" stroke-linecap="round" opacity=".3" transform="translate(1.2 1)"/><path d="M1096.6 1050.8L1103.4 1035.9M1102.2 1049.7L1110 1035.3M1107.6 1048.9L1116.9 1035.4M1111.8 1047.9L1124.8 1037.9M1115.7 1047.9L1131.6 1043.9M1119.6 1050.7L1136 1050M1123.1 1054.8L1139.4 1056.1M1126.1 1059.8L1142.3 1061.9M1128.9 1065.3L1145.1 1067.4M1131.8 1070.9L1148.1 1072.5M1134.8 1076.1L1151 1078.1M1137.6 1081.4L1153.8 1083.8M1140.3 1086.8L1156.5 1089.5M1142.9 1092.2L1159.1 1095.2M1145.5 1097.7L1161.6 1100.9M1147.9 1103.3L1164 1106.6M1150.3 1108.6L1166.1 1112.8M1152.4 1114.2L1168.1 1118.7M1154.3 1119.9L1170 1124.7" fill="none" stroke="#d8940a" stroke-width="1.3" opacity=".55" stroke-linecap="round"/><path d="M1101 1047.7L1105 1038M1106.9 1046.8L1111.4 1037.4M1112.5 1046.5L1118.1 1037.7M1117.2 1047.2L1125.3 1040.5M1120.9 1049.4L1130.9 1046.5M1124.5 1053.2L1134.9 1052.4M1127.6 1057.9L1138 1058.3M1130.4 1063.1L1140.8 1064.1M1133.2 1068.6L1143.6 1069.5M1136.3 1074.1L1146.7 1074.7M1139.1 1079.4L1149.5 1080.3M1141.9 1084.8L1152.3 1085.9M1144.5 1090.2L1154.9 1091.6M1147.1 1095.8L1157.4 1097.2M1149.6 1101.3L1159.9 1102.9M1152 1106.9L1162.3 1108.6M1154.2 1112.4L1164.4 1114.7M1156.2 1118.1L1166.3 1120.6M1158.1 1123.9L1168.2 1126.5" fill="none" stroke="#ffe160" stroke-width="1.4" opacity=".45" stroke-linecap="round"/></g><g><path d="M1075 1050C1075 1050 1083.6 1060.8 1088 1066C1091.9 1070.7 1100 1080 1100 1080" fill="none" stroke="#f9c118" stroke-width="12.2" stroke-linecap="round" stroke-linejoin="round"/><path d="M1075 1050C1075 1050 1083.6 1060.8 1088 1066C1091.9 1070.7 1100 1080 1100 1080" fill="none" stroke="#d8940a" stroke-width="3.7" stroke-linecap="round" opacity=".3" transform="translate(1.2 1)"/><path d="M1069.8 1052.5L1083.4 1051.5M1073 1056.5L1086.6 1055.5M1076.2 1060.5L1089.9 1059.5M1079.5 1064.5L1093.1 1063.4M1082.8 1068.5L1096.4 1067.2M1086.1 1072.5L1099.7 1071.1M1089.4 1076.4L1103 1074.9M1092.8 1080.3L1106.4 1078.8" fill="none" stroke="#d8940a" stroke-width="1.3" opacity=".55" stroke-linecap="round"/><path d="M1073.9 1054.5L1082.5 1053.5M1077.1 1058.5L1085.8 1057.5M1080.3 1062.4L1089 1061.5M1083.6 1066.4L1092.2 1065.4M1086.9 1070.4L1095.5 1069.2M1090.3 1074.3L1098.9 1073.1M1093.6 1078.2L1102.2 1077M1097 1082.1L1105.6 1080.8" fill="none" stroke="#ffe160" stroke-width="1.4" opacity=".45" stroke-linecap="round"/></g><g><path d="M1082 1046C1082 1046 1090.9 1055.2 1095 1060C1098.8 1064.5 1106 1074 1106 1074" fill="none" stroke="#e21a1c" stroke-width="8.5" stroke-linecap="round" stroke-linejoin="round"/><path d="M1082 1046C1082 1046 1090.9 1055.2 1095 1060C1098.8 1064.5 1106 1074 1106 1074" fill="none" stroke="#a30d10" stroke-width="2.6" stroke-linecap="round" opacity=".3" transform="translate(1.2 1)"/><path d="M1082 1046C1082 1046 1090.9 1055.2 1095 1060C1098.8 1064.5 1106 1074 1106 1074" fill="none" stroke="#ff5a4a" stroke-width="2.6" stroke-linecap="round" opacity=".3" transform="translate(-1 -1)"/></g><g><path d="M1078 1062C1078 1062 1084.6 1071.5 1088 1076C1090.5 1079.4 1096 1086 1096 1086" fill="none" stroke="#1c3fd6" stroke-width="8.5" stroke-linecap="round" stroke-linejoin="round"/><path d="M1078 1062C1078 1062 1084.6 1071.5 1088 1076C1090.5 1079.4 1096 1086 1096 1086" fill="none" stroke="#0f2590" stroke-width="2.6" stroke-linecap="round" opacity=".3" transform="translate(1.2 1)"/><path d="M1078 1062C1078 1062 1084.6 1071.5 1088 1076C1090.5 1079.4 1096 1086 1096 1086" fill="none" stroke="#4a6cf5" stroke-width="2.6" stroke-linecap="round" opacity=".3" transform="translate(-1 -1)"/></g><g><path d="M1178.3 929.7L1186.6 934.4L1183.3 930.9L1184.9 928.7L1181.8 925.7L1183.6 922.9L1180.1 920.6L1182.8 916.9L1179.2 915.2L1181.6 911L1179.3 909.7L1179.7 905.3L1174.7 913Z" fill="#e21a1c" stroke="#e21a1c" stroke-width="1.6" stroke-linejoin="round"/><path d="M1075 928C1075 928 1094.2 920.5 1104 921C1115.7 921.6 1126.3 930.4 1138 931C1146.9 931.4 1155.4 926.2 1164 924C1168.6 922.9 1178 921 1178 921" fill="none" stroke="#e21a1c" stroke-width="17.1" stroke-linecap="round" stroke-linejoin="round"/><path d="M1075 928C1075 928 1094.2 920.5 1104 921C1115.7 921.6 1126.3 930.4 1138 931C1146.9 931.4 1155.4 926.2 1164 924C1168.6 922.9 1178 921 1178 921" fill="none" stroke="#a30d10" stroke-width="5.1" stroke-linecap="round" opacity=".3" transform="translate(1.2 1)"/><path d="M1075 928C1075 928 1094.2 920.5 1104 921C1115.7 921.6 1126.3 930.4 1138 931C1146.9 931.4 1155.4 926.2 1164 924C1168.6 922.9 1178 921 1178 921" fill="none" stroke="#ff5a4a" stroke-width="5.1" stroke-linecap="round" opacity=".3" transform="translate(-1 -1)"/></g><ellipse cx="1078" cy="927" rx="11" ry="12" fill="#e21a1c" /><g><path d="M1088 902C1088 902 1090.4 910.6 1094 912C1097 913.2 1103 908 1103 908" fill="none" stroke="#1c3fd6" stroke-width="11" stroke-linecap="round" stroke-linejoin="round"/><path d="M1088 902C1088 902 1090.4 910.6 1094 912C1097 913.2 1103 908 1103 908" fill="none" stroke="#0f2590" stroke-width="3.3" stroke-linecap="round" opacity=".3" transform="translate(1.2 1)"/><path d="M1088 902C1088 902 1090.4 910.6 1094 912C1097 913.2 1103 908 1103 908" fill="none" stroke="#4a6cf5" stroke-width="3.3" stroke-linecap="round" opacity=".3" transform="translate(-1 -1)"/></g><g><path d="M1171.8 841.9L1179.9 835.5L1175.4 838.2L1176.3 834.4L1173.1 835.7L1172.7 833.4L1169.8 834.8L1170 830.8L1167.5 832.3L1166.1 830.3L1163.7 832.4L1163.4 827.8L1162.8 836.7Z" fill="#1f9e55" stroke="#1f9e55" stroke-width="1.6" stroke-linejoin="round"/><path d="M1106 906C1106 906 1128.9 894.5 1138 886C1145.8 878.7 1150.3 868.1 1156 859C1160.2 852.2 1168 838 1168 838" fill="none" stroke="#1f9e55" stroke-width="10.4" stroke-linecap="round" stroke-linejoin="round"/><path d="M1106 906C1106 906 1128.9 894.5 1138 886C1145.8 878.7 1150.3 868.1 1156 859C1160.2 852.2 1168 838 1168 838" fill="none" stroke="#0e6d37" stroke-width="3.1" stroke-linecap="round" opacity=".3" transform="translate(1.2 1)"/><path d="M1107.2 910.8L1108.7 899.2M1111.1 908.7L1112.5 897.2M1115 906.7L1116.2 895.1M1118.9 904.5L1119.9 892.9M1122.8 902.3L1123.5 890.7M1126.6 900L1127.1 888.4M1130.4 897.6L1130.5 886M1134.2 895.1L1133.9 883.5M1138.1 892.3L1136.7 880.8M1141.9 889.1L1139.1 877.8M1145.1 885.6L1141.3 874.6M1147.8 881.9L1143.6 871.1M1150.4 878.1L1145.6 867.5M1152.7 874.3L1147.7 863.8M1154.8 870.5L1149.8 860M1156.9 866.8L1152.1 856.2M1159.1 863.1L1154.4 852.4M1161.4 859.3L1156.5 848.7M1163.7 855.5L1158.7 845M1165.8 851.7L1160.8 841.2M1168 847.9L1162.9 837.4M1170.1 844L1165 833.6" fill="none" stroke="#0e6d37" stroke-width="1.3" opacity=".55" stroke-linecap="round"/><path d="M1109.5 907.7L1110.2 900.3M1113.4 905.6L1114 898.3M1117.3 903.5L1117.7 896.1M1121.1 901.3L1121.5 894M1124.9 899.1L1125.1 891.7M1128.7 896.7L1128.7 889.4M1132.4 894.3L1132.2 886.9M1136 891.7L1135.5 884.3M1139.6 888.7L1138.4 881.4M1142.9 885.4L1140.9 878.3M1145.8 881.8L1143.2 874.9M1148.4 878.1L1145.4 871.3M1150.8 874.2L1147.5 867.6M1153 870.4L1149.5 863.9M1155.1 866.6L1151.7 860.1M1157.3 862.9L1154 856.3M1159.5 859.2L1156.3 852.6M1161.8 855.4L1158.4 848.8M1164 851.6L1160.5 845.1M1166.1 847.8L1162.6 841.3M1168.3 844L1164.7 837.5M1170.4 840.2L1166.8 833.7" fill="none" stroke="#55c982" stroke-width="1.4" opacity=".45" stroke-linecap="round"/></g><radialGradient id="bg19" cx=".42" cy=".38" r=".7"><stop offset="0" stop-color="#52c8f6"/><stop offset=".55" stop-color="#16a6e6"/><stop offset="1" stop-color="#0a78b8"/></radialGradient><ellipse cx="1091" cy="883" rx="22.5" ry="21" fill="url(#bg19)"/><ellipse cx="1083.1" cy="875.6" rx="2.7" ry="4.6" fill="#fff" opacity=".55" transform="rotate(-30 1083.1 875.6)"/><linearGradient id="cc20b" x1="0" x2="1" y1="0" y2="1"><stop offset="0" stop-color="#e6a468"/><stop offset=".6" stop-color="#cf8446"/><stop offset="1" stop-color="#a85c22"/></linearGradient><g filter="url(#tex2)"><ellipse cx="1081.5" cy="829" rx="38" ry="36.5" fill="url(#cc20b)" transform="rotate(-10 1081.5 829)"/></g><g transform="rotate(-10 1068 831)"><ellipse cx="1068" cy="831" rx="38" ry="36.5" fill="#d9975e" /><ellipse cx="1099.9" cy="830.8" rx="6.4" ry="4.1" fill="#f0d8b8" transform="rotate(-0.3 1099.9 830.8)"/><ellipse cx="1098.7" cy="839.5" rx="6.8" ry="3.6" fill="#f0d8b8" transform="rotate(16 1098.7 839.5)"/><ellipse cx="1094.6" cy="848" rx="6.7" ry="3.6" fill="#ead0ac" transform="rotate(33.6 1094.6 848)"/><ellipse cx="1089.9" cy="853.3" rx="6.3" ry="4.1" fill="#efdcc0" transform="rotate(46.6 1089.9 853.3)"/><ellipse cx="1080.9" cy="859" rx="6.1" ry="3.8" fill="#f4e6d0" transform="rotate(66.1 1080.9 859)"/><ellipse cx="1072.1" cy="861.4" rx="6.8" ry="3.5" fill="#efdcc0" transform="rotate(82.7 1072.1 861.4)"/><ellipse cx="1064.6" cy="861.5" rx="5.9" ry="3.5" fill="#f0d8b8" transform="rotate(96.1 1064.6 861.5)"/><ellipse cx="1055.3" cy="859.1" rx="6.4" ry="3.6" fill="#f4e6d0" transform="rotate(113.4 1055.3 859.1)"/><ellipse cx="1046.7" cy="853.8" rx="6.3" ry="3.9" fill="#f0d8b8" transform="rotate(131.9 1046.7 853.8)"/><ellipse cx="1040.8" cy="847.1" rx="6.1" ry="3.9" fill="#efdcc0" transform="rotate(148.3 1040.8 847.1)"/><ellipse cx="1037.2" cy="838.9" rx="6" ry="3.7" fill="#ead0ac" transform="rotate(165.1 1037.2 838.9)"/><ellipse cx="1036.1" cy="832.7" rx="6.4" ry="3.6" fill="#efdcc0" transform="rotate(176.8 1036.1 832.7)"/><ellipse cx="1037.8" cy="821.1" rx="6.1" ry="4.1" fill="#efdcc0" transform="rotate(198.7 1037.8 821.1)"/><ellipse cx="1040.6" cy="815.3" rx="6.9" ry="3.5" fill="#f0d8b8" transform="rotate(210.8 1040.6 815.3)"/><ellipse cx="1048.5" cy="806.7" rx="6.1" ry="3.6" fill="#f4e6d0" transform="rotate(232.4 1048.5 806.7)"/><ellipse cx="1055.7" cy="802.7" rx="5.9" ry="3.6" fill="#ead0ac" transform="rotate(247.4 1055.7 802.7)"/><ellipse cx="1061.6" cy="801" rx="6.1" ry="4.1" fill="#f4e6d0" transform="rotate(258.5 1061.6 801)"/><ellipse cx="1071.6" cy="800.5" rx="5.7" ry="3.5" fill="#f0d8b8" transform="rotate(276.4 1071.6 800.5)"/><ellipse cx="1080.1" cy="802.6" rx="6.4" ry="3.8" fill="#f4e6d0" transform="rotate(292.3 1080.1 802.6)"/><ellipse cx="1090.3" cy="809" rx="6.7" ry="3.8" fill="#f0d8b8" transform="rotate(314.2 1090.3 809)"/><ellipse cx="1094" cy="813.3" rx="6.2" ry="3.6" fill="#ead0ac" transform="rotate(324.6 1094 813.3)"/><ellipse cx="1099" cy="823.7" rx="7" ry="3.9" fill="#efdcc0" transform="rotate(346.1 1099 823.7)"/><ellipse cx="1068" cy="831" rx="28.1" ry="27" fill="#f1e4cf" /><radialGradient id="cc20" cx=".5" cy=".48" r=".6"><stop offset="0" stop-color="#dfe8f3"/><stop offset=".55" stop-color="#edf0f2"/><stop offset="1" stop-color="#f6f3ec"/></radialGradient><ellipse cx="1068" cy="831" rx="25.8" ry="24.8" fill="url(#cc20)" /></g><radialGradient id="bg21" cx=".42" cy=".38" r=".7"><stop offset="0" stop-color="#fbb23c"/><stop offset=".55" stop-color="#f28d10"/><stop offset="1" stop-color="#c96406"/></radialGradient><ellipse cx="1090.8" cy="772.5" rx="21.6" ry="23.4" fill="url(#bg21)"/><ellipse cx="1083.2" cy="764.3" rx="2.6" ry="5.1" fill="#fff" opacity=".55" transform="rotate(-30 1083.2 764.3)"/></g>
</g>
<g fill="none" stroke="#0a0a0a" stroke-width="3.5" stroke-linecap="round" stroke-linejoin="round"><path d="M105 114L513.5 114"/><path d="M113 119.7L105 114L113 108.3"/><path d="M505.5 108.3L513.5 114L505.5 119.7"/></g><g fill="none" stroke="#0a0a0a" stroke-width="3.5" stroke-linecap="round" stroke-linejoin="round"><path d="M68 115L57 631"/><path d="M62.1 122.9L68 115L73.6 123.2"/><path d="M62.9 623.1L57 631L51.4 622.8"/></g><g fill="none" stroke="#0a0a0a" stroke-width="3.5" stroke-linecap="round" stroke-linejoin="round"><path d="M582 116.5L588 477"/><path d="M576.4 124.6L582 116.5L587.9 124.4"/><path d="M593.6 468.9L588 477L582.1 469.1"/></g><g fill="none" stroke="#0a0a0a" stroke-width="3.5" stroke-linecap="round" stroke-linejoin="round"><path d="M908 117L908 480"/><path d="M902.3 125L908 117L913.7 125"/><path d="M913.7 472L908 480L902.3 472"/></g><g fill="none" stroke="#0a0a0a" stroke-width="3.5" stroke-linecap="round" stroke-linejoin="round"><path d="M704 521L1029 521"/><path d="M712 526.7L704 521L712 515.3"/><path d="M1021 515.3L1029 521L1021 526.7"/></g><g fill="none" stroke="#0a0a0a" stroke-width="3.5" stroke-linecap="round" stroke-linejoin="round"><path d="M1165 149.5L1165 408.5"/><path d="M1159.3 157.5L1165 149.5L1170.7 157.5"/><path d="M1170.7 400.5L1165 408.5L1159.3 400.5"/></g><g fill="none" stroke="#0a0a0a" stroke-width="3.5" stroke-linecap="round" stroke-linejoin="round"><path d="M171 668L420 668"/><path d="M179 673.7L171 668L179 662.3"/><path d="M412 662.3L420 668L412 673.7"/></g><g fill="none" stroke="#0a0a0a" stroke-width="3.5" stroke-linecap="round" stroke-linejoin="round"><path d="M806 668.7L1202.5 668.3"/><path d="M814 674.4L806 668.7L814 663"/><path d="M1194.5 662.6L1202.5 668.3L1194.5 674"/></g><g fill="none" stroke="#0a0a0a" stroke-width="3.5" stroke-linecap="round" stroke-linejoin="round"><path d="M758.5 687L769.5 1250"/><path d="M752.9 695.2L758.5 687L764.4 694.9"/><path d="M775.1 1241.8L769.5 1250L763.6 1242.1"/></g><g fill="none" stroke="#0a0a0a" stroke-width="3.5" stroke-linecap="round" stroke-linejoin="round"><path d="M852 1253.5L1101 1253.5"/><path d="M860 1259.2L852 1253.5L860 1247.8"/><path d="M1093 1247.8L1101 1253.5L1093 1259.2"/></g><g font-family="'Liberation Sans', Arial, Helvetica, sans-serif" fill="#111"><text x="256" y="106" font-size="29" textLength="100" lengthAdjust="spacing">6.3inch</text><text x="81" y="277.5" font-size="29" textLength="100" lengthAdjust="spacing">6.3inch</text><text x="621.5" y="306.8" font-size="29" textLength="118" lengthAdjust="spacing">5.91inch</text><text x="908.5" y="306.8" font-size="29" textLength="121" lengthAdjust="spacing">5.91inch</text><text x="1180.5" y="290.5" font-size="29" textLength="118.5" lengthAdjust="spacing">3.94inch</text><text x="826.5" y="548" font-size="29" textLength="118" lengthAdjust="spacing">5.91inch</text><text x="237" y="732" font-size="29" textLength="118.5" lengthAdjust="spacing">3.94inch</text><text x="911" y="643" font-size="29" textLength="118.5" lengthAdjust="spacing">5.91inch</text><text x="620" y="1000.5" font-size="29" textLength="119.5" lengthAdjust="spacing">5.91inch</text><text x="912" y="1301" font-size="29" textLength="118" lengthAdjust="spacing">3.94inch</text><g font-size="41"><text x="130" y="1001" textLength="80" lengthAdjust="spacingAndGlyphs">Tips,</text><text x="130" y="1052.9" textLength="436.5" lengthAdjust="spacingAndGlyphs">Due to handcrafting and</text><text x="130" y="1104.8" textLength="401.5" lengthAdjust="spacingAndGlyphs">manual measurement,</text><text x="130" y="1156.7" textLength="438.5" lengthAdjust="spacingAndGlyphs">please allow for an error</text><text x="130" y="1208.6" textLength="357.5" lengthAdjust="spacingAndGlyphs">of 0.2 to 0.3 inches.</text></g></g>
</svg>
</body></html>
